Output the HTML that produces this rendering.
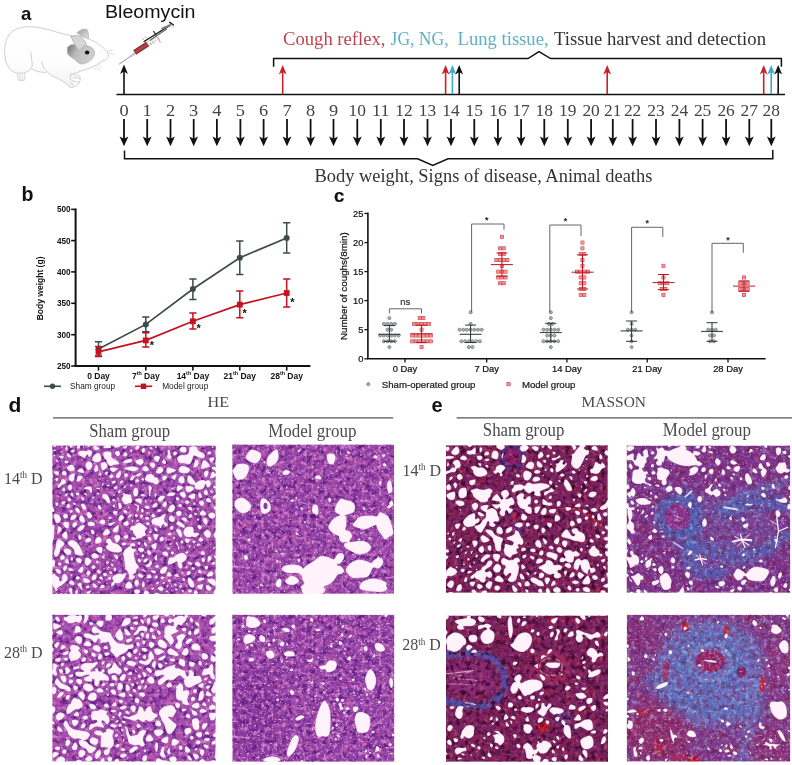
<!DOCTYPE html>
<html lang="en">
<head>
<meta charset="utf-8">
<title>Figure: Bleomycin guinea pig model</title>
<style>
html,body{margin:0;padding:0;background:#fff;}
body{width:792px;height:765px;overflow:hidden;font-family:"Liberation Sans",sans-serif;}
svg{display:block;}
.lab{font-family:"Liberation Sans",sans-serif;font-weight:700;font-size:20.5px;fill:#111;}
</style>
</head>
<body>
<svg width="792" height="765" viewBox="0 0 792 765">
<rect width="792" height="765" fill="#fff"/>
<g id="panel-a">
<text x="21" y="20.1" class="lab" style="font-size:18.6px">a</text>
<text x="105" y="17.7" font-family="'Liberation Sans',sans-serif" font-size="18.8" fill="#111" textLength="90.5" lengthAdjust="spacingAndGlyphs">Bleomycin</text>
<text x="283" y="45.3" font-family="'Liberation Serif',serif" font-size="19.6" lengthAdjust="spacingAndGlyphs" fill="#c0444e" textLength="102.5">Cough reflex,</text>
<text x="390.6" y="45.3" font-family="'Liberation Serif',serif" font-size="19.6" lengthAdjust="spacingAndGlyphs" fill="#5eb0c6" textLength="58">JG, NG,</text>
<text x="457.6" y="45.3" font-family="'Liberation Serif',serif" font-size="19.6" lengthAdjust="spacingAndGlyphs" fill="#5eb0c6" textLength="91">Lung tissue,</text>
<text x="554" y="45.3" font-family="'Liberation Serif',serif" font-size="19.6" lengthAdjust="spacingAndGlyphs" fill="#333" textLength="212">Tissue harvest and detection</text>
<path d="M273.6 66.8V58.6H528L539 51.6L550.6 58.6H781.4V66.8" fill="none" stroke="#111" stroke-width="1.5" stroke-linejoin="miter"/>
<path d="M116.4 94.5H785" stroke="#111" stroke-width="1.6" fill="none"/>
<path d="M124 94V69.5" stroke="#111" stroke-width="1.6" fill="none"/><path d="M124 64.5L127.9 74L124 71.4L120.1 74Z" fill="#111"/>
<path d="M282.7 94V70" stroke="#cc1f2a" stroke-width="1.6" fill="none"/><path d="M282.7 65L286.6 74.5L282.7 71.9L278.8 74.5Z" fill="#cc1f2a"/>
<path d="M445.6 94V70" stroke="#cc1f2a" stroke-width="1.6" fill="none"/><path d="M445.6 65L449.5 74.5L445.6 71.9L441.7 74.5Z" fill="#cc1f2a"/>
<path d="M452.4 94V70" stroke="#3fa9c9" stroke-width="1.6" fill="none"/><path d="M452.4 65L456.3 74.5L452.4 71.9L448.5 74.5Z" fill="#3fa9c9"/>
<path d="M459.2 94V70" stroke="#111" stroke-width="1.6" fill="none"/><path d="M459.2 65L463.1 74.5L459.2 71.9L455.3 74.5Z" fill="#111"/>
<path d="M607.2 94V70" stroke="#cc1f2a" stroke-width="1.6" fill="none"/><path d="M607.2 65L611.1 74.5L607.2 71.9L603.3 74.5Z" fill="#cc1f2a"/>
<path d="M763.7 94V70" stroke="#cc1f2a" stroke-width="1.6" fill="none"/><path d="M763.7 65L767.6 74.5L763.7 71.9L759.8 74.5Z" fill="#cc1f2a"/>
<path d="M771.2 94V70" stroke="#3fa9c9" stroke-width="1.6" fill="none"/><path d="M771.2 65L775.1 74.5L771.2 71.9L767.3 74.5Z" fill="#3fa9c9"/>
<path d="M778.2 94V70" stroke="#111" stroke-width="1.6" fill="none"/><path d="M778.2 65L782.1 74.5L778.2 71.9L774.3 74.5Z" fill="#111"/>
<text x="119.4" y="115.6" font-family="'Liberation Serif',serif" font-size="17" fill="#444" textLength="9.2" lengthAdjust="spacingAndGlyphs">0</text>
<path d="M124 119V141.2" stroke="#111" stroke-width="1.8" fill="none"/><path d="M124 146.2L119.6 136.6L124 138.8L128.4 136.6Z" fill="#111"/>
<text x="142.6" y="115.6" font-family="'Liberation Serif',serif" font-size="17" fill="#444" textLength="9.2" lengthAdjust="spacingAndGlyphs">1</text>
<path d="M147.2 119V141.2" stroke="#111" stroke-width="1.8" fill="none"/><path d="M147.2 146.2L142.8 136.6L147.2 138.8L151.6 136.6Z" fill="#111"/>
<text x="165.9" y="115.6" font-family="'Liberation Serif',serif" font-size="17" fill="#444" textLength="9.2" lengthAdjust="spacingAndGlyphs">2</text>
<path d="M170.5 119V141.2" stroke="#111" stroke-width="1.8" fill="none"/><path d="M170.5 146.2L166.1 136.6L170.5 138.8L174.9 136.6Z" fill="#111"/>
<text x="189.1" y="115.6" font-family="'Liberation Serif',serif" font-size="17" fill="#444" textLength="9.2" lengthAdjust="spacingAndGlyphs">3</text>
<path d="M193.7 119V141.2" stroke="#111" stroke-width="1.8" fill="none"/><path d="M193.7 146.2L189.3 136.6L193.7 138.8L198.1 136.6Z" fill="#111"/>
<text x="212.3" y="115.6" font-family="'Liberation Serif',serif" font-size="17" fill="#444" textLength="9.2" lengthAdjust="spacingAndGlyphs">4</text>
<path d="M216.9 119V141.2" stroke="#111" stroke-width="1.8" fill="none"/><path d="M216.9 146.2L212.5 136.6L216.9 138.8L221.3 136.6Z" fill="#111"/>
<text x="235.8" y="115.6" font-family="'Liberation Serif',serif" font-size="17" fill="#444" textLength="9.2" lengthAdjust="spacingAndGlyphs">5</text>
<path d="M240.4 119V141.2" stroke="#111" stroke-width="1.8" fill="none"/><path d="M240.4 146.2L236 136.6L240.4 138.8L244.8 136.6Z" fill="#111"/>
<text x="259" y="115.6" font-family="'Liberation Serif',serif" font-size="17" fill="#444" textLength="9.2" lengthAdjust="spacingAndGlyphs">6</text>
<path d="M263.6 119V141.2" stroke="#111" stroke-width="1.8" fill="none"/><path d="M263.6 146.2L259.2 136.6L263.6 138.8L268 136.6Z" fill="#111"/>
<text x="282.4" y="115.6" font-family="'Liberation Serif',serif" font-size="17" fill="#444" textLength="9.2" lengthAdjust="spacingAndGlyphs">7</text>
<path d="M287 119V141.2" stroke="#111" stroke-width="1.8" fill="none"/><path d="M287 146.2L282.6 136.6L287 138.8L291.4 136.6Z" fill="#111"/>
<text x="306" y="115.6" font-family="'Liberation Serif',serif" font-size="17" fill="#444" textLength="9.2" lengthAdjust="spacingAndGlyphs">8</text>
<path d="M310.6 119V141.2" stroke="#111" stroke-width="1.8" fill="none"/><path d="M310.6 146.2L306.2 136.6L310.6 138.8L315 136.6Z" fill="#111"/>
<text x="328.9" y="115.6" font-family="'Liberation Serif',serif" font-size="17" fill="#444" textLength="9.2" lengthAdjust="spacingAndGlyphs">9</text>
<path d="M333.5 119V141.2" stroke="#111" stroke-width="1.8" fill="none"/><path d="M333.5 146.2L329.1 136.6L333.5 138.8L337.9 136.6Z" fill="#111"/>
<text x="348.6" y="115.6" font-family="'Liberation Serif',serif" font-size="17" fill="#444" textLength="17.4" lengthAdjust="spacingAndGlyphs">10</text>
<path d="M357.3 119V141.2" stroke="#111" stroke-width="1.8" fill="none"/><path d="M357.3 146.2L352.9 136.6L357.3 138.8L361.7 136.6Z" fill="#111"/>
<text x="372.1" y="115.6" font-family="'Liberation Serif',serif" font-size="17" fill="#444" textLength="17.4" lengthAdjust="spacingAndGlyphs">11</text>
<path d="M380.8 119V141.2" stroke="#111" stroke-width="1.8" fill="none"/><path d="M380.8 146.2L376.4 136.6L380.8 138.8L385.2 136.6Z" fill="#111"/>
<text x="395.3" y="115.6" font-family="'Liberation Serif',serif" font-size="17" fill="#444" textLength="17.4" lengthAdjust="spacingAndGlyphs">12</text>
<path d="M404 119V141.2" stroke="#111" stroke-width="1.8" fill="none"/><path d="M404 146.2L399.6 136.6L404 138.8L408.4 136.6Z" fill="#111"/>
<text x="418.8" y="115.6" font-family="'Liberation Serif',serif" font-size="17" fill="#444" textLength="17.4" lengthAdjust="spacingAndGlyphs">13</text>
<path d="M427.5 119V141.2" stroke="#111" stroke-width="1.8" fill="none"/><path d="M427.5 146.2L423.1 136.6L427.5 138.8L431.9 136.6Z" fill="#111"/>
<text x="442.3" y="115.6" font-family="'Liberation Serif',serif" font-size="17" fill="#444" textLength="17.4" lengthAdjust="spacingAndGlyphs">14</text>
<path d="M451 119V141.2" stroke="#111" stroke-width="1.8" fill="none"/><path d="M451 146.2L446.6 136.6L451 138.8L455.4 136.6Z" fill="#111"/>
<text x="465.6" y="115.6" font-family="'Liberation Serif',serif" font-size="17" fill="#444" textLength="17.4" lengthAdjust="spacingAndGlyphs">15</text>
<path d="M474.3 119V141.2" stroke="#111" stroke-width="1.8" fill="none"/><path d="M474.3 146.2L469.9 136.6L474.3 138.8L478.7 136.6Z" fill="#111"/>
<text x="489.2" y="115.6" font-family="'Liberation Serif',serif" font-size="17" fill="#444" textLength="17.4" lengthAdjust="spacingAndGlyphs">16</text>
<path d="M497.9 119V141.2" stroke="#111" stroke-width="1.8" fill="none"/><path d="M497.9 146.2L493.5 136.6L497.9 138.8L502.3 136.6Z" fill="#111"/>
<text x="512.4" y="115.6" font-family="'Liberation Serif',serif" font-size="17" fill="#444" textLength="17.4" lengthAdjust="spacingAndGlyphs">17</text>
<path d="M521.1 119V141.2" stroke="#111" stroke-width="1.8" fill="none"/><path d="M521.1 146.2L516.7 136.6L521.1 138.8L525.5 136.6Z" fill="#111"/>
<text x="535.6" y="115.6" font-family="'Liberation Serif',serif" font-size="17" fill="#444" textLength="17.4" lengthAdjust="spacingAndGlyphs">18</text>
<path d="M544.3 119V141.2" stroke="#111" stroke-width="1.8" fill="none"/><path d="M544.3 146.2L539.9 136.6L544.3 138.8L548.7 136.6Z" fill="#111"/>
<text x="559.1" y="115.6" font-family="'Liberation Serif',serif" font-size="17" fill="#444" textLength="17.4" lengthAdjust="spacingAndGlyphs">19</text>
<path d="M567.8 119V141.2" stroke="#111" stroke-width="1.8" fill="none"/><path d="M567.8 146.2L563.4 136.6L567.8 138.8L572.2 136.6Z" fill="#111"/>
<text x="582.4" y="115.6" font-family="'Liberation Serif',serif" font-size="17" fill="#444" textLength="17.4" lengthAdjust="spacingAndGlyphs">20</text>
<path d="M591.1 119V141.2" stroke="#111" stroke-width="1.8" fill="none"/><path d="M591.1 146.2L586.7 136.6L591.1 138.8L595.5 136.6Z" fill="#111"/>
<text x="604.1" y="115.6" font-family="'Liberation Serif',serif" font-size="17" fill="#444" textLength="17.4" lengthAdjust="spacingAndGlyphs">21</text>
<path d="M612.8 119V141.2" stroke="#111" stroke-width="1.8" fill="none"/><path d="M612.8 146.2L608.4 136.6L612.8 138.8L617.2 136.6Z" fill="#111"/>
<text x="623.9" y="115.6" font-family="'Liberation Serif',serif" font-size="17" fill="#444" textLength="17.4" lengthAdjust="spacingAndGlyphs">22</text>
<path d="M632.6 119V141.2" stroke="#111" stroke-width="1.8" fill="none"/><path d="M632.6 146.2L628.2 136.6L632.6 138.8L637 136.6Z" fill="#111"/>
<text x="647.3" y="115.6" font-family="'Liberation Serif',serif" font-size="17" fill="#444" textLength="17.4" lengthAdjust="spacingAndGlyphs">23</text>
<path d="M656 119V141.2" stroke="#111" stroke-width="1.8" fill="none"/><path d="M656 146.2L651.6 136.6L656 138.8L660.4 136.6Z" fill="#111"/>
<text x="670.7" y="115.6" font-family="'Liberation Serif',serif" font-size="17" fill="#444" textLength="17.4" lengthAdjust="spacingAndGlyphs">24</text>
<path d="M679.4 119V141.2" stroke="#111" stroke-width="1.8" fill="none"/><path d="M679.4 146.2L675 136.6L679.4 138.8L683.8 136.6Z" fill="#111"/>
<text x="693.9" y="115.6" font-family="'Liberation Serif',serif" font-size="17" fill="#444" textLength="17.4" lengthAdjust="spacingAndGlyphs">25</text>
<path d="M702.6 119V141.2" stroke="#111" stroke-width="1.8" fill="none"/><path d="M702.6 146.2L698.2 136.6L702.6 138.8L707 136.6Z" fill="#111"/>
<text x="717.4" y="115.6" font-family="'Liberation Serif',serif" font-size="17" fill="#444" textLength="17.4" lengthAdjust="spacingAndGlyphs">26</text>
<path d="M726.1 119V141.2" stroke="#111" stroke-width="1.8" fill="none"/><path d="M726.1 146.2L721.7 136.6L726.1 138.8L730.5 136.6Z" fill="#111"/>
<text x="740.6" y="115.6" font-family="'Liberation Serif',serif" font-size="17" fill="#444" textLength="17.4" lengthAdjust="spacingAndGlyphs">27</text>
<path d="M749.3 119V141.2" stroke="#111" stroke-width="1.8" fill="none"/><path d="M749.3 146.2L744.9 136.6L749.3 138.8L753.7 136.6Z" fill="#111"/>
<text x="762.6" y="115.6" font-family="'Liberation Serif',serif" font-size="17" fill="#444" textLength="17.4" lengthAdjust="spacingAndGlyphs">28</text>
<path d="M771.3 119V141.2" stroke="#111" stroke-width="1.8" fill="none"/><path d="M771.3 146.2L766.9 136.6L771.3 138.8L775.7 136.6Z" fill="#111"/>
<path d="M124.5 150.5V158.7H417.6L432.8 165.4L448 158.7H772.8V150" fill="none" stroke="#111" stroke-width="1.5"/>
<text x="314.4" y="182.2" font-family="'Liberation Serif',serif" font-size="18.6" fill="#333" textLength="338" lengthAdjust="spacingAndGlyphs">Body weight, Signs of disease, Animal deaths</text>
</g>
<g id="guinea-pig" fill="none" stroke="#c9c9c9" stroke-width="0.9" stroke-linecap="round" stroke-linejoin="round">
<defs><linearGradient id="pgEar" x1="0" y1="0" x2="1" y2="1"><stop offset="0" stop-color="#9a9a9a"/><stop offset="1" stop-color="#e4e4e4"/></linearGradient><linearGradient id="pgPatch" x1="0" y1="0" x2="1" y2="0.4"><stop offset="0" stop-color="#6f6f6f"/><stop offset="0.45" stop-color="#bdbdbd"/><stop offset="1" stop-color="#cfcfcf"/></linearGradient><linearGradient id="pgBody" x1="0" y1="0" x2="0" y2="1"><stop offset="0" stop-color="#ffffff"/><stop offset="0.6" stop-color="#fdfdfd"/><stop offset="1" stop-color="#f1f1f1"/></linearGradient></defs>
<path d="M5.6 60.6Q5.6 60.6 5.0 56.8Q4.5 53.0 4.6 50.2Q4.7 47.4 5.5 43.0Q6.3 38.7 9.1 34.8Q11.8 30.8 16.6 28.9Q21.3 27.0 27.2 26.7Q33.1 26.4 40.2 27.8Q47.3 29.2 54.5 31.4Q61.6 33.6 66.3 34.7Q71.0 35.8 76.5 36.0Q82.0 36.2 87.2 38.2Q92.3 40.3 96.7 43.0Q101.0 45.8 104.3 48.7Q107.6 51.6 108.3 54.0Q109.0 56.4 107.2 58.6Q105.5 60.8 104.2 60.7Q102.8 60.6 102.8 60.6Q102.8 60.6 100.9 62.1Q99.0 63.6 96.7 64.8Q94.4 66.1 91.7 67.2Q89.0 68.4 86.2 69.3Q83.3 70.3 80.2 71.4Q77.0 72.6 73.9 73.5Q70.8 74.4 72.9 77.2Q75.0 80.0 73.6 83.8Q72.2 87.6 70.8 87.2Q69.4 86.9 68.1 85.6Q66.7 84.2 64.7 82.7Q62.6 81.2 60.5 79.9Q58.3 78.6 56.1 77.7Q54.0 76.8 52.0 75.6Q50.0 74.4 48.5 73.1Q47.0 71.8 45.7 70.3Q44.4 68.9 43.5 67.3Q42.6 65.8 42.2 63.8Q41.7 61.9 43.8 67.2Q45.8 72.4 43.9 72.3Q42.0 72.3 40.5 72.0Q38.9 71.7 37.0 71.2Q35.0 70.8 33.5 69.8Q31.9 68.9 31.8 64.8Q31.7 60.6 32.1 62.3Q32.6 64.0 32.0 66.1Q31.3 68.2 30.4 69.4Q29.4 70.6 27.5 71.5Q25.7 72.4 23.4 72.9Q21.0 73.4 18.9 73.2Q16.7 73.1 14.8 72.4Q13.0 71.8 11.3 70.3Q9.7 68.9 8.6 67.2Q7.4 65.5 6.5 63.0Q5.6 60.6 5.6 60.6Z" fill="url(#pgBody)" stroke="none"/>
<path d="M5.6 60.6Q4.5 53.0 4.6 50.2Q4.7 47.4 5.5 43.0Q6.3 38.7 9.1 34.8Q11.8 30.8 16.6 28.9Q21.3 27.0 27.2 26.7Q33.1 26.4 40.2 27.8Q47.3 29.2 54.5 31.4Q61.6 33.6 66.3 34.7Q71.0 35.8 76.5 36.0Q82.0 36.2 87.2 38.2Q92.3 40.3 96.7 43.0Q101.0 45.8 104.3 48.7Q107.6 51.6 108.3 54.0Q109.0 56.4 107.2 58.6Q105.5 60.8 104.2 60.7L102.8 60.6"/>
<path d="M5.6 60.6Q7.4 65.5 8.6 67.2Q9.7 68.9 11.3 70.3Q13.0 71.8 14.8 72.4Q16.7 73.1 18.9 73.2Q21.0 73.4 23.4 72.9Q25.7 72.4 27.5 71.5Q29.4 70.6 30.4 69.4Q31.3 68.2 32.0 66.1Q32.6 64.0 32.1 62.3Q31.7 60.6 31.5 58.3Q31.4 56.0 31.0 54.0L30.6 52.1"/>
<path d="M31.9 68.9Q35.0 70.8 37.0 71.2Q38.9 71.7 40.5 72.0Q42.0 72.3 43.9 72.3L45.8 72.4"/>
<path d="M41.7 61.9Q42.6 65.8 43.5 67.3Q44.4 68.9 45.7 70.3Q47.0 71.8 48.5 73.1Q50.0 74.4 52.0 75.6Q54.0 76.8 56.1 77.7Q58.3 78.6 60.5 79.9Q62.6 81.2 64.7 82.7Q66.7 84.2 68.1 85.6L69.4 86.9"/>
<path d="M70.8 74.4Q77.0 72.6 80.2 71.4Q83.3 70.3 86.2 69.3Q89.0 68.4 91.7 67.2Q94.4 66.1 96.7 64.8Q99.0 63.6 100.9 62.1L102.8 60.6"/>
<path d="M17.6 73.6Q17 77.5 18.4 80M19.8 74.4L20.2 80.6M22.2 74.4L22.4 80.6M24.8 73.4Q25.4 77.4 24 80.2M18.4 80Q21 81.6 24 80.2" stroke="#cdcdcd" stroke-width="0.8"/>
<path d="M70.8 74.4Q69.4 77 70.6 79.6M70.8 74.6L77.6 75.2M73.4 77.6L80.2 78.2M72 80.8L79 82.4M70.4 83.2L75.4 86.6M69.4 86.9Q71.6 88.4 74 87.2M77.6 75.2Q80.8 76.2 80.2 78.2Q80.6 80.6 79 82.4Q77.8 85.4 75.4 86.6" stroke="#c6c6c6" stroke-width="0.8"/>
<path d="M96.4 66.6L99.4 71M93.6 67.6L95.4 70.2M98.4 65L101 67.4M108.6 52.8L113.4 54.6M108.2 50.8L112.4 50.2" stroke="#d0d0d0" stroke-width="0.7"/>
<path d="M77.0 32.7Q82.1 27.6 87.1 29.5Q89.2 33.2 88.4 38.7L82.1 36.3Z" fill="url(#pgEar)" stroke="#bdbdbd"/>
<path d="M67.6 47.4Q70.2 43.7 75.8 44.4L86.0 45.3Q94.4 47.4 94.7 52.9Q93.9 60.0 84.4 63.6Q79.7 65.2 75.4 60.0L70.2 56.4Q66.0 53.7 67.6 47.4Z" fill="url(#pgPatch)" stroke="#b5b5b5"/>
<path d="M71.0 36.5Q75.8 34.7 79.7 36.3Q86.0 41.0 86.5 44.2L78.9 50.5Q74.2 45.0 71.0 36.5Z" fill="#d6d6d6" stroke="#b8b8b8"/>
<ellipse cx="87.1" cy="52.4" rx="2.2" ry="2" fill="#0c0c0c" stroke="none"/>
</g>
<g id="syringe" stroke-linecap="round" fill="none">
<path d="M119.3 64.1L134.0 54.0" stroke="#8a8a8a" stroke-width="0.9"/>
<path d="M129.7 56.9L134.2 53.7" stroke="#b9c0c8" stroke-width="1.8"/>
<path d="M146.4 44.8L158.3 36.7" stroke="#d9d9d9" stroke-width="5.2" stroke-linecap="butt"/>
<path d="M146.4 44.8L158.3 36.7" stroke="#f4f4f4" stroke-width="3" stroke-linecap="butt"/>
<path d="M134.6 52.6L147.6 43.9" stroke="#8a2a31" stroke-width="5.4" stroke-linecap="butt"/>
<path d="M135.1 52.3L147.2 44.2" stroke="#b24148" stroke-width="3" stroke-linecap="butt"/>
<path d="M142.3 38.4L145.6 41.3M144.8 36.7L147.6 39.2M150.2 43.3L151.6 44.9M152.4 41.5L154.0 43.3" stroke="#9a9a9a" stroke-width="0.7"/>
<path d="M153.6 31.4L156.3 35.2" stroke="#222" stroke-width="1.1"/>
<path d="M157.7 37.4Q159.7 39.2 160.2 42.1" stroke="#b98a90" stroke-width="1"/>
<path d="M144.1 41.5L169.1 25.9" stroke="#1d1d1d" stroke-width="1.4"/>
<path d="M150.4 40.3L166.6 29.1" stroke="#6b6b6b" stroke-width="1.2"/>
<path d="M162.5 28.6L170.6 25.1" stroke="#7a7a7a" stroke-width="2.2"/>
<path d="M169.6 22.3L173.4 24.9" stroke="#2a2a2a" stroke-width="1.5"/>
<path d="M171.1 25.1L173.6 27.6" stroke="#e7c9cc" stroke-width="1.2"/>
</g>
<g id="panel-b" font-family="'Liberation Sans',sans-serif">
<text x="21.6" y="200.5" class="lab" style="font-size:19.6px">b</text>
<path d="M75.6 208.4V367M74.6 366H310.4" stroke="#111" stroke-width="2" fill="none"/>
<path d="M71.2 209.4H75.6" stroke="#111" stroke-width="1.6"/>
<text x="70.6" y="212.3" font-size="8.2" font-weight="700" fill="#111" text-anchor="end">500</text>
<path d="M71.2 240.6H75.6" stroke="#111" stroke-width="1.6"/>
<text x="70.6" y="243.5" font-size="8.2" font-weight="700" fill="#111" text-anchor="end">450</text>
<path d="M71.2 271.9H75.6" stroke="#111" stroke-width="1.6"/>
<text x="70.6" y="274.8" font-size="8.2" font-weight="700" fill="#111" text-anchor="end">400</text>
<path d="M71.2 303.3H75.6" stroke="#111" stroke-width="1.6"/>
<text x="70.6" y="306.2" font-size="8.2" font-weight="700" fill="#111" text-anchor="end">350</text>
<path d="M71.2 334.7H75.6" stroke="#111" stroke-width="1.6"/>
<text x="70.6" y="337.6" font-size="8.2" font-weight="700" fill="#111" text-anchor="end">300</text>
<path d="M71.2 366H75.6" stroke="#111" stroke-width="1.6"/>
<text x="70.6" y="368.9" font-size="8.2" font-weight="700" fill="#111" text-anchor="end">250</text>
<path d="M98.5 366V370.6" stroke="#111" stroke-width="1.6"/>
<text x="98.5" y="378.6" font-size="8.5" font-weight="700" fill="#111" text-anchor="middle">0 Day</text>
<path d="M145.8 366V370.6" stroke="#111" stroke-width="1.6"/>
<text x="145.8" y="378.6" font-size="8.5" font-weight="700" fill="#111" text-anchor="middle">7<tspan font-size="5.4" dy="-3.2">th</tspan><tspan dy="3.2"> Day</tspan></text>
<path d="M192.9 366V370.6" stroke="#111" stroke-width="1.6"/>
<text x="192.9" y="378.6" font-size="8.5" font-weight="700" fill="#111" text-anchor="middle">14<tspan font-size="5.4" dy="-3.2">th</tspan><tspan dy="3.2"> Day</tspan></text>
<path d="M239.8 366V370.6" stroke="#111" stroke-width="1.6"/>
<text x="239.8" y="378.6" font-size="8.5" font-weight="700" fill="#111" text-anchor="middle">21<tspan font-size="5.4" dy="-3.2">th</tspan><tspan dy="3.2"> Day</tspan></text>
<path d="M286.7 366V370.6" stroke="#111" stroke-width="1.6"/>
<text x="286.7" y="378.6" font-size="8.5" font-weight="700" fill="#111" text-anchor="middle">28<tspan font-size="5.4" dy="-3.2">th</tspan><tspan dy="3.2"> Day</tspan></text>
<text transform="translate(43.4 288.4) rotate(-90)" font-size="8.5" font-weight="700" fill="#111" text-anchor="middle">Body weight (g)</text>
<path d="M98.5 349L145.8 324.4L192.9 289L239.8 257.7L286.7 238" stroke="#3c4b4b" stroke-width="1.7" fill="none"/>
<path d="M98.5 341.7V356M94.9 341.7H102.1M94.9 356H102.1" stroke="#3c4b4b" stroke-width="1.5" fill="none"/>
<circle cx="98.5" cy="349" r="3" fill="#3c4b4b"/>
<path d="M145.8 317V331.7M142.2 317H149.4M142.2 331.7H149.4" stroke="#3c4b4b" stroke-width="1.5" fill="none"/>
<circle cx="145.8" cy="324.4" r="3" fill="#3c4b4b"/>
<path d="M192.9 279V299.4M189.3 279H196.5M189.3 299.4H196.5" stroke="#3c4b4b" stroke-width="1.5" fill="none"/>
<circle cx="192.9" cy="289" r="3" fill="#3c4b4b"/>
<path d="M239.8 241V274.4M236.2 241H243.4M236.2 274.4H243.4" stroke="#3c4b4b" stroke-width="1.5" fill="none"/>
<circle cx="239.8" cy="257.7" r="3" fill="#3c4b4b"/>
<path d="M286.7 222.7V253M283.1 222.7H290.3M283.1 253H290.3" stroke="#3c4b4b" stroke-width="1.5" fill="none"/>
<circle cx="286.7" cy="238" r="3" fill="#3c4b4b"/>
<path d="M98.5 351.9L145.8 340.4L192.9 321.3L239.8 304.6L286.7 293" stroke="#c4121f" stroke-width="1.7" fill="none"/>
<path d="M98.5 346.4V356.6M94.9 346.4H102.1M94.9 356.6H102.1" stroke="#c4121f" stroke-width="1.5" fill="none"/>
<rect x="95.6" y="349" width="5.8" height="5.8" fill="#c4121f"/>
<path d="M145.8 332.7V347M142.2 332.7H149.4M142.2 347H149.4" stroke="#c4121f" stroke-width="1.5" fill="none"/>
<rect x="142.9" y="337.5" width="5.8" height="5.8" fill="#c4121f"/>
<path d="M192.9 313V329M189.3 313H196.5M189.3 329H196.5" stroke="#c4121f" stroke-width="1.5" fill="none"/>
<rect x="190" y="318.4" width="5.8" height="5.8" fill="#c4121f"/>
<path d="M239.8 291V317.7M236.2 291H243.4M236.2 317.7H243.4" stroke="#c4121f" stroke-width="1.5" fill="none"/>
<rect x="236.9" y="301.7" width="5.8" height="5.8" fill="#c4121f"/>
<path d="M286.7 279V307M283.1 279H290.3M283.1 307H290.3" stroke="#c4121f" stroke-width="1.5" fill="none"/>
<rect x="283.8" y="290.1" width="5.8" height="5.8" fill="#c4121f"/>
<text x="152" y="348.6" font-size="11" font-weight="700" fill="#111" text-anchor="middle">*</text>
<text x="198.6" y="332.4" font-size="11" font-weight="700" fill="#111" text-anchor="middle">*</text>
<text x="244.6" y="316.6" font-size="11" font-weight="700" fill="#111" text-anchor="middle">*</text>
<text x="292.4" y="306.4" font-size="11" font-weight="700" fill="#111" text-anchor="middle">*</text>
<path d="M44 386.3H61" stroke="#3c4b4b" stroke-width="1.6"/><circle cx="52.5" cy="386.3" r="2.7" fill="#3c4b4b"/>
<text x="70" y="389.2" font-size="8.3" fill="#222">Sham group</text>
<path d="M135 386.3H152.2" stroke="#c4121f" stroke-width="1.6"/><rect x="140.8" y="383.6" width="5.4" height="5.4" fill="#c4121f"/>
<text x="162.2" y="389.2" font-size="8.3" fill="#222">Model group</text>
</g>
<g id="panel-c" font-family="'Liberation Sans',sans-serif" stroke="#111" stroke-width="0.22" paint-order="stroke">
<text x="334" y="201.7" class="lab" style="font-size:18.6px">c</text>
<path d="M367.9 212.6V359.6M367.2 358.8H765.6" stroke="#111" stroke-width="1.6" fill="none"/>
<path d="M364.4 358.8H367.9" stroke="#111" stroke-width="1.3"/>
<text x="363.4" y="362.1" font-size="9.3" fill="#111" text-anchor="end">0</text>
<path d="M364.4 329.7H367.9" stroke="#111" stroke-width="1.3"/>
<text x="363.4" y="333" font-size="9.3" fill="#111" text-anchor="end">5</text>
<path d="M364.4 300.6H367.9" stroke="#111" stroke-width="1.3"/>
<text x="363.4" y="303.9" font-size="9.3" fill="#111" text-anchor="end">10</text>
<path d="M364.4 271.6H367.9" stroke="#111" stroke-width="1.3"/>
<text x="363.4" y="274.9" font-size="9.3" fill="#111" text-anchor="end">15</text>
<path d="M364.4 242.6H367.9" stroke="#111" stroke-width="1.3"/>
<text x="363.4" y="245.9" font-size="9.3" fill="#111" text-anchor="end">20</text>
<path d="M364.4 213.5H367.9" stroke="#111" stroke-width="1.3"/>
<text x="363.4" y="216.8" font-size="9.3" fill="#111" text-anchor="end">25</text>
<text transform="translate(347.2 286.2) rotate(-90)" font-size="9.8" fill="#111" text-anchor="middle">Number of coughs(8min)</text>
<path d="M405 358.8V362.4" stroke="#111" stroke-width="1.3"/>
<text x="405" y="372.4" font-size="9.4" fill="#111" text-anchor="middle">0 Day</text>
<path d="M486.7 358.8V362.4" stroke="#111" stroke-width="1.3"/>
<text x="486.7" y="372.4" font-size="9.4" fill="#111" text-anchor="middle">7 Day</text>
<path d="M566.9 358.8V362.4" stroke="#111" stroke-width="1.3"/>
<text x="566.9" y="372.4" font-size="9.4" fill="#111" text-anchor="middle">14 Day</text>
<path d="M647.2 358.8V362.4" stroke="#111" stroke-width="1.3"/>
<text x="647.2" y="372.4" font-size="9.4" fill="#111" text-anchor="middle">21 Day</text>
<path d="M728 358.8V362.4" stroke="#111" stroke-width="1.3"/>
<text x="728" y="372.4" font-size="9.4" fill="#111" text-anchor="middle">28 Day</text>
<g fill="#a2aaaa" stroke="#3c4747" stroke-width="0.8">
<circle cx="389.4" cy="318.1" r="1.45"/><circle cx="383.8" cy="323.9" r="1.45"/><circle cx="387.5" cy="323.9" r="1.45"/><circle cx="391.2" cy="323.9" r="1.45"/><circle cx="394.9" cy="323.9" r="1.45"/><circle cx="387.5" cy="329.7" r="1.45"/><circle cx="391.2" cy="329.7" r="1.45"/><circle cx="380.1" cy="335.5" r="1.45"/><circle cx="383.8" cy="335.5" r="1.45"/><circle cx="387.5" cy="335.5" r="1.45"/><circle cx="391.2" cy="335.5" r="1.45"/><circle cx="394.9" cy="335.5" r="1.45"/><circle cx="398.6" cy="335.5" r="1.45"/><circle cx="383.8" cy="341.3" r="1.45"/><circle cx="387.5" cy="341.3" r="1.45"/><circle cx="391.2" cy="341.3" r="1.45"/><circle cx="394.9" cy="341.3" r="1.45"/><circle cx="389.4" cy="347.1" r="1.45"/>
<circle cx="470.6" cy="312.3" r="1.45"/><circle cx="470.6" cy="323.9" r="1.45"/><circle cx="459.5" cy="329.7" r="1.45"/><circle cx="463.2" cy="329.7" r="1.45"/><circle cx="466.9" cy="329.7" r="1.45"/><circle cx="470.6" cy="329.7" r="1.45"/><circle cx="474.3" cy="329.7" r="1.45"/><circle cx="478" cy="329.7" r="1.45"/><circle cx="481.7" cy="329.7" r="1.45"/><circle cx="461.4" cy="341.3" r="1.45"/><circle cx="465.1" cy="341.3" r="1.45"/><circle cx="468.8" cy="341.3" r="1.45"/><circle cx="472.5" cy="341.3" r="1.45"/><circle cx="476.2" cy="341.3" r="1.45"/><circle cx="479.9" cy="341.3" r="1.45"/><circle cx="468.8" cy="347.1" r="1.45"/><circle cx="472.5" cy="347.1" r="1.45"/>
<circle cx="550.8" cy="312.3" r="1.45"/><circle cx="550.8" cy="318.1" r="1.45"/><circle cx="548.9" cy="323.9" r="1.45"/><circle cx="552.6" cy="323.9" r="1.45"/><circle cx="543.4" cy="329.7" r="1.45"/><circle cx="547.1" cy="329.7" r="1.45"/><circle cx="550.8" cy="329.7" r="1.45"/><circle cx="554.5" cy="329.7" r="1.45"/><circle cx="558.2" cy="329.7" r="1.45"/><circle cx="547.1" cy="335.5" r="1.45"/><circle cx="550.8" cy="335.5" r="1.45"/><circle cx="554.5" cy="335.5" r="1.45"/><circle cx="543.4" cy="341.3" r="1.45"/><circle cx="547.1" cy="341.3" r="1.45"/><circle cx="550.8" cy="341.3" r="1.45"/><circle cx="554.5" cy="341.3" r="1.45"/><circle cx="558.2" cy="341.3" r="1.45"/><circle cx="550.8" cy="347.1" r="1.45"/>
<circle cx="631.6" cy="312.3" r="1.45"/><circle cx="631.6" cy="323.9" r="1.45"/><circle cx="627.9" cy="329.7" r="1.45"/><circle cx="631.6" cy="329.7" r="1.45"/><circle cx="635.3" cy="329.7" r="1.45"/><circle cx="631.6" cy="335.5" r="1.45"/><circle cx="631.6" cy="341.3" r="1.45"/><circle cx="631.6" cy="347.1" r="1.45"/>
<circle cx="712" cy="312.3" r="1.45"/><circle cx="708.3" cy="329.7" r="1.45"/><circle cx="712" cy="329.7" r="1.45"/><circle cx="715.7" cy="329.7" r="1.45"/><circle cx="710.1" cy="335.5" r="1.45"/><circle cx="713.9" cy="335.5" r="1.45"/><circle cx="710.1" cy="341.3" r="1.45"/><circle cx="713.9" cy="341.3" r="1.45"/>
</g>
<path d="M378.4 334.3H400.4M389.4 325.6V341.3M383.9 325.6H394.9M383.9 341.3H394.9" stroke="#2c3434" stroke-width="1" fill="none"/>
<path d="M459.6 334.3H481.6M470.6 325.1V342.5M465.1 325.1H476.1M465.1 342.5H476.1" stroke="#2c3434" stroke-width="1" fill="none"/>
<path d="M539.8 332.6H561.8M550.8 323.3V341.3M545.3 323.3H556.3M545.3 341.3H556.3" stroke="#2c3434" stroke-width="1" fill="none"/>
<path d="M620.6 330.9H642.6M631.6 321V341.3M626.1 321H637.1M626.1 341.3H637.1" stroke="#2c3434" stroke-width="1" fill="none"/>
<path d="M701 331.4H723M712 322.7V341.3M706.5 322.7H717.5M706.5 341.3H717.5" stroke="#2c3434" stroke-width="1" fill="none"/>
<g fill="#ec9093" stroke="#c2141f" stroke-width="0.8">
<rect x="418.2" y="316.6" width="2.9" height="2.9"/><rect x="421.9" y="316.6" width="2.9" height="2.9"/><rect x="412.7" y="322.4" width="2.9" height="2.9"/><rect x="416.4" y="322.4" width="2.9" height="2.9"/><rect x="420.1" y="322.4" width="2.9" height="2.9"/><rect x="423.8" y="322.4" width="2.9" height="2.9"/><rect x="427.4" y="322.4" width="2.9" height="2.9"/><rect x="420.1" y="328.2" width="2.9" height="2.9"/><rect x="410.8" y="334.1" width="2.9" height="2.9"/><rect x="414.5" y="334.1" width="2.9" height="2.9"/><rect x="418.2" y="334.1" width="2.9" height="2.9"/><rect x="421.9" y="334.1" width="2.9" height="2.9"/><rect x="425.6" y="334.1" width="2.9" height="2.9"/><rect x="429.3" y="334.1" width="2.9" height="2.9"/><rect x="410.8" y="339.9" width="2.9" height="2.9"/><rect x="414.5" y="339.9" width="2.9" height="2.9"/><rect x="418.2" y="339.9" width="2.9" height="2.9"/><rect x="421.9" y="339.9" width="2.9" height="2.9"/><rect x="425.6" y="339.9" width="2.9" height="2.9"/><rect x="429.3" y="339.9" width="2.9" height="2.9"/><rect x="420.1" y="345.7" width="2.9" height="2.9"/>
<rect x="500.4" y="235.3" width="2.9" height="2.9"/><rect x="498.6" y="246.9" width="2.9" height="2.9"/><rect x="502.3" y="246.9" width="2.9" height="2.9"/><rect x="498.6" y="252.7" width="2.9" height="2.9"/><rect x="502.3" y="252.7" width="2.9" height="2.9"/><rect x="494.9" y="258.5" width="2.9" height="2.9"/><rect x="498.6" y="258.5" width="2.9" height="2.9"/><rect x="502.3" y="258.5" width="2.9" height="2.9"/><rect x="506" y="258.5" width="2.9" height="2.9"/><rect x="500.4" y="264.3" width="2.9" height="2.9"/><rect x="496.8" y="270.2" width="2.9" height="2.9"/><rect x="500.4" y="270.2" width="2.9" height="2.9"/><rect x="504.1" y="270.2" width="2.9" height="2.9"/><rect x="496.8" y="276" width="2.9" height="2.9"/><rect x="500.4" y="276" width="2.9" height="2.9"/><rect x="504.1" y="276" width="2.9" height="2.9"/><rect x="498.6" y="281.8" width="2.9" height="2.9"/><rect x="502.3" y="281.8" width="2.9" height="2.9"/>
<rect x="581" y="241.1" width="2.9" height="2.9"/><rect x="581" y="246.9" width="2.9" height="2.9"/><rect x="579.2" y="252.7" width="2.9" height="2.9"/><rect x="582.9" y="252.7" width="2.9" height="2.9"/><rect x="581" y="258.5" width="2.9" height="2.9"/><rect x="581" y="264.3" width="2.9" height="2.9"/><rect x="575.5" y="270.2" width="2.9" height="2.9"/><rect x="579.2" y="270.2" width="2.9" height="2.9"/><rect x="582.9" y="270.2" width="2.9" height="2.9"/><rect x="586.6" y="270.2" width="2.9" height="2.9"/><rect x="579.2" y="276" width="2.9" height="2.9"/><rect x="582.9" y="276" width="2.9" height="2.9"/><rect x="579.2" y="281.8" width="2.9" height="2.9"/><rect x="582.9" y="281.8" width="2.9" height="2.9"/><rect x="579.2" y="287.6" width="2.9" height="2.9"/><rect x="582.9" y="287.6" width="2.9" height="2.9"/><rect x="579.2" y="293.4" width="2.9" height="2.9"/><rect x="582.9" y="293.4" width="2.9" height="2.9"/>
<rect x="662" y="264.3" width="2.9" height="2.9"/><rect x="662" y="276" width="2.9" height="2.9"/><rect x="658.3" y="281.8" width="2.9" height="2.9"/><rect x="662" y="281.8" width="2.9" height="2.9"/><rect x="665.8" y="281.8" width="2.9" height="2.9"/><rect x="660.2" y="287.6" width="2.9" height="2.9"/><rect x="663.9" y="287.6" width="2.9" height="2.9"/><rect x="662" y="293.4" width="2.9" height="2.9"/>
<rect x="742.5" y="276" width="2.9" height="2.9"/><rect x="738.8" y="281.8" width="2.9" height="2.9"/><rect x="742.5" y="281.8" width="2.9" height="2.9"/><rect x="746.2" y="281.8" width="2.9" height="2.9"/><rect x="738.8" y="287.6" width="2.9" height="2.9"/><rect x="742.5" y="287.6" width="2.9" height="2.9"/><rect x="746.2" y="287.6" width="2.9" height="2.9"/><rect x="742.5" y="293.4" width="2.9" height="2.9"/>
</g>
<path d="M410.5 333.8H432.5M421.5 325.1V342.5M416 325.1H427M416 342.5H427" stroke="#c2141f" stroke-width="1" fill="none"/>
<path d="M490.9 264.6H512.9M501.9 253V276.2M496.4 253H507.4M496.4 276.2H507.4" stroke="#c2141f" stroke-width="1" fill="none"/>
<path d="M571.5 272.2H593.5M582.5 254.8V289M577 254.8H588M577 289H588" stroke="#c2141f" stroke-width="1" fill="none"/>
<path d="M652.5 282.6H674.5M663.5 274.5V289.6M658 274.5H669M658 289.6H669" stroke="#c2141f" stroke-width="1" fill="none"/>
<path d="M733 286.1H755M744 280.9V291.4M738.5 280.9H749.5M738.5 291.4H749.5" stroke="#c2141f" stroke-width="1" fill="none"/>
<path d="M389.4 313.4V308.8H421.5V313.4" stroke="#555" stroke-width="0.9" fill="none"/>
<text x="405.2" y="305.2" font-size="9.4" fill="#333" text-anchor="middle">ns</text>
<path d="M471.6 312.3V224H504V229.8" stroke="#555" stroke-width="0.9" fill="none"/>
<path d="M549.8 312.3V225H581V236" stroke="#555" stroke-width="0.9" fill="none"/>
<path d="M631.6 312.3V227.3H662.8V237" stroke="#555" stroke-width="0.9" fill="none"/>
<path d="M712 312.3V243.3H743.3V252.7" stroke="#555" stroke-width="0.9" fill="none"/>
<text x="486.7" y="223.4" font-size="9" fill="#222" text-anchor="middle">*</text>
<text x="565.4" y="224.4" font-size="9" fill="#222" text-anchor="middle">*</text>
<text x="647.2" y="226.3" font-size="9" fill="#222" text-anchor="middle">*</text>
<text x="728" y="242.9" font-size="9" fill="#222" text-anchor="middle">*</text>
<circle cx="368.3" cy="384.2" r="1.5" fill="#a2aaaa" stroke="#3c4747" stroke-width="0.8"/>
<text x="381.8" y="387.5" font-size="9.65" fill="#222">Sham-operated group</text>
<rect x="507" y="382.7" width="3" height="3" fill="#ec9093" stroke="#c2141f" stroke-width="0.9"/>
<text x="521.9" y="387.5" font-size="9.65" fill="#222">Model group</text>
</g>
<g id="hist-labels" fill="#4a4a4a">
<text x="8.6" y="412" class="lab" style="font-size:21px">d</text>
<text x="431.4" y="412" class="lab" style="font-size:20px">e</text>
<text x="207.6" y="407.3" font-family="'Liberation Serif',serif" lengthAdjust="spacingAndGlyphs" font-size="14.6" textLength="21.6">HE</text>
<text x="581.6" y="407.3" font-family="'Liberation Serif',serif" lengthAdjust="spacingAndGlyphs" font-size="14.6" textLength="64.4">MASSON</text>
<path d="M53 417.8H393.2M456.6 417.8H792" stroke="#555" stroke-width="1.3" fill="none"/>
<text x="89.2" y="436.8" font-family="'Liberation Serif',serif" lengthAdjust="spacingAndGlyphs" font-size="19" textLength="81">Sham group</text>
<text x="268.2" y="436.8" font-family="'Liberation Serif',serif" lengthAdjust="spacingAndGlyphs" font-size="19" textLength="88.2">Model group</text>
<text x="482.8" y="435.6" font-family="'Liberation Serif',serif" lengthAdjust="spacingAndGlyphs" font-size="19" textLength="81.6">Sham group</text>
<text x="662.8" y="435.6" font-family="'Liberation Serif',serif" lengthAdjust="spacingAndGlyphs" font-size="19" textLength="88.2">Model group</text>
<text x="4" y="483.6" font-family="'Liberation Serif',serif" font-size="17" textLength="38.6" lengthAdjust="spacingAndGlyphs">14<tspan font-size="9.6" dy="-5.4">th</tspan><tspan dy="5.4"> D</tspan></text>
<text x="4" y="657.8" font-family="'Liberation Serif',serif" font-size="17" textLength="38.6" lengthAdjust="spacingAndGlyphs">28<tspan font-size="9.6" dy="-5.4">th</tspan><tspan dy="5.4"> D</tspan></text>
<text x="402.4" y="475.6" font-family="'Liberation Serif',serif" font-size="17" textLength="38.6" lengthAdjust="spacingAndGlyphs">14<tspan font-size="9.6" dy="-5.4">th</tspan><tspan dy="5.4"> D</tspan></text>
<text x="402.2" y="650.2" font-family="'Liberation Serif',serif" font-size="17" textLength="38.6" lengthAdjust="spacingAndGlyphs">28<tspan font-size="9.6" dy="-5.4">th</tspan><tspan dy="5.4"> D</tspan></text>
</g>
<defs><filter id="soft" filterUnits="userSpaceOnUse" x="-3" y="-3" width="170" height="155" color-interpolation-filters="sRGB"><feGaussianBlur stdDeviation="0.5"/></filter><filter id="heD" x="0" y="0" width="100%" height="100%" color-interpolation-filters="sRGB"><feTurbulence type="fractalNoise" baseFrequency="0.2" numOctaves="4" seed="11"/><feColorMatrix type="matrix" values="0 0 0 0 0.384 0 0 0 0 0.118 0 0 0 0 0.518 3.4 0 0 0 -1.55"/></filter><filter id="heL" x="0" y="0" width="100%" height="100%" color-interpolation-filters="sRGB"><feTurbulence type="fractalNoise" baseFrequency="0.24" numOctaves="4" seed="23"/><feColorMatrix type="matrix" values="0 0 0 0 0.886 0 0 0 0 0.573 0 0 0 0 0.831 3.4 0 0 0 -1.75"/></filter><filter id="heB" x="0" y="0" width="100%" height="100%" color-interpolation-filters="sRGB"><feTurbulence type="fractalNoise" baseFrequency="0.1" numOctaves="2" seed="5"/><feColorMatrix type="matrix" values="0 0 0 0 0.494 0 0 0 0 0.173 0 0 0 0 0.596 3.4 0 0 0 -1.7"/></filter><filter id="heP" x="0" y="0" width="100%" height="100%" color-interpolation-filters="sRGB"><feTurbulence type="fractalNoise" baseFrequency="0.08" numOctaves="2" seed="15"/><feColorMatrix type="matrix" values="0 0 0 0 0.847 0 0 0 0 0.384 0 0 0 0 0.675 3.4 0 0 0 -1.75"/></filter><filter id="heW" x="0" y="0" width="100%" height="100%" color-interpolation-filters="sRGB"><feTurbulence type="fractalNoise" baseFrequency="0.5" numOctaves="1" seed="77"/><feColorMatrix type="matrix" values="0 0 0 0 0.988 0 0 0 0 0.878 0 0 0 0 0.965 7.0 0 0 0 -4.3"/></filter><filter id="maD" x="0" y="0" width="100%" height="100%" color-interpolation-filters="sRGB"><feTurbulence type="fractalNoise" baseFrequency="0.2" numOctaves="4" seed="31"/><feColorMatrix type="matrix" values="0 0 0 0 0.251 0 0 0 0 0.039 0 0 0 0 0.196 3.4 0 0 0 -1.55"/></filter><filter id="maL" x="0" y="0" width="100%" height="100%" color-interpolation-filters="sRGB"><feTurbulence type="fractalNoise" baseFrequency="0.24" numOctaves="4" seed="41"/><feColorMatrix type="matrix" values="0 0 0 0 0.722 0 0 0 0 0.329 0 0 0 0 0.502 3.4 0 0 0 -1.85"/></filter><filter id="maR" x="0" y="0" width="100%" height="100%" color-interpolation-filters="sRGB"><feTurbulence type="fractalNoise" baseFrequency="0.1" numOctaves="2" seed="9"/><feColorMatrix type="matrix" values="0 0 0 0 0.627 0 0 0 0 0.102 0 0 0 0 0.220 3.6 0 0 0 -1.9"/></filter><filter id="maW" x="0" y="0" width="100%" height="100%" color-interpolation-filters="sRGB"><feTurbulence type="fractalNoise" baseFrequency="0.5" numOctaves="1" seed="87"/><feColorMatrix type="matrix" values="0 0 0 0 0.965 0 0 0 0 0.839 0 0 0 0 0.910 7.0 0 0 0 -4.4"/></filter><filter id="maS" x="0" y="0" width="100%" height="100%" color-interpolation-filters="sRGB"><feTurbulence type="fractalNoise" baseFrequency="0.22" numOctaves="4" seed="97"/><feColorMatrix type="matrix" values="0 0 0 0 0.675 0 0 0 0 0.133 0 0 0 0 0.376 3.6 0 0 0 -1.75"/></filter><filter id="mbL" x="0" y="0" width="100%" height="100%" color-interpolation-filters="sRGB"><feTurbulence type="fractalNoise" baseFrequency="0.22" numOctaves="4" seed="67"/><feColorMatrix type="matrix" values="0 0 0 0 0.690 0 0 0 0 0.769 0 0 0 0 0.925 3.6 0 0 0 -1.9"/></filter><filter id="bl5" filterUnits="userSpaceOnUse" x="-20" y="-20" width="204" height="190"><feGaussianBlur stdDeviation="5"/></filter><filter id="bl3" filterUnits="userSpaceOnUse" x="-20" y="-20" width="204" height="190"><feGaussianBlur stdDeviation="3"/></filter><filter id="bl2" filterUnits="userSpaceOnUse" x="-20" y="-20" width="204" height="190"><feGaussianBlur stdDeviation="1.6"/></filter><filter id="bl1" filterUnits="userSpaceOnUse" x="-20" y="-20" width="204" height="190"><feGaussianBlur stdDeviation="0.7"/></filter></defs>
<svg id="he_s14" x="52.3" y="445.5" width="163.4" height="148.6" viewBox="0 0 163.4 148.6" overflow="hidden"><g filter="url(#soft)"><rect width="163.4" height="148.6" fill="#a44eae"/><rect width="163.4" height="148.6" filter="url(#heB)" opacity="0.55"/><rect width="163.4" height="148.6" filter="url(#heP)" opacity="0.55"/><rect width="163.4" height="148.6" filter="url(#heD)"/><rect width="163.4" height="148.6" filter="url(#heL)" opacity="0.8"/><path d="M3.9 .6q-.3-.9-.8-1-.5-.1-1.6 .4-1.1 .6-1.1 1-.1 .5 1.8 .6 2 0 1.7-1zM10.4 1.7q.2-.7-.1-.9-.3-.3-1.3 .5-.9 .8 .1 1 1 .1 1.3-.6zM14.5 4.9q.5-.1 .8-.7 .3-.5 0-2.2-.4-1.6-.9-1.8-.6-.3-1.1 1.6-.6 1.9 .1 2.6 .6 .6 1.1 .5zM2.5 5.4q1.7 .1 1.7-.7-.1-.7-2-.5-1.9 .2-1.7 .7 .2 .5 2 .5zM11 6.5q-.3-.6-1.9-.8-1.6-.2-1.8 .5-.2 .8 1.9 .9 2 .1 1.8-.6zM2.4 10.3q.9-.5 .8-.9-.1-.5-1.5-.5-1.4 .1-.8 1 .6 1 1.5 .4zM15.4 7.6q-.4 .1-.8 .9-.3 .8-.1 1.7 .2 .9 2.4 1.8 2.2 .9 2.1-.4-.1-1.3-1.7-2.7-1.6-1.3-1.9-1.3zM11.6 11q-.3-.7-2.6-.8-2.2 0-2.4 .4-.3 .4 1.2 1.8 1.6 1.4 2.8 .4 1.3-1.1 1-1.8zM5.5 16.4q.8-.6-.1-1.7-.9-1-1.7-.6-.7 .4 .1 1.6 .9 1.3 1.7 .7zM15.5 17.5q1.8-1.2 0-2.2-1.9-1.1-2.9-.1-1.1 .9 0 2.2 1 1.3 2.9 .1zM.6 18.2q-.4-.5-.7-.1-.3 .3-.1 .9 .2 .5 .7 .1 .4-.5 .1-.9zM3.7 22.6q.6 0 .4-.6-.3-.6-.6-.1-.3 .6 .2 .7zM14 22q-.2 .5 1.7 2.4 1.8 1.9 4.2 1.4 2.4-.6 2.7-2 .4-1.4-1.3-3.6-1.6-2.1-4.4-.4-2.8 1.8-2.9 2.2zM6.8 27.7q.3-2-2.4-2.1-2.7-.1-2.9 .5-.2 .6 .9 2.1 1.2 1.5 2.7 1.5 1.5 0 1.7-2zM13.8 26.2q-1.3-1.5-2.8-.9-1.5 .7-1.6 2.4-.1 1.8 2 2.4 2.1 .5 2.9-1 .8-1.5-.5-2.9zM-.6 32.6q.4 0 1.3-.9 .8-.9 .1-1.8-.8-1-1.3-.6-.5 .3-.5 1.8 0 1.5 .4 1.5zM6.1 32.4q-.2-.3-1.2-.2-1 0-1.7 .7-.6 .7 .1 2 .8 1.3 1.5 1 .7-.3 1.1-1.8 .4-1.5 .2-1.7zM-1 36.4q0 1 .9 .8 .9-.2 .4-.9-.5-.8-.9-.9-.4-.1-.4 1zM8.3 41q1.1-1.4 2.6-1.9 1.5-.5 2.5-1.4 1-.9 .4-2.4-.6-1.5-2.5-1.9-1.9-.3-2.7 2.2-.7 2.4-2.2 3.1-1.5 .7-1.3 2.3 .2 1.7 1.2 1.6 .9-.2 2-1.6zM16.8 44.9q.4 .2 1.8-.5 1.5-.7 1.4-2.9-.1-2.2-1.5-2.4-1.4-.3-2.4 .7-1.1 .9-.4 2.9 .7 2 1.1 2.2zM12.7 43.4q-.7-1.8-1.1-1.7-.4 .1-1.2 1.2-.8 1.2 0 2.3 .7 1.2 1.9 .6 1.1-.6 .4-2.4zM7.2 48.6q.3 .1 .8-.2 .6-.4-.1-1.4-.7-1.1-.9 .2-.1 1.2 .2 1.4zM14.6 50.3q1-.9 1-1.8 0-.8-.3-1-.3-.2-2 .7-1.7 .9-.7 2 1 1.1 2 .1zM9.5 52.5q.4-.3 .1-.5-.3-.2-.6 .2-.4 .4-.2 .5 .3 .1 .7-.2zM18.8 55.1q1-1-.5-2.2-1.4-1.2-2.5-.3-1.1 1-.6 2.1 .6 1.1 1.6 1.3 .9 .1 2-.9zM10.5 55.8q-2.1 .9-1.7 1.8 .3 1 1.6 1.2 1.3 .2 2.2-.9 1-1.1 .5-2-.5-.9-2.6-.1zM5.1 60.3q1.2-1.1 .7-2.5-.5-1.4-2-1-1.4 .4-.6 2.5 .8 2.1 1.9 1zM14.7 59.2q-.9 1.1-.3 2.7 .6 1.6 2.5 .5 1.9-1.1 1.2-2.6-.7-1.5-1.7-1.5-.9-.1-1.7 .9zM-.9 62.7q-.1 4.9 1.5 4 1.7-.9 1.8-1.2 .2-.4-1.5-4-1.7-3.6-1.8 1.2zM20.7 66.6q.1-.3-.5-1.4-.7-1.1-2.2-.2-1.5 1-.8 1.8 .7 .8 2 .5 1.4-.4 1.5-.7zM14.8 68.6q-1.2-1.3-2.9-.2-1.7 1.1-1 3 .7 1.9 2.6 1.9 1.9 0 2.2-1.7 .3-1.8-.9-3zM2.2 68.6q-1.3 .8-.3 4.5 1 3.7 1.7 4.1 .8 .4 2.2 .2 1.5-.3 2.4-1.6 1-1.3 .1-3.8-.8-2.5-2.8-3.3-2-.8-3.3-.1zM-1 75.5q0 1.5 .3 1.1 .3-.3 0-1.4-.3-1.2-.3 .3zM13.8 76.2q-2.2-.1-3 1-.9 1.1 .8 3.3 1.7 2.3 2.8 2.4 1.2 .2 1.8-.2 .6-.3 .5-3.1 0-2.9-.4-3.1-.4-.3-2.5-.3zM8.9 82.2q-1.5-2-2.5-1.8-1 .2-1.3 4.3-.3 4.1 .1 4 .5 0 2.8-2.2 2.3-2.3 .9-4.3zM-.5 98.4q.4 .1 1.5-3.6 1.2-3.7 .9-4.5-.3-.8 .2-5.6 .6-4.9 0-5.3-.5-.4-1.8 .2-1.3 .6-1.3 9.7 0 9 .5 9.1zM14.8 93.4q.9-.9 .4-4.3-.4-3.4-1.4-3.5-.9 0-3.2 2.3-2.3 2.2 .5 4.4 2.8 2.1 3.7 1.1zM8.3 103q.3-.7 2.2-2.1 1.8-1.3 1.8-2.6 .1-1.3-3.5-3.7-3.5-2.5-4.6 1.3-1.1 3.8-.9 5.1 .2 1.2-1 3.7-1.3 2.4-.5 4.6 .8 2.2 1.7 2.5 1 .3 2.8-2.6 1.7-2.8 1.7-4.1-.1-1.3 .3-2.1zM-.6 102.8q.5-.9 0-1.2-.4-.4-.4 .8 0 1.3 .4 .4zM16.7 103.4q-2.7-1.2-4.2-.2-1.4 1.1-1.4 2 0 .8 2.3 3 2.2 2.2 4.1 1 1.8-1.1 1.8-2.9 0-1.7-2.6-2.9zM-1 111.4q0 1.3 .3 .9 .3-.4 0-1.3-.3-.9-.3 .4zM8.8 114.3q2.1 .8 3.4-1 1.2-1.7-.5-3.4-1.8-1.7-3.4 .9-1.7 2.6 .5 3.5zM16.3 115.1q-.8-2.2-1.2-2.3-.3 0-1.7 1.8-1.3 1.8-1 2.4 .4 .5 2.2 1 1.9 .5 2.2 0 .3-.6-.5-2.9zM2.2 114.6q-1.1-.6-2.1 0-1.1 .6-1.1 3.6 0 3.1 1 3.4 1 .3 1.8-.4 .8-.6 1.1-3.3 .3-2.7-.7-3.3zM6.9 120.3q1.3 .4 2.1-1 .9-1.4-1-2.2-2-.9-2.2 .9-.3 1.8 1.1 2.3zM14.4 123.1q1.1-2.6-.6-3.1-1.6-.4-2.6 1.2-1.1 1.6-.3 3.2 .9 1.5 1.7 1.4 .7-.1 1.8-2.7zM18.5 125.6q3.2-.3 3.3-.7 .1-.3-2.1-2-2.3-1.7-3.3 .7-1.1 2.4 2.1 2zM-.5 126.1q.4-.5 .4-1.2 0-.7-.5-.9-.4-.1-.4 1.2 0 1.4 .5 .9zM6.6 128.5q.9 .2 1.8-.8 .9-.9 .3-2.3-.7-1.3-2.8-1.9-2.1-.6-2.6-.2-.5 .5-.4 1.3 .1 .9 1.5 2.3 1.3 1.4 2.2 1.6zM3.5 129.9q.1-.4-1-1.4-1.1-1-2.3 .2-1.2 1.2-1.2 5.7 0 4.5 1.8 6.5 1.8 1.9 1.8 3 0 1.1 .7 1.6 .6 .4 1.6-.4 1-.7 .2-1.5-.7-.8-.1-1 .6-.2 1.3-.9 .7-.8 1.1-.6 .5 .1 3.4-2.3 2.9-2.4 4.1-3.9 1.1-1.6 .1-4.1-1.1-2.5-2.2-2.6-1.1-.1-2.2 1.1-1.1 1.2-.8 3 .4 1.8-.7 2.9-1 1.1-1.7-.1-.7-1.1-.4-1.5 .4-.3 .2-1.1-.2-.8-.9-.9-.6-.1-.9-.6-.2-.6-1.1-.7-.8-.1-.8-.4zM20 148.8q.2-.9 0-1.8-.2-.8 .1-2.4 .4-1.6-1.3-2.1-1.6-.5-2.2 .9-.6 1.5 .4 2.5 .9 1.1 .8 2.4-.2 1.3 .9 1.3 1.1 0 1.3-.8zM13.5 149.2q.7 0 .9-.6 .3-.5-.1-.9-.4-.4-1.6 0-1.1 .4-.5 .9 .7 .5 1.3 .6zM10.4 148.4q-.1-.3-1-.7-.9-.4-1.4 .1-.5 .6-.4 1.2 .1 .6 1.5 .2 1.3-.4 1.3-.8zM37.6 .3q.3-1.3-1.1-1.2-1.5 .1-1.3 1.5 .2 1.3 1.2 1.2 .9-.2 1.2-1.5zM17.5 1.4q.5 1.3 2.1 .8 1.7-.5 .7-1.8-1.1-1.4-2.2-.8-1 .5-.6 1.8zM27.9 1.4q.3-2.4-.8-2.4-1.1 0-2.1 1.4-1 1.4-.6 2.1 .3 .6 1.8 .9 1.5 .4 1.7-2zM30.9 1.4q0 1.7 .7 1.6 .6-.1 .2-1.9-.4-1.8-.7-1.6-.3 .2-.2 1.9zM40.9 1.5q-.4 1.2 .8 2.4 1.2 1.3 3.5 .7 2.3-.5 2.2-1.1-.1-.7-2.2-2.3-2.1-1.5-3-1.2-1 .2-1.3 1.5zM18.7 6.6q1.5 1.5 2.9-.4 1.4-1.9 1.2-2.3-.2-.4-2.9 .4-2.7 .9-1.2 2.3zM25.8 7q-.4 1 .2 2 .7 1 3.9 2.5 3.2 1.5 3.4 1.2 .1-.3-.1-1.1-.3-.9 .6-1.3 .8-.4 1.2-1.1 .3-.6 1.1 1.5 .8 2.1 2.8-.7 2-2.8 .5-4.4-1.5-1.5-3-1.2-1.5 .4-1.8 .9-.3 .5-.9 .1-.6-.3-3-.3-2.5 0-3.4 .5-1 .5-1.5 1.4zM48.8 10.7q-1.1-4-3.6-3.4-2.4 .5-4.4 3.8-2 3.3 0 4.6 1.9 1.3 3.7 1.3 1.8 0 3.6-1.2 1.7-1.1 .7-5.1zM35.7 15.8q-1.2 .4-2.2 2.4-1.1 1.9 .3 4.4 1.4 2.4 3.2 2.2 1.9-.3 2.9-3.4 1.1-3.2-.9-4.6-2-1.5-3.3-1zM45.9 22q-.8-2.9-1.8-2.7-.9 .1-1.9 2.9-.9 2.8-.1 3.8 .8 1 2.7-.1 2-1.1 1.1-3.9zM31.1 24.2q-1.2-1.9-3.3-1.2-2.1 .7-2.4 1.7-.3 1-.1 1.4 .2 .4 3.2 1.1 3.1 .7 3.5-.2 .4-.9-.9-2.8zM20 28q-2.2 .5-3.2 2.5-1 2-.2 3.7 .8 1.6 2.8 2 2.1 .4 2.8-3.8 .7-4.2 .3-4.5-.3-.4-2.5 .1zM28 30.1q-2.8-.8-3.4 2.7-.7 3.4 .6 3.7 1.3 .2 3.4-2 2.1-2.2 2.2-2.9 .1-.7-2.8-1.5zM40.2 37.3q.2-.4-.7-1-.9-.6-1.5 0-.6 .6 .7 1 1.4 .3 1.5 0zM45.5 37.9q.9-.1 .8-.6 0-.5-1.1-.2-1 .4-.8 .6 .1 .3 1.1 .2zM48 43.8q.2-.3-.5-1.1-.6-.9-2.2-.8-1.6 .1-1.6 .9 .1 .8 2.1 1 1.9 .3 2.2 0zM31.7 42.8q-.1 1.1 2.2 1 2.2 0 2.8 .7 .6 .6 .9 2.1 .3 1.4 1.4 1 1-.5 .9-3.5-.2-3.1-1.9-3.3-1.8-.2-4 .4-2.2 .5-2.3 1.6zM25 50.1q1.3 0 1.9-1.2 .6-1.3-1.5-1.8-2.1-.6-1.9 1.2 .2 1.8 1.5 1.8zM47.3 48.6q.2-.8-1.5-1.1-1.7-.3-1.9-.1-.3 .3 .7 1.2 .9 .9 1.7 .8 .8 0 1-.8zM34.6 50.5q.3-.1-.1-1.7-.4-1.6-2.2-1.4-1.7 .2 .1 1.7 1.9 1.5 2.2 1.4zM17.9 48.6q-.1 .7 1.3 1.9 1.5 1.1 1.9 .9 .4-.3 0-2.5-.5-2.2-1.8-1.7-1.3 .6-1.4 1.4zM41.7 52.6q.8-.9 .3-1.5-.6-.6-1.7 .1-1.2 .6-.3 1.5 .9 .8 1.7-.1zM32.2 54.1q.4-.7-1.1-2-1.6-1.3-2.1-1-.4 .3 .1 2.1 .5 1.8 1.6 1.7 1.1-.2 1.5-.8zM25.4 54.6q.3-.1 .1-.7-.2-.5-.9-.4-.7 .1-.1 .6 .6 .6 .9 .5zM20.8 57.1q-.6 .5-.1 1.7 .6 1.1 2.2 .5 1.6-.7 .1-1.7-1.6-1.1-2.2-.5zM33.1 60q-1.2-2.1-2.6-2-1.3 .1-1.8 .8-.5 .6 1.1 3.7 1.5 3.1 3 1.9 1.5-1.2 1.5-1.7 0-.6-1.2-2.7zM27.3 67.2q1-.5-.2-3.2-1.2-2.6-3-2-1.9 .6-1 2.7 1 2.1 2.1 2.5 1 .5 2.1 0zM34.7 70.7q1.2 2.6 2.8 2.3 1.5-.3 2.1-1.5 .6-1.2-.8-3.1-1.3-1.9-2-2.2-.7-.2-2 .8-1.3 1-.1 3.7zM18.1 72.3q-.3 2 .2 2.3 .5 .4 2.9-.4 2.4-.8 3-2.7 .6-1.9-.4-2.3-1-.5-3.2 .3-2.2 .7-2.5 2.8zM27.3 75.2q1.1 1.5 3.2 1.7 2.1 .2 2.4-.6 .4-.8-1.1-4.1-1.5-3.2-2.9-2.6-1.3 .6-1.9 2.4-.7 1.7 .3 3.2zM41.6 77q-1.7-1.4-3.6-1-1.9 .4-2.4 1.6-.5 1.2-.3 1.7 .2 .6 .7 1 .5 .3 3.3 .4 2.9 .1 3.5-1.1 .6-1.1-1.2-2.6zM21.3 82.2q1.2 .3 2.8-1.7 1.5-2.1 .7-3.3-.9-1.1-3-.4-2 .8-1.9 2.9 .1 2.1 1.4 2.5zM30.9 83.2q2.3-2.8 2.1-3.1-.2-.3-2.6-.5-2.3-.1-4.1 2.3-1.8 2.4-1.3 3.1 .6 .6 2.1 .8 1.5 .2 3.8-2.6zM42.2 86.2q-.7-1.8-2.1-1.9-1.4-.2-1.6 0-.2 .2 .1 2.1 .2 1.9 1.3 2.4 1.1 .5 2.1-.2 .9-.7 .2-2.4zM28.7 90.2q-1-1.3-1.7-1.3-.7-.1-1.2 1.8-.5 1.8 .9 3.3 1.4 1.5 2.2-.5 .8-2-.2-3.3zM38.7 94.7q.3-1.8-.9-2.3-1.1-.6-2.7 0-1.6 .5-2.3 2.7-.7 2.1 2.5 1.8 3.2-.3 3.4-2.2zM43.1 98q.5 .4 3.4-.1 3-.6 3-2.6 0-2-1.1-3.1-1.2-1.2-1.9-1.2-.6-.1-2 .9-1.4 1-1.6 3.3-.3 2.3 .2 2.8zM21.9 105.6q.2 2.7 .8 3.2 .5 .5 4.2 1.1 3.7 .5 4.1 .2 .3-.2-1.3-4.9-1.7-4.7-4.5-7.8-2.8-3-5.2-3-2.5 0-3.5 1.2-1 1.2-1 2.6 0 1.4 3.1 3 3.1 1.6 3.3 4.4zM44.6 108.4q-2.3-1.9-4.4-.1-2.2 1.8-.4 3.7 1.7 1.9 4.1 1 2.4-.9 2.7-1.8 .3-.8-2-2.8zM20.7 112.9q0-2.2-1.5-1.3-1.5 .8-.8 2.5 .7 1.7 1.5 1.3 .8-.4 .8-2.5zM26.9 112.4q-3-.5-3.4 1.3-.4 1.8 1.8 3.2 2.3 1.3 3.1 1 .8-.2 1.1-2.6 .4-2.5-2.6-2.9zM37.5 118.4q2-2.2 2-2.5 0-.4-1.8-2.2-1.7-1.8-2.9-1.9-1.2 0-1.5 .4-.4 .5-.8 3.1-.5 2.7 .9 4 1.3 1.2 1.7 1.3 .4 0 2.4-2.2zM46.1 117q.4-2 .1-2.2-.2-.2-1.9 .5-1.7 .8-.1 2.3 1.5 1.5 1.9-.6zM42.7 120.2q-1.6-1.3-2.9 .2-1.4 1.6 0 2.7 1.3 1.1 2.9-.2 1.5-1.4 0-2.7zM30.9 125.5q.9-2.9 0-3.8-.9-.8-1.5-.7-.6 .1-2.3 2.2-1.8 2.1-1.8 2.5 .1 .4 2.4 1.6 2.3 1.1 3.2-1.8zM44.9 127.3q1.3 1.3 2.3 1 1.1-.3 1.3-.9 .3-.6-.8-2.3-1-1.8-2.6-.4-1.6 1.3-.2 2.6zM34.3 126.6q-1 2.8 .8 3.5 1.8 .6 2.9-1.5 1.2-2.1-.8-3.4-1.9-1.3-2.9 1.4zM20 130.1q.6-.9 .4-1.2-.2-.3-1.4-.1-1.1 .2-.7 1.3 .3 1.1 .7 1 .5 0 1-1zM41 134.9q1-.1 2-.9 1.1-.9 1.4-2.2 .4-1.3-1.2-2.7-1.5-1.3-3 1.2-1.5 2.4-.8 3.6 .6 1.1 1.6 1zM23.8 131.5q-.9 1.6 0 2.4 .9 .8 2.4 0 1.6-.8 1.8-1.4 .2-.6-1.6-1.6-1.7-1-2.6 .6zM34.9 137.6q2.6-.2 3-.8 .3-.6-.3-1.9-.7-1.2-3.5-2.1-2.9-1-3.3 .2-.4 1.3 .5 3.1 1 1.8 3.6 1.5zM16.8 138.2q.6 .8 2.7 1.4 2.1 .6 2.5-.9 .4-1.4-.8-2.7-1.2-1.3-2.2-1.2-1 .1-1.9 1.3-.9 1.3-.3 2.1zM43.2 142.4q1.8-.5 1.8-1.2 0-.6-1.5-2.1-1.5-1.5-2.2-1.5-.7 .1-.9 .6-.2 .4 .4 2.5 .5 2.1 2.4 1.7zM28.1 143q.7 1.6 1.8 1.6 1-.1 .2-1.9-.8-1.8-.6-2.7 .2-1-.5-2.2-.7-1.1-2.1-.5-1.4 .7-1.7 1.8-.2 1.1 1 1.7 1.2 .6 1.9 2.2zM35.9 142.9q1.7-.5 1.5-1.7-.3-1.2-2.5-.9-2.2 .4-1.5 1.8 .7 1.4 2.5 .8zM35.4 148.8q1.3 .7 2.5-1.5 1.3-2.1 1.2-2.4 0-.2-2.6 .6-2.6 .8-2.5 1.7 .2 .8 1.4 1.6zM23.9 149.6q.9 0 1.5-1.7 .5-1.6 0-2.8-.5-1.1-1.1-1.3-.6-.2-1 1-.4 1.3-.4 3.1 0 1.7 1 1.7zM30.4 149.1q.6-.5 .5-.8 0-.4-1.1-.3-1.1 0-1.4 .8-.4 .8 .6 .8 .9 0 1.4-.5zM41.4 148.7q-.4-.9-.7-1-.4 0-.9 1-.6 .9 .7 .9 1.2 0 .9-.9zM47.4 -.4q.8 .7 1.5 0 .6-.6-.9-.6-1.4 0-.6 .6zM61.2 .7q.3 1.7 3.2 1.5 3-.2 3.6-1.7 .6-1.5-3.3-1.5-3.9 0-3.5 1.7zM51.6 .6q-.9 1.6-.8 2 .2 .3 4 .2 3.7 0 3.9-.3 .2-.2-.1-1.9-.4-1.6-3.2-1.6-2.8 0-3.8 1.6zM65 10.7q2.4 1 2.7-2.4 .2-3.3-2.5-3.1-2.7 .3-2.6 2.4 0 2.1 2.4 3.1zM53.3 14q1.3 .4 .9 1.2-.4 .8 .8 2.8 1.3 2 2.4 2.4 1.1 .4 2.2 .2 1.2-.3 1.5-1 .3-.7 3.2-.3 2.9 .3 2.7-1.5-.2-1.9-3.2-3.2-3-1.4-4-2.5-1.1-1.1-.7-1.5 .4-.5 .2-2.7-.2-2.2-4.7-2.1-4.5 .2-3.6 4 .9 3.9 2.3 4.2zM52.5 16.5q-1.5-.3-3.1 .8-1.6 1-.8 4.2 .7 3.1 1.2 3.4 .5 .3 2.8-1 2.3-1.2 2.7-2.5 .3-1.2-.6-2.9-.8-1.6-2.2-2zM65.6 23.1q-.1-.4-3.8-1.1-3.8-.7-4.2 .2-.4 .9 .3 2.4 .8 1.5 2.3 2 1.6 .4 3.5-1.4 2-1.8 1.9-2.1zM55.8 26.3q-.4-.8-2.1 .1-1.7 .9-1.5 1.6 .2 .7 1.1 1.3 .8 .5 1.8-.9 1.1-1.4 .7-2.1zM48.6 29.8q.9-.8 .7-1.6-.2-.8-.5-1-.4-.1-1.8 .8-1.4 .9-.4 1.7 1.1 .9 2 .1zM67.1 32.2q1.8-1 1.7-4-.1-3-.4-3.3-.3-.3-2.6 1.9-2.3 2.2-2.3 3.6 .1 1.5 .9 2.2 .9 .6 2.7-.4zM59.8 32.6q1.4-.7 1.3-2-.1-1.4-1.3-1.8-1.2-.4-2.4 1.1-1.1 1.5-.1 2.4 1.1 1 2.5 .3zM51.1 32.9q.5-1-.5-.4-1 .6-.9 1.1 0 .5 .5 .4 .5-.1 .9-1.1zM55.6 35q-.5-.7-1-.2-.6 .5-.6 .8 .1 .2 1 .1 1-.1 .6-.7zM71 35.2q-.9-.8-2.3 0-1.4 .8-1.1 2.2 .2 1.5 2.3 .1 2-1.4 1.1-2.3zM61 35.2q-1.2 .5-1.4 1.2-.2 .8 .1 1.5 .4 .7 2.2 .2 1.8-.4 1.7-1.4 0-.9-.7-1.4-.6-.5-1.9-.1zM51.2 37.6q-.5-.5-.9-.3-.3 .2-.7 1.3-.3 1.2 .4 1.8 .6 .7 1.1-.8 .6-1.5 .1-2zM57.2 39.7q-.3-.7-1.6-.7-1.3 .1-1.5 .8-.2 .8 1.4 1 1.6 .3 1.8-.1 .2-.3-.1-1zM73.9 40.5q-.2-.8-1.7 .1-1.5 1-1 1.8 .5 .7 1.7-.2 1.2-.9 1-1.7zM64.5 43.1q1.3-1.7 .8-2.2-.5-.5-2.8 .2-2.4 .7-.9 2.2 1.5 1.6 2.9-.2zM68.4 44.4q-.7-.9-1.9 .6-1.3 1.5-.6 2.6 .7 1.1 2-.6 1.2-1.7 .5-2.6zM72.6 47.9q-.9-1-1.8 .1-1 1.1-.2 1.6 .9 .4-.2 1.5-1.2 1.1-1.1 2.6 .1 1.5 .7 2 .7 .5 1.5 2.2 .8 1.7 3.2 .8 2.4-1 3.2-.8 .8 .1 1.5-1.1 .7-1.1 .5-1.8-.3-.7-.1-1.1 .2-.4-.5-1.2-.6-.8-.3-1 .3-.3 0-1.5-.4-1.1-1-1.1-.7 .1-1.7-.4-1.1-.5-2-.1-.9 .4-1.7-.7zM62.7 49.9q.4-.6 .1-1.1-.4-.5-1.8 .4-1.4 1-.1 1.1 1.3 .2 1.8-.4zM56.4 57.9q1.3 .2 1.6-.4 .3-.5-.9-4.6-1.3-4.1-4.1-4.6-2.7-.6-3.1 1-.3 1.5 .2 2.6 .6 1 1.5 1.3 .9 .3 2.2 2.4 1.3 2.2 2.6 2.3zM65.4 54.1q.6 1.8 1 1.6 .3-.1 0-2.6-.3-2.4-1-1.6-.7 .8 0 2.6zM61 53.2q-1.3 .1-1.1 1.5 .3 1.4 1.8 1.4 1.5-.1 1-1.5-.5-1.4-1.7-1.4zM69 62.7q1.1-1.2 .4-3-.8-1.8-2-2.5-1.1-.6-1.4 0-.2 .7-.1 3.1 .2 2.5 1.1 3.1 .9 .5 2-.7zM62.8 60.4q-.2-1.5-1.5-1.4-1.4 .2-1 1.7 .4 1.4 1.5 1.3 1.1-.1 1-1.6zM46.5 59.2q-.8 .1-1 1.8-.2 1.7 1.1 2.7 1.3 1 2.2 .4 1-.6-.2-2.8-1.2-2.2-2.1-2.1zM62.5 65.2q-1.5 0-1.9 1.4-.4 1.3 1.3 2.4 1.7 1.1 2.8-.8 1.1-1.9 .2-2.4-.9-.6-2.4-.6zM60.2 72.6q.1-.3-1.1-1-1.2-.8-1.9-.4-.6 .3-1.1 1.2-.4 .8-.2 1 .2 .2 2.2-.1 2-.3 2.1-.7zM69.8 74.6q2.5-1.9 2.3-2.7-.1-.8-1.9-2.2-1.8-1.3-3.3 1.4-1.4 2.7-.5 4.1 .9 1.4 3.4-.6zM52.8 77.7q.3-1.9 0-2.6-.4-.7-2-1.3-1.7-.5-3.3 1.8-1.7 2.3 1.6 3.1 3.4 .9 3.7-1zM59.5 76.9q-3.3 .5-3.6 1.6-.2 1.1 1 1.8 1.1 .7 3.7-1.3 2.7-2.1 2.4-2.3-.3-.3-3.5 .2zM66.4 83.4q.6-3.2 0-3.7-.7-.6-3.6 1.7-2.9 2.2-2.5 4 .5 1.7 3 1.5 2.5-.3 3.1-3.5zM55.2 89.5q3.2-1.3 2.6-3.2-.6-2-2.2-2.9-1.6-1-3.8 2.1-2.1 3.2-1 4.3 1.1 1.1 4.4-.3zM66.6 95.5q1.5-1.9 1.4-3.5-.1-1.7-.8-2.3-.7-.6-3.5-.2-2.8 .5-1.5 4.3 1.4 3.9 2.1 3.7 .7-.1 2.3-2zM55 99.5q-2 1-1.6 2.3 .4 1.2 1.5 2.3 1.1 1 3.5 1.8 2.3 .8 5.5 1.1 3.1 .4 4.3-.4 1.2-.8 1.7-1.8 .4-.9-1.4-3.3-1.7-2.5-3.8-3.3-2.1-.8-3.4-.7-1.2 0-2.2-2.7-1-2.6-3.3-1.8-2.2 .8-2.2 2.8-.1 2 1.6 2.3 1.7 .3-.2 1.4zM72.5 96.9q-2.1-.6-3 .5-1 1.1 .3 2.2 1.2 1.1 3 .2 1.8-.8 1.8-1.5 0-.7-2.1-1.4zM50.4 104q.4-3.2-3.1-2.8-3.5 .5-3.6 2-.2 1.5 2.1 3.3 2.3 1.8 3.3 1.3 1-.5 1.3-3.8zM71.6 105.6q-.3 1.3-.9 2.1-.6 .8 .1 1.8 .8 1 .9 4 .2 2.9 .8 5.4 .6 2.5 .2 3.7-.4 1.2 .6 1.6 .9 .3 2.3 2.7 1.4 2.4 .8 4.7-.6 2.2 1.3 2.6 2 .5 3.6-1 1.6-1.4 1.4-2.2-.2-.8-1.7-1.3-1.5-.5 .3-1 1.8-.6 2.3-1.6 .5-1 .6-2.5 .2-1.6 .7-1.3 .6 .3 1.4-1.4 .9-1.7-.7-2.5-1.5-.8-3.1-6.4-1.6-5.7-.1-6.8 1.4-1.2 1.4-2.1 0-.9-2.2-.9-2.1 0-2.6-1.3-.4-1.2 2.1-1.2 2.5 0 2-1.7-.4-1.7-2.7-1.6-2.3 .1-2.5 1.2-.2 1 0 1.4 .2 .3-2.9 2.2-3.1 2-3.4 3.4zM65.9 111.8q.2-1.8-1.9-2.4-2-.6-2.2-.4-.3 .2-.2 .7 0 .6 1 2.2 1 1.7 1.8 1.9 .8 .2 1 .1 .3-.2 .5-2.1zM52.5 112.2q-.1-1.7-.6-2-.4-.3-1.4 .2-.9 .4-1.1 1.2-.2 .8 1.4 1.5 1.7 .7 1.7-.9zM68.8 113.1q.3 .2 .6 0 .2-.3-.3-.7-.5-.4-.6 .1-.1 .4 .3 .6zM61 115q.4-.8-.1-1.2-.4-.4-1 .6-.5 .9 .1 1.1 .5 .2 1-.5zM56.6 117.3q.5-1.2-.8-1.5-1.2-.3-1.6 .2-.5 .4-.4 1.6 .1 1.3 1.2 1 1.2-.2 1.6-1.3zM60.7 120.4q.7-.6 .3-1.4-.4-.9-1.2-1.1-.7-.2-1.2 .5-.6 .8 .4 1.7 .9 .9 1.7 .3zM57.3 121.8q-.9-1-1.4-.8-.4 .2-.2 1.2 .2 1 1.3 .8 1.2-.2 .3-1.2zM52.1 124.1q.6-.3 .4-1.1-.2-.8-1-.6-.8 .3-.5 1.1 .4 .9 1.1 .6zM61.7 124.9q1 1.4 1.3 1.3 .4-.2 .8-1.6 .5-1.4-.3-2.3-.8-1-1.8 0-1 1.1 0 2.6zM67.1 126.4q.6 .1 1-.5 .5-.6 .4-.9 0-.3-.9-.1-.9 .2-1 .7-.1 .6 .5 .8zM59.6 128.1q.5-.6 0-1.7-.6-1.1-1.9-.7-1.4 .4-.7 1.6 .7 1.1 1.4 1.3 .6 .1 1.2-.5zM73.4 127.5q-.8-.4-1.8 .6-.9 1.1-2.5 .1-1.6-.9-5.3 .5-3.7 1.5-3.9 3.2-.3 1.6 .8 3.1 1 1.5 .5 1.3-.4-.2-1.2 .2-.7 .4-1.2 2.6-.4 2.1 .1 2.2 .5 .2 2.2-1.2 1.6-1.5 1.5-2.2 0-.7 1.1-.2 1.1 .4 2.7 .1 1.5-.3 2.9-1.5 1.4-1.1 2.6-3 1.3-1.9 1.8-3.7 .6-1.7-.3-2.1zM50.7 128.1q-.3 .6 .8 2.1 1 1.4 2.4 .3 1.5-1.2 .6-2.3-.8-1.1-2.1-.9-1.4 .3-1.7 .8zM48.4 133.8q1.9 .9 2.4 .4 .5-.5-.6-2.1-1.2-1.5-2.2-1.2-1.1 .2-1.3 1.1-.2 .9 1.7 1.8zM58.4 134q.8-.6 .4-1.6-.3-1-.9-1.2-.7-.2-2 1-1.4 1.2 .2 1.8 1.6 .7 2.3 0zM45.9 137.2q1.4 1.1 2.1 .3 .8-.9-1.1-1.6-1.9-.8-2.1-.3-.3 .5 1.1 1.6zM54.9 138.7q.4-.1 .4-.8 .1-.6-.8-.9-1-.3-.5 .8 .6 1 .9 .9zM52.3 140.5q-1.3-2-3-1-1.6 1-1.7 2.2 0 1.1 3 .9 3-.2 1.7-2.1zM80.3 -1q-1.7 0-.7 .4 .9 .4 1.6 0 .8-.4-.9-.4zM74.6 1.9q.9-1.4 .7-1.6-.2-.2-2.3 .1-2 .2-2.4 1.4-.4 1.1 1.4 1.3 1.8 .1 2.6-1.2zM86.9 0q-.9-.6-2.8 .4-1.8 1-1.2 2.5 .6 1.6 1.9 1.5 1.3-.1 2.2-1.9 .9-1.8-.1-2.5zM78.2 6.4q.9 1.2 1.5 .2 .7-1 0-2.4-.7-1.4-1.6-.2-.8 1.2 .1 2.4zM89.5 3.5q-.9 1.6 .5 3.4 1.4 1.8 2.4-.9 1-2.6-.5-3.4-1.5-.7-2.4 .9zM73.5 10.8q2.5-.8 1.5-2.5-1-1.7-2.4-1.7-1.5 0-1.6 2.5-.1 2.6 2.5 1.7zM75.4 17.7q4.6-.9 4.6-2.1 0-1.3-.8-2.3-.7-.9-4.8 .7-4.1 1.6-3.9 3.1 .3 1.5 4.9 .6zM91.2 14.9q-.9-2.3-4.6-1.2-3.7 1-3.8 2.3-.2 1.4 2.8 2.9 2.9 1.5 4.7-.1 1.8-1.6 .9-3.9zM70.9 22.7q.3 .5 5.6 2.2 5.3 1.8 7.7 .3 2.4-1.5 2.4-1.9 .1-.4-2.4-1.7-2.5-1.4-8-.4-5.5 1-5.3 1.5zM75.5 30.6q1.2-2.2-1.2-2.9-2.5-.7-2.5 1.4 .1 2.1 1.2 2.8 1.2 .8 2.5-1.3zM81.3 33.2q1-2.1 1.7-2.3 .6-.2 2.1 0 1.6 .3 3.1-1.2 1.5-1.4 .8-2.3-.8-.8-3.6 1-2.8 1.8-4.2 1.7-1.3-.2-2.9 2.3-1.5 2.5 .2 2.7 1.8 .2 2.8-1.9zM89.3 34.3q.5 1.1 1.9 .9 1.4-.3 .5-2-.9-1.6-1.9-.8-1.1 .8-.5 1.9zM82.5 36.9q.1 .4 2.5-.1 2.4-.4 1.9-1.8-.4-1.4-1.7-1.6-1.4-.1-2.1 1.5-.8 1.7-.6 2zM91.6 39.7q.8-.1 .9-.7 0-.7-1-.5-.9 .2-.8 .7 .1 .6 .9 .5zM86.8 40q.2-.4-.1-.6-.2-.2-.6 .2-.3 .3 .1 .6 .4 .2 .6-.2zM78.3 41.3q.6 .4 1.5-.9 .9-1.3-.7-1.6-1.5-.2-1.4 .9 0 1.2 .6 1.6zM92.1 44.5q.1-.5-1.1-.7-1.2-.1-1.5 .2-.3 .4 1.1 .7 1.3 .3 1.5-.2zM83.5 51.1q2-.2 2.4-3.9 .5-3.6-1.3-4.7-1.8-1.2-2.7 .4-1 1.6-.9 2.2 .1 .6-.2 1.5-.3 .9 .3 2.9 .5 1.9 2.4 1.6zM92.1 51.2q.5-.3 .6-1.5 .1-1.2-2.2-1.3-2.2-.1-2.2 .9 0 1 1.6 1.5 1.6 .6 2.2 .4zM82.6 54.6q.1 .7 3 2.4 3 1.6 3.3 1.5 .3-.2 .7-2.5 .4-2.3-1.1-2.9-1.6-.6-3.8 0-2.3 .7-2.1 1.5zM77.4 62.1q.2-.9-.3-1.2-.6-.3-1.3 .3-.7 .5 .3 1.1 1 .6 1.3-.2zM85.1 61.2q.3 .8-.6 2.9-.9 2.2 .5 2.1 1.4 0 1.7-2.8 .3-2.7-.1-3.2-.3-.6-2.6-1.5-2.2-1-2.5-.3-.2 .7 1.5 1.3 1.8 .7 2.1 1.5zM89.6 66.9q1 .5 1.8-.6 .7-1.1-.7-2.9-1.4-1.8-1.8 .6-.4 2.5 .7 2.9zM74.2 65q-2.1-1.2-3-.1-.9 1 .7 2.3 1.6 1.3 3 .2 1.4-1.2-.7-2.4zM85.6 70.3q.1-1.5-1.5-1.7-1.5-.1-1.7 1-.1 1.2 .5 1.7 .7 .6 1.6 .6 1 0 1.1-1.6zM79.6 69.4q.1-1-.3-1.2-.4-.1-2.2 1.3-1.8 1.4-1.7 2 0 .7 .6 .9 .6 .2 2.1-.9 1.4-1.1 1.5-2.1zM90.8 70.7q.3-.8 0-1.1-.2-.3-1.6-.7-1.3-.4-1.4 1.5-.1 1.9 1.3 1.6 1.5-.4 1.7-1.3zM80.3 76.8q.8-.2 .9-1.5 0-1.3-.2-1.5-.2-.2-1.2 .6-1 .8-.6 1.6 .4 .9 1.1 .8zM86.5 75q.1-.8-1.2-.9-1.4 0-1.4 1.6 0 1.6 1.3 .9 1.2-.8 1.3-1.6zM76 79.7q.9-1.3 .3-2.7-.6-1.4-1.3-1.8-.8-.4-3.2 1.6-2.4 1.9 .4 3.1 2.8 1.1 3.8-.2zM80.2 85.6q-.2 1.4 2 3.9 2.3 2.5 1.5 2.7-.7 .1-2.4-.6-1.8-.7-2.3 1.1-.4 1.8 1.5 1.8 2 0 2.9-.6 1-.6 3.4-.8 2.5-.1 2.3-.6-.2-.6 .8-.8 1-.3 1.2-.9 .2-.6 .7-.3 .5 .4 1.3-.5 .8-.9 .6-1.8-.1-.8-.7-1.2-.6-.4 0-1.8 .5-1.5 1-1.3 .5 .1 1-.6 .6-.6-1.5-2.1-2.1-1.4-3-2.4-.9-1-2.3-1.5-1.4-.6-3 .4-1.6 1-2.3 1.8-.7 .9-2.2 .8-1.5-.1-2.5 1.2-.9 1.4-.4 2.6 .4 1.2 1.5 .6 1.2-.5 .9 .9zM70.9 91.6q0 1.1 2.3 1.7 2.3 .6 2.8-2.1 .5-2.6-2.4-1.6-2.8 1-2.7 2zM87 99.5q.7-.1 1-1.6 .2-1.6-1.2-1.6-1.4-.1-1 1.6 .4 1.7 1.2 1.6zM90 106.5q1.4-.4 1.8-1.5 .5-1.2-1.1-2.3-1.6-1.1-3.3-.7-1.7 .3-1.6 1.8 .1 1.4 1.5 2.3 1.4 .9 2.7 .4zM85.9 109.4q.5-.6-.2-1.1-.6-.6-1.1-.2-.6 .4 .1 1.2 .7 .7 1.2 .1zM91.4 111.5q1.1-.6 .5-1.9-.5-1.2-1.4-.9-.8 .3-1.2 1.2-.3 1 .4 1.6 .7 .6 1.7 0zM92.8 113.3q-1.8 1-1.9 2.5-.2 1.5 1.7 1.2 1.9-.4 2.6-2.3 .6-1.9 0-2.2-.7-.3-2.4 .8zM87.9 113.5q-1.1-.9-1.6-.7-.5 .3-1 1.7-.4 1.5 1.3 2.3 1.8 .8 2-.8 .3-1.6-.7-2.5zM89.3 123.5q-.5 .9 1.6 2 2 1.2 2.6 .8 .6-.4-1.5-2.1-2.2-1.7-2.7-.7zM87.1 131.8q1.7 .8 2.7 .5 1.1-.4 1.4-1.4 .2-1.1-2.3-2.4-2.4-1.3-3-.1-.6 1.1-.5 1.9 .1 .7 1.7 1.5zM82.1 138.4q.6 2.4 2.4 2.3 1.8 0 2.1-2.9 .4-2.8-1-3.4-1.4-.6-2.8 .6-1.4 1.1-.7 3.4zM89.9 141.6q.5 .6 1.8 0 1.3-.6 .7-3.4-.5-2.8-1.4-2.4-.9 .3-1.3 2.8-.3 2.5 .2 3zM79.7 142.6q.8-1 .2-3.5-.7-2.5-2.9-3.1-2.2-.5-3.7 3.1-1.5 3.7 2 4.1 3.5 .4 4.4-.6zM85.3 148.5q2.4-.7 2.6-2 .3-1.3-.4-2-.8-.6-2.9-.7-2.1-.1-2.6 .5-.6 .6 .2 2.8 .8 2.2 3.1 1.4zM93.1 -.4q1.2 .6 1.6 0 .4-.6-1.2-.6-1.6 0-.4 .6zM104.5 2.2q.5-.4-.3-1.5-.8-1.1-1.3-.8-.4 .3 0 1.5 .5 1.2 .8 1.2 .3 .1 .8-.4zM100.1 4q.6-.4 0-1.6-.5-1.1-1.5-1-.9 .1-1.4 .5-.5 .5 .8 1.5 1.4 1 2.1 .6zM103.1 6.7q-.2-.8-.9-.4-.6 .4-.4 1 .1 .6 .8 .3 .7-.2 .5-.9zM97.1 6.3q-1.2-.6-1.5 .5-.3 1.1 1.2 1.3 1.5 .2 1.5-.5 0-.7-1.2-1.3zM112.3 7.5q-.2-.9-.6-1-.4 0-.6 1.6-.2 1.6 .5 1 .8-.6 .7-1.6zM105.5 16.7q.3 0 1.4-2.4 1.1-2.3 1-2.6-.1-.3-1.4-1.1-1.4-.8-3.3-.2-1.9 .6-1.9 2.2 0 1.6 2 2.9 1.9 1.3 2.2 1.2zM113.7 17.8q.5-1.5-.8-2.8-1.3-1.3-1.7-1.3-.4-.1-1.3 1.7-1 1.8 1.2 2.9 2.2 1.1 2.6-.5zM102.1 17.6q-1.9-1.3-4-.3-2 1 .4 3.9 2.4 2.8 3.9 .3 1.6-2.6-.3-3.9zM90.9 25.3q1 1.1 4.1 .5 3.1-.6 .8-3.6-2.3-2.9-4.2-1.4-1.8 1.6-1.7 2.4 0 .9 1 2.1zM111.2 24.6q.2-2-2.2-3-2.4-1-4.1 1.8-1.6 2.8-1.4 3.5 .2 .6 1.7 1.2 1.5 .7 3.7-.4 2.1-1.1 2.3-3.1zM98.8 28.2q-1.2-.1-3.2 .6-2.1 .7-1.8 1.3 .2 .6-.8 1.7-.9 1.2-.3 2.4 .7 1.3 3 2.1 2.2 .8 3.8 .9 1.5 0 2.6 1.3 1 1.2 3.2 .3 2.2-.9 1.2-3.8-1.1-3-2.1-3.4-1-.4-1.5 .2-.4 .6-.6-.4-.1-1-1.1-1.6-1-.6-1.1-1.1-.1-.4-1.3-.5zM111 30.4q-1.8 .9-.9 3.5 .9 2.6 3.4 .2 2.5-2.3 .9-3.4-1.7-1.1-3.4-.3zM96.4 44.4q.6 2.4 .3 3-.3 .7-.2 2.2 .1 1.4 1 1.2 .9-.2 .8-3-.1-2.8 .9-4 1.1-1.2-.4-3.1-1.6-1.9-2.4-.3-.7 1.6 0 4zM102.5 51.8q.4 .3 1.4-1 1-1.3-.4-2.6-1.4-1.3-1.4 1 .1 2.3 .4 2.6zM106.2 55.7q1.6 1.5 4.2-1 2.5-2.6 2.3-3.6-.3-1.1-2.7-1-2.3 0-3.9 2-1.5 2 .1 3.6zM92.6 55.7q-.4 1.6 .8 1.6 1.1 0 .9-1.8-.2-1.8-.7-1.7-.6 .2-1 1.9zM99.8 55q-.1-.3-.9-.1-.9 .2-.8 1 .1 .8 .9 .1 .9-.6 .8-1zM114.2 60.6q1.1-2.2 .1-4-1.1-1.8-3.2 .6-2.1 2.3-.1 4 2 1.7 3.2-.6zM105 58q-1.5-1.6-3.5 .5-2 2.1-1.5 3.3 .4 1.3 3.4-.4 3-1.7 1.6-3.4zM95.7 63.4q2-.4 1.7-1.4-.2-.9-.8-1.4-.6-.5-2.9-.3-2.4 .2-1.2 1.9 1.1 1.7 3.2 1.2zM105.1 66.1q.9 1.1 2.8 .1 1.9-1.1 .8-2.2-1.1-1-2.8 0-1.8 1-.8 2.1zM96.3 67.4q.4-1.1-.8-.9-1.1 .2-1.4 .9-.4 .8 .7 .9 1 .1 1.5-.9zM99.2 71.2q.6 1 1.8 .9 1.2-.1 1.9-.7 .7-.7-.7-2.5-1.5-1.9-2.5-.3-1.1 1.7-.5 2.6zM101.4 72.7q-1.4 .5-2.1 1.8-.7 1.3 .1 3.2 .8 1.9 1.9 1.6 1.1-.3 2.6 .5 1.5 .8 2.3 .7 .8 0 .7 .3-.1 .3 .5 1.3 .7 1 1.4 .4 .7-.6 .4-1.4-.2-.8 1.1-1.9 1.2-1 1.8 .5 .6 1.5 1.5 1.6 1 .1 1.7-1 .7-1.2-.4-2.6-1.2-1.4-1.9-1.2-.7 .2-.5-.3 .2-.4-.4-1.6-.5-1.2-.2-1.5 .3-.2 1.1-2.5 .7-2.2 .5-2.5-.2-.3-2.9 1.2-2.7 1.4-2.6 1.8 .1 .4-2.6 .7-2.6 .3-4 .9zM95.7 74.3q1.7-.6 1.1-1.8-.6-1.3-2.3-1.2-1.7 0-1.9 .6-.1 .5 .6 1.7 .7 1.2 2.5 .7zM97.5 78.2q-.4-1.9-2-1.7-1.6 .3-2.1 1.4-.5 1.2 2 1.7 2.4 .6 2.1-1.4zM102.1 84.3q.7 1.9 2.5 1.8 1.9-.1 .4-2.4-1.5-2.2-2.6-1.8-1 .5-.3 2.4zM99.2 85.4q-.6-1.3-1.6-.1-1 1.1-.8 1.8 .1 .6 1 .7 1 0 1.5-.5 .5-.5-.1-1.9zM106.4 88.8q-.1-.3-2.3-.4-2.1-.2-2.8 .5-.7 .8 .4 3.4 1.2 2.6 1.8 2.5 .6 0 1.8-2.9 1.3-2.8 1.1-3.1zM110.1 91q-1.6-.5-2.7 2.2-1 2.7 1.5 2.7 2.5 .1 2.7-2.1 .2-2.2-1.5-2.8zM98.9 95.4q1.1-.7 .2-2.5-.8-1.8-1.8-1.9-.9 0-1.7 .9-.8 1 .8 2.6 1.5 1.7 2.5 .9zM115.2 93.8q-.1 .5 .1 .7 .3 .2 1.5-.3 1.3-.5-.1-.7-1.4-.3-1.5 .3zM94.9 100.3q.4-1.4-1-2.8-1.3-1.4-1.6-1.4-.3 0-.6 1.9-.2 1.9 1.3 2.8 1.5 .9 1.9-.5zM101.1 103.4q2.6 2.2 3.1-1.4 .4-3.5 0-4-.3-.4-.9-.5-.6-.1-2.5 .9-1.9 1-2.1 1.9-.2 .9 2.4 3.1zM116.3 101.9q-1.4-.3-1.7 .7-.3 1 .5 1.5 .8 .6 1.9-.2 1.1-.9 .9-1.2-.1-.4-1.6-.8zM95.2 108q.9 1.5 1.7 1.7 .8 .2 1.9-1.1 1.1-1.3-1-3.1-2.2-1.8-2.8-.4-.6 1.4 .2 2.9zM115.4 110.8q1-.9 .6-2.4-.5-1.5-1.9-2.4-1.3-.8-3.5 .4-2.1 1.3 .8 3.3 3 2 4 1.1zM102.3 113.7q1.2 1.9 1.9 1.8 .7-.1 .7-3.2 0-3-.3-3.2-.2-.2-1.8 1.3-1.6 1.5-.5 3.3zM94 121.4q2.1 1.7 4.4-1.1 2.3-2.8 1-4.6-1.2-1.9-2.1 .3-.8 2.3-3.1 3-2.3 .8-.2 2.4zM106.5 121.8q.9-1.1 .1-1.7-.7-.7-1.9-.6-1.1 0-2 .9-.8 1 1.1 1.8 1.9 .8 2.7-.4zM114.4 121.1q-.7-.4-2.3-.2-1.7 .2-3.2 2.4-1.6 2.2-1.5 3.4 .1 1.1 2.6 1.7 2.4 .5 3.9-2.3 1.4-2.8 1.3-3.7-.2-1-.8-1.3zM103.2 127.5q2.1-1.1-.9-2.3-2.9-1.3-3.7-.5-.9 .9 .9 2.3 1.7 1.5 3.7 .5zM118 127.1q-1.5-1.7-2.8 .5-1.3 2.3-1 3 .2 .7 2.6 .7 2.5-.1 2.6-1.3 .2-1.2-1.4-2.9zM96.9 133q2.6-.2 2.6-1.3 0-1.1-1.4-2.2-1.4-1.2-2.4-.5-.9 .6-1.3 2.1-.4 1.5-.2 1.8 .2 .3 2.7 .1zM105.6 131.2q0-1.6-1.6-1-1.7 .6-1.7 2 0 1.4 1.6 1 1.6-.4 1.7-2zM112 132.1q-.2-1-1.8-1.3-1.6-.4-1.8 1.1-.1 1.4 .3 1.8 .5 .3 2-.2 1.5-.5 1.3-1.4zM105.5 138.4q1.3-.6 1.4-1.3 0-.7-.2-1-.3-.2-1.7 .3-1.5 .4-1.5 1.2 .1 .7 .4 1.1 .4 .3 1.6-.3zM112.7 136.7q-.2-.4-1.3-.2-1.1 .2-1.1 1.1 0 .8 .6 1.2 .7 .3 1.3-.6 .6-1 .5-1.5zM116 140.4q.2-1.4-.4-1.5-.6 0-1.3 1.5-.7 1.6 .4 1.5 1-.1 1.3-1.5zM101 144.1q.9-.6 .6-1.6-.3-.9-1.9-.3-1.5 .6-.6 1.6 .9 1 1.9 .3zM110.5 144.9q.9-1.5 .7-2.1-.2-.7-1.5-1.6-1.3-.9-3 .1-1.7 1-1.5 1.8 .1 .8 2.3 2 2.2 1.3 3-.2zM115.9 145.8q-.1-.9-1.2-.9-1-.1-1.3 .6-.3 .6 1.2 .9 1.4 .3 1.3-.6zM96.3 148.7q1.4-.9-.3-2.6-1.7-1.7-3.1-1-1.3 .7-1.4 2-.1 1.4 .3 1.9 .5 .6 1.9 .6 1.3 0 2.6-.9zM105.2 149.5q3-.1 2.9-.5 0-.3-2-1.4-1.9-1.1-3.2 0-1.4 1.1-1 1.5 .3 .5 3.3 .4zM124.2 .1q.8 1.1 1.9 .2 1.1-.9 1.1-1.1 .1-.2-1.9-.2-2 0-1.1 1.1zM133.8 6.8q.7-.5 .5-3.1-.2-2.6-2.5-2.7-2.4-.2-3.8 1.2-1.5 1.4-.6 3 .9 1.6 3.3 1.9 2.4 .2 3.1-.3zM124.7 6.7q-.8-1.2-2.4-.6-1.6 .6-1.7 1.4-.1 .8 .9 1.9 1 1.2 2.4-.2 1.5-1.4 .8-2.5zM115.3 7q.2 2.5-.5 3.5-.7 1 .4 2.3 1.2 1.2 3.1 .4 1.9-.8 .7-2.5-1.2-1.6-1-3.3 .2-1.7-.7-2.7-.9-1.1-1.6-.6-.7 .5-.4 2.9zM136.7 4.2q0 3.5-1.6 4.5-1.6 .9-4.6 .7-3-.3-4.8 1.5-1.7 1.8-.3 4.7 1.5 2.9 3.9 2.3 2.3-.5 5.5 .9 3.2 1.4 4.8-3.5 1.6-4.9 2-5.2 .3-.3 4 1.5 3.7 1.8 5.6 1.1 1.8-.7 1.4-2.9-.4-2.1-3.7-3.2-3.4-1.1-3.6-3.6-.2-2.4-4.3-2.4-4.2 .1-4.3 3.6zM134.1 21.3q-3.1-1.5-4.9-.9-1.8 .6-2.4 1.8-.7 1.2-.6 2.1 0 .9 .8 1.9 .7 1 3.6 1.6 2.9 .7 4.7-.4 1.8-1.1 2.3-2.2 .5-1.1 .1-1.8-.4-.7-3.6-2.1zM115 21.9q-.7 .4-1 2.8-.2 2.4 1.2 3.3 1.4 .9 5-.9 3.6-1.8 3.5-2.5-.2-.7-4.1-1.9-4-1.1-4.6-.8zM122.5 34.6q.3-.1 1.3-2.9 1-2.8 .7-3.2-.3-.4-3.6 1.3-3.2 1.8-1 3.3 2.3 1.6 2.6 1.5zM132.4 35.1q.1-3.9-2.4-4.6-2.6-.7-3.8 2.8-1.1 3.5 2.5 4.6 3.6 1 3.7-2.8zM124.7 46q.3 .2 3.2-1.3 2.9-1.4 3-2.6 .2-1.2-3.2-2.2-3.3-1-3.4 2.4 0 3.4 .4 3.7zM119.9 42q-1.1 .5-1 1.2 0 .6 1.2 .6 1.1 0 1-1.1-.1-1.1-1.2-.7zM133.6 40.5q-.4 .4-.6 1.9-.2 1.5 1.1 3.6 1.2 2.2 4.8 0 3.6-2.1 2.9-3.6-.7-1.5-4.2-1.8-3.6-.4-4-.1zM115.7 48.1q-1.4 1.4-1.2 1.9 .2 .5 3.4 .7 3.2 .2 4.4-1.3 1.2-1.6 .8-2-.4-.4-3.2-.6-2.8-.2-4.2 1.3zM132.4 52.2q1.4-.9 1.5-1.7 .1-.7-1.2-2.9-1.2-2.3-4-1-2.7 1.3-.2 3.8 2.5 2.6 3.9 1.8zM139.6 48.4q-3.7 1.9-3.7 2.6 0 .6 1.8 1.8 1.7 1.2 3.5 .8 1.8-.4 1.9-3.8 .1-3.4-3.5-1.4zM126.5 52.5q-1.7-1.8-2.4-1.1-.7 .8-.3 2.5 .4 1.7 2.4 1.1 2.1-.6 .3-2.5zM135.2 58.4q1.8-.7 1.9-1.5 0-.9-1.1-1.7-1.2-.9-2.4-.3-1.1 .6-.6 2.4 .5 1.9 2.2 1.1zM127.3 58.4q-1.8 .5-1.6 2 .2 1.4 2.4 1.4 2.2 0 1.6-2-.5-2-2.4-1.4zM121.8 65q1.3-1.8 .9-4-.5-2.2-2.7-2-2.3 .3-3.6 3.1-1.4 2.9-.6 3.7 .8 .8 2.7 1 2 .1 3.3-1.8zM139.4 64.8q.9-.6 .9-1.1 0-.5-.9-1.8-1-1.3-3.1-.3-2.2 .9 .1 2.3 2.2 1.5 3 .9zM129.5 67.3q-.1-2.1-2.3-2.1-2.2-.1-3.2 1.2-1 1.4 .4 3.3 1.5 1.9 3.3 .8 1.8-1.2 1.8-3.2zM139.7 69.9q-.6-2-.9-2-.3-.1-1.7 1.5-1.3 1.5-.9 2.5 .5 .9 2.3 .4 1.8-.5 1.2-2.4zM116.7 71.7q-.8 2.1 .6 3.6 1.4 1.5 2.9 1.4 1.4-.1 2.1-1.6 .8-1.6-.7-3.4-1.5-1.9-2.8-2-1.2-.2-2.1 2zM131.5 75.6q2.6 2 3 .2 .4-1.7-.1-2.6-.6-.9-1.9-1.3-1.3-.4-2.4 .4-1.2 .7-1.2 1 0 .4 2.6 2.3zM127.5 81.1q3.4 1.7 4.3 1.3 .8-.5 1-1.3 .3-.9-3.3-3.9-3.7-3-4.7-1-1.1 2.1-.9 2.6 .1 .5 3.6 2.3zM118 81.7q-.8 1.5-.6 1.8 .2 .3 1.6 .7 1.5 .4 2-1.8 .6-2.2-.8-2.2-1.4 .1-2.2 1.5zM138.7 81q-2.1-.2-3.7 .2-1.6 .4-2.6 1.7-.9 1.4-1.3 2.8-.3 1.3 .7 3.7 1.1 2.4 4.3 2.4 3.1-.1 3.5-.5 .4-.4 .6-.1 .1 .3 1.9 .6 1.7 .2 3.3-1.5 1.6-1.7 1.6-2.1 0-.3-1.6-.9-1.7-.7-3-.1-1.3 .7-1-1.3 .3-2-.2-3.4-.4-1.3-2.5-1.5zM126.1 89.8q.7 2.3 2.5 2 1.8-.4 1.1-3-.7-2.5-.6-3.3 .1-.7-2.2-1.9-2.3-1.2-2.9 .6-.6 1.9 .4 2.6 1.1 .7 1.7 3zM119.1 88.9q.8-1.4-.8-1.9-1.6-.5-2.6 1.2-.9 1.7 .8 1.9 1.7 .2 2.6-1.2zM122.5 93.3q.8-.6 .2-1.9-.5-1.3-1.7 .3-1.2 1.7-.3 1.9 .9 .3 1.8-.3zM137.7 94.7q.3-1.8-2.5-1.8-2.8-.1-2.9 .2-.2 .4 .5 2.3 .7 1.9 1.3 2.2 .6 .3 1.9-.4 1.4-.7 1.7-2.5zM130.8 95.9q-.6-1.5-1.9-1.1-1.4 .4-.6 2.2 .8 1.9 1.9 1.1 1.2-.7 .6-2.2zM119.3 98.8q.7-.8 .4-1.1-.2-.3-2.1 .4-2 .6-.5 1.1 1.5 .4 2.2-.4zM124.1 98.9q1.1 1.1 1.4 1.7 .2 .7 .1 2.3-.2 1.6 1 1.5 1.3-.2-.2-4.2-1.5-3.9-2.3-3.6-.9 .4-1 .8-.1 .4 1 1.5zM138.4 99.7q-.3-.5-1.2-.1-.9 .5-.8 1.6 .1 1.1 .6 1.3 .5 .3 1.1-1.1 .6-1.3 .3-1.7zM132.7 107.1q0 .5 1.2 1.1 1.2 .6 2-.9 .7-1.5-.1-1.8-.8-.2-2 .4-1.1 .6-1.1 1.2zM121.6 108q.6-1.2-.7-2-1.2-.7-2.1 .2-.9 .9-.6 1.8 .3 .8 1.6 1 1.3 .1 1.8-1zM122.6 110.6q-.7 1.4-2.7 1.2-2-.3-3 .6-1 .9-1.2 3.8-.3 3 .1 3.2 .3 .1 3.4-.8 3.2-1 3.9-2 .8-1 1.7-.1 .9 .8 .5 1.7-.5 .8 .6 3 1.2 2.3 2.6 2.1 1.5-.2 1.7-2.4 .2-2.2-.7-2.7-.9-.4 1-1.4 1.8-1 2.8-2.1 1-1.1 1.2-2 .3-.9-.3-2.2-.6-1.3-1.5-2.1-.9-.9-2.4-1.1-1.4-.2-4.2 .9-2.8 1-3.5 2.4zM136.3 118.7q1.7 1.2 2.7 .5 1.1-.6 1.2-1 .1-.5-2-1.5-2-1.1-2.7-.2-.8 1 .8 2.2zM135.5 122.2q.1-.5-.9-1.2-1.1-.7-1.2 .8-.2 1.5 .9 1.2 1.1-.2 1.2-.8zM141.7 122.1q-.9-.9-1.7-.4-.8 .5-.8 1-.1 .6 .6 1.2 .8 .6 1.4 .6 .6 0 1-.7 .5-.8-.5-1.7zM138.2 128.3q.9-1.5-.1-2.4-1-1-2.5-.5-1.4 .5-1.4 2.5 0 1.9 1.6 1.9 1.6-.1 2.4-1.5zM130.4 128.8q.9-.3 .8-1.3-.2-1.1-1.4-.9-1.1 .2-.8 1.3 .4 1.1 1.4 .9zM126.1 129.5q-1-1.7-2.6-1-1.6 .6-1.7 1.3-.2 .7 2.3 1.5 2.5 .7 2.7 .3 .2-.4-.7-2.1zM132.1 136.1q.7-.2 .6-2.1-.1-1.8-1.7-1.5-1.6 .3-.6 2 1 1.8 1.7 1.6zM118.2 136.6q.5-.2 .4-1.6-.1-1.4-2-1.2-1.9 .2-1.5 1.2 .4 1.1 1.4 1.5 1.1 .3 1.7 .1zM139.1 142q1.9 .4 2.3 .1 .4-.3 .6-2 .1-1.6-.6-3.3-.6-1.7-2.3-3.4-1.7-1.7-2.6-1.6-1 0-1.1 2.3 0 2.3 .9 4.9 .9 2.6 2.8 3zM121.8 138.2q-.1 .2 .3 1.4 .4 1.2 1.7 1 1.3-.2 .6-1.5-.6-1.2-1.5-1.2-.9 0-1.1 .3zM119.2 141.5q.7 .1 .9-.1 .2-.3-.4-1.3-.5-1.1-.8 .1-.3 1.2 .3 1.3zM130 140.3q0-1.3-1.5-.6-1.5 .7-1.6 1.2-.2 .5 .2 1.2 .4 .7 1.7 .1 1.2-.6 1.2-1.9zM124.4 145q1.1-.5 .8-1.5-.3-.9-1.6-.8-1.3 .2-.8 1.5 .4 1.2 1.6 .8zM119.7 145.8q.6 0 .5-.8-.1-.8-.8-.7-.8 .1-.6 .8 .2 .8 .9 .7zM131.3 146.2q.8-.7 .2-1.4-.7-.7-1.6-.2-.9 .6-.2 1.4 .7 .9 1.6 .2zM139.5 145.9q.7-1.5-1-1.8-1.8-.4-2.6 .6-.9 .9 .1 1.8 1 .8 1.9 .8 1 0 1.6-1.4zM126.4 148.3q.5-.7-.3-.6-.8 .2-.9 .7-.1 .6 .3 .6 .4 .1 .9-.7zM134.4 149.3q.2-.3-.1-.7-.4-.3-.8 .2-.4 .5 .1 .6 .6 .2 .8-.1zM120.3 149.4q.4-.3 .1-.5-.2-.3-.6 .1-.4 .3-.2 .4 .3 .2 .7 0zM160 2.6q.5 .1 1.1-.6 .6-.7-.5-1-1.1-.3-1.1 .6 0 .9 .5 1zM164.3 5.8q-.1-1-.9-.3-.7 .7-.6 1.8 0 1.1 .4 1.3 .3 .2 .8-.8 .4-1 .3-2zM159 7.3q-.1-1.1-.8-1.4-.8-.3-1.8 .2-1.1 .4-1.3 .8-.3 .4 0 1.5 .2 1 2.1 .5 1.8-.6 1.8-1.6zM159.1 17.3q.3 0 1.8-2 1.5-2 1.4-2.5-.1-.6-.9-1-.8-.5-3.2 .4-2.4 .9-.9 3 1.5 2.1 1.8 2.1zM164.3 17.4q0-1.8-1.1-.4-1 1.4-1 1.6 0 .3 1.1 .4 1.1 .2 1-1.6zM145.3 14.6q-1.7-.9-2-.8-.2 .2-1.4 3.9-1.2 3.7-1.1 4 .2 .4 2.6 .1 2.4-.2 3-3.3 .5-3-1.1-3.9zM149.2 19.2q-.8 4.1-.4 4.3 .4 .3 4.7-.9 4.3-1.1 4.4-1.8 .1-.6-2.3-3.7-2.4-3.1-4-2.5-1.6 .5-2.4 4.6zM161.8 24.8q2.1 1.2 2.4 .9 .2-.2 .2-2.3 0-2.2-2.4-2.3-2.4-.1-2.6 .5-.2 .6 .1 1.3 .3 .8 2.3 1.9zM156.2 28q1-3.7-2.2-2.9-3.2 .9-2.3 4.1 .8 3.2 2.2 2.8 1.3-.3 2.3-4zM159.8 25.9q-.3 .1-1.4 3.3-1 3.3-.4 3.7 .6 .5 3-.6 2.4-1 2.9-2 .5-.9 0-1.7-.5-.9-2.2-1.9-1.6-.9-1.9-.8zM162.4 34.8q-.8 .2-.7 .8 .1 .7 1.3 .7 1.1 .1 .7-.8-.4-1-1.3-.7zM134.8 34.5q.2 3.8 4 4.2 3.9 .5 3.5 1.7-.3 1.2 .2 2 .6 .7 1.6 1.4 1 .7 3.1 .5 2.1-.1 3.4-1 1.3-.9 1.6-2.3 .2-1.4 .9-2.3 .6-.9 .9 1.1 .3 2 1 2.2 .8 .2 1.6 0 .8-.3 1.7-2.2 .9-1.8 .2-3.2-.6-1.3-1.6-1.8-.9-.4-2.1-.1-1.3 .3-1.3 .7-.1 .4-.5 0-.3-.5-1.9-.8-1.6-.3-3.4 .2-1.8 .5-2.7 1.5-1 1-1.3 .9-.3 0-3.1-4.2-2.7-4.1-4.3-3.2-1.6 .9-1.5 4.7zM162.6 39.9q-1.1-.4-1.7 .9-.7 1.2 .8 2 1.5 .8 2-.2 .5-1 .3-1.7-.3-.7-1.4-1zM160.1 45.4q-1.8-1.3-2.2-1-.4 .3 .2 1.9 .5 1.7 2.1 1 1.7-.7-.1-1.9zM151.7 48.1q.9 2.2 2.7 1.6 1.9-.6 1.2-2.9-.7-2.3-1.3-2.6-.7-.3-2.1 .7-1.3 1-.5 3.2zM162.2 49.4q-2.3 1.1-1.5 3.1 .9 2 2.3 .7 1.4-1.2 1.4-3 0-1.8-2.2-.8zM149.4 49.5q-1-2.6-2.3-2.6-1.3-.1-1.2 2.9 0 2.9 2.3 2.6 2.2-.3 1.2-2.9zM153.7 54.9q.6 1.7 2.7 2.1 2.1 .3 2.5 0 .4-.3-.6-2.8-1.1-2.5-3.1-1.8-2.1 .7-1.5 2.5zM146.5 57.1q.1 1.8 1.8 2.8 1.8 .9 2.9-.5 1.2-1.4 .4-3-.8-1.5-3-1.3-2.2 .2-2.1 2zM141.3 59.4q.5 .6 1.3 .1 .9-.6 .6-1.9-.3-1.2-1.3-.9-.9 .3-1 1.2 0 .9 .4 1.5zM162.7 64.4q1.3 .6 1.5-1.3 .2-1.8-1.4-2.5-1.6-.6-1.5 1.3 .1 2 1.4 2.5zM146.6 63.8q.8-.9 0-1.3-.7-.4-1.6 .4-1 .8-.1 1.3 .9 .5 1.7-.4zM151.7 70q2.2-.7 2.3-1.4 .1-.7-1.6-2.7-1.8-2-3.4-.3-1.7 1.7-1.4 2.8 .3 1 1.1 1.6 .9 .6 3 0zM143.8 69.7q1.3-.7 1.1-1.1-.1-.5-1.5-1.1-1.3-.6-1.6-.5-.3 .1 .2 1.7 .5 1.6 1.8 1zM163 70.3q.1-2.1-1.7-3.1-1.7-.9-3.5 .1-1.7 1.1-2 1.9-.2 .9 1.2 2.7 1.4 1.9 3.7 1.3 2.3-.7 2.3-2.9zM144.7 74.6q.4 .8 1.2 .7 .9-.1 1.1-1.6 .1-1.5-1.3-.7-1.4 .7-1 1.6zM155.1 77.7q.9-2.5-.3-4.1-1.2-1.5-2.6-1.1-1.4 .4-1.7 2.1-.3 1.8 1.6 3.7 2 2 3-.6zM149.1 83.3q1.2-1.1-.1-2.7-1.3-1.5-2.9-1.2-1.6 .2-1 2.2 .5 1.9 1.7 2.4 1.2 .4 2.3-.7zM152.2 90q2 2.4 3.1 2.4 1 .1 2-.3 .9-.4 1.4-2.9 .4-2.6-1.7-4.2-2.2-1.6-4.5 .5-2.3 2.1-.3 4.5zM163.2 85.9q-1.2 .4-1.7 3.1-.5 2.8 1.2 3.6 1.7 .7 1.7-3.2 0-3.9-1.2-3.5zM150.1 92.4q-1.5-1.5-2.9 .1-1.4 1.7-1.1 2.3 .2 .6 1.8 1.3 1.5 .6 2.6-.8 1.1-1.3-.4-2.9zM143.3 95.5q-.1-.4-1.5-.6-1.4-.2-1.7 .7-.2 1 .4 1.7 .6 .6 1.2 .6 .5 0 1.2-1 .6-.9 .4-1.4zM147.7 99.4q.3-.8-.9-1.4-1.1-.6-1.9 .4-.7 1-.1 1.7 .5 .6 1.5 .3 1.1-.3 1.4-1zM158.8 98.9q-.1-.5-.5-.4-.3 .1-.2 .9 .2 .7 .5 .4 .4-.4 .2-.9zM142.9 102.4q.1-.3-.6-.8-.6-.5-.9 .6-.2 1.1 .6 .8 .8-.3 .9-.6zM161 102.2q-.7 1-.3 1.5 .5 .5 1.8-.6 1.4-1.1 .2-1.5-1.1-.4-1.7 .6zM152.6 107.4q-.8-2.1-1.7-2.1-.9 0-1.7 .7-.8 .7-.9 1.6-.2 .8 .4 1.5 .6 .6 2.6 .5 2.1-.1 1.3-2.2zM163.2 113.1q1.1 .3 1.1-1.3 .1-1.6-1.5-1.9-1.5-.4-1.1 1.3 .4 1.7 1.5 1.9zM158 115.1q1.8-1.7 1.3-3.4-.6-1.8-2.5-1.4-1.9 .3-1.6 3.4 .3 3 .7 3 .3 .1 2.1-1.6zM152.7 114.2q-.1-2.1-1.6-2-1.4 0-1.9 1.4-.5 1.4 .4 2.5 .9 1.1 2.1 .7 1.2-.5 1-2.6zM160 117q-1.2 1-.7 1.8 .5 .8 1.8 .4 1.2-.5 1.7-1.3 .5-.9-.5-1.4-1-.6-2.3 .5zM148.5 119.8q.3-.7-.9-2.1-1.2-1.5-2.5-1.6-1.2-.1-2 .8-.9 .9-.9 1.4 .1 .4 1.5 1.8 1.4 1.4 3 .9 1.5-.5 1.8-1.2zM155.7 120.8q-.9-1.3-2.6-.5-1.8 .7-.6 2.7 1.1 2.1 2.6 .6 1.4-1.5 .6-2.8zM147.1 124.1q-1 .3-1.4 1.1-.3 .8 .2 1.7 .5 .9 2.4 1 2 .1 .9-2-1.1-2.1-2.1-1.8zM160.9 129.4q.8-1.5-.7-3.1-1.5-1.7-3.6 .6-2.2 2.2-2.2 2.8-.1 .6 .3 1.1 .4 .6 2.9 .3 2.5-.3 3.3-1.7zM164 131.7q.4 .4 .4-.9 0-1.4-.4-.5-.4 .9 0 1.4zM152 132.6q-.2-.5-3-.7-2.8-.3-4 1.8-1.2 2.2 2.7 1.7 3.9-.5 4.2-1.4 .3-1 .1-1.4zM154.9 134.5q-.4 1 3.2 3.7 3.6 2.7 4.8 2.4 1.1-.4 1-2.9-.2-2.5-1.7-3.7-1.4-1.2-4.2-.8-2.8 .3-3.1 1.3zM150.7 138.6q-.2-.2-3 .3-2.9 .4-3.1 1.7-.1 1.2 1.9 2.6 2.1 1.4 2.9 .8 .8-.6 1.2-2.9 .4-2.2 .1-2.5zM155.6 144.9q2.5 1.2 3.5-.7 1-1.8-2.1-4-3-2.1-3.5 .7-.5 2.9 2.1 4zM144.9 145.7q-1.8-1.4-2.1-1.3-.4 .1-1 1.8-.7 1.8-.4 2.3 .4 .5 1 .7 .7 .2 2.5-.9 1.8-1.1 0-2.6zM163.6 142.9q-.7 .3-2 2.7-1.3 2.4-.1 3.2 1.1 .8 2 .8 .9 0 .9-3.5 0-3.5-.8-3.2z" fill="#fff2fb" stroke="#6a2288" stroke-width="0.5" stroke-opacity="0.45"/></g></svg>
<svg id="he_m14" x="232.3" y="444.6" width="161.8" height="149.2" viewBox="0 0 161.8 149.2" overflow="hidden"><g filter="url(#soft)"><rect width="161.8" height="149.2" fill="#9c48aa"/><rect width="161.8" height="149.2" filter="url(#heB)" opacity="0.6"/><rect width="161.8" height="149.2" filter="url(#heP)" opacity="0.45"/><rect width="161.8" height="149.2" filter="url(#heD)"/><rect width="161.8" height="149.2" filter="url(#heL)" opacity="0.85"/><rect width="161.8" height="149.2" filter="url(#heW)" opacity="0.65"/><path d="M29.1 9.8q-.6-2.1-4.4-3.6-3.8-1.4-5.6-1.2-1.7 .3-4 3.6-2.2 3.3-1.5 5 .7 1.8 4 3.5 3.3 1.7 5.5 1.8 2.1 0 4.3-3.5 2.3-3.5 1.7-5.6zM37.8 9.3q-2.8 2.9-3.2 5.1-.4 2.2-.3 4.4 .1 2.3 1.8 3 1.8 .7 3.4-.2 1.7-.9 4.4-3.4 2.7-2.4 2.6-6.2-.2-3.8-1-6-.8-2.2-2.9-.8-2 1.3-4.8 4.1zM32.8 18.3q.9-.6 .3-1.4-.6-.7-1.4 0-.7 .7-.2 1.4 .4 .7 1.3 0zM-.1 26.6q.6 .4 1.4 3 .7 2.7 1.5 3.3 .8 .6 1.6 2.1 .8 1.4 1.7 .7 .8-.6 3.5-.7 2.6-.2 4.9-4.2 2.3-4 2.4-5.8 0-1.9-.5-3.6-.4-1.7-5.3-2.4-4.9-.7-6.8 1.2-1.8 2-2.9 3.9-1.1 1.9-1.5 2-.5 .2 0 .5zM58 27.2q-.1-.7-2-1.6-1.9-.9-3.5 .1-1.5 .9-2 1.5-.5 .6-.5 1.5 0 .8 .9 1.4 1 .5 3.1 .2 2.1-.3 3.1-1.4 .9-1.1 .9-1.7zM35.6 28.9q2.5 .1 2.7-.2 .1-.3-.4-1-.6-.8-2.7 .2-2.1 .9 .4 1zM13.6 54.7q-3.2-2.4-5.3-1.7-2.2 .7-4.1 1.9-2 1.3-2.2 3.7-.2 2.4 1 4.5 1.1 2.2 4.1 4.2 3.1 1.9 4.9 1.4 1.8-.6 3.6-1.5 1.8-1 2.9-3.5 1.1-2.4-.3-4.5-1.4-2-4.6-4.5zM35.3 55.8q-2.1-1.7-3.5-2.2-1.3-.5-2.7 .8-1.5 1.4-1.3 6.7 .2 5.3 1.5 6.8 1.4 1.6 2.8 1.5 1.3-.1 3.9-1.5 2.7-1.3 2.7-3.9 0-2.6-.7-4.6-.7-2-2.7-3.6zM15.5 96.4q1.3 1.1 2 .7 .7-.5 .8-1.8 0-1.4-.3-1.7-.4-.2-2.1 .7-1.7 .9-.4 2.1zM6.4 98.5q.5 .2 1-.3 .5-.5-.2-1.1-.7-.6-1 .3-.3 .8 .2 1.1zM43.2 106.5q.4 1.4 1.1 1.6 .7 .2 1-.3 .3-.4-.2-1.7-.6-1.2-1.2-1.3-.7-.1-.9 .1-.2 .3 .2 1.6zM50.9 109.9q.5-.5 .2-1.2-.2-.7-1.6-.4-1.4 .3-1.6 .7-.2 .3 1.1 .8 1.3 .5 1.9 .1zM11.4 113.5q.3 .7 1.9 1.7 1.6 .9 2.1-.7 .6-1.6-.1-2.9-.8-1.2-1.9-1.4-1.2-.3-1.7 1.2-.6 1.4-.3 2.1zM44.3 115.2q-.6 .3-.5 1.3 0 1 1 1.2 .9 .2 1.4-.4 .6-.6-.4-1.5-.9-.9-1.5-.6zM53.9 128.2q1.8 .5 8.4 .3 6.6-.2 7.1 3.7 .6 3.9 2 5.4 1.5 1.5-1 2.7-2.4 1.1-1.7 2.9 .7 1.7 .9 3.6 .3 1.9 1.8 2.6 1.4 .8 10.2 .8 8.8 0 10.5-2.5 1.7-2.5 0-4.1-1.8-1.6 .9-2.1 2.7-.6 5.7-2.9 3.1-2.3 4.8-5.5 1.7-3.2 2.6-3.2 .9 .1 3.2-.8 2.3-.9 2.5-2.1 .1-1.3-.5-2.4-.7-1.2-2.5-2.6-1.8-1.4-2.7-.9-.8 .5-1.2-1.1-.4-1.5 .8-.9 1.1 .6 2.2-.2 1.1-.8 2.5-2.9 1.3-2.2 1.6-3.6 .2-1.5-.8-2.8-1-1.3-2.7-1.5-1.6-.1-3.5 1.6-1.9 1.8-2.5 3.9-.6 2.1-3.8 0-3.3-2-7.4-2.3-4.2-.4-6.7 2.4-2.6 2.7-6.6 4.7-3.9 2-5.6 4.1-1.7 2.2-2.2 .7-.6-1.5-3-2.4-2.5-1-7.5-.8-5.1 .2-7.2 1-2 .8-2.9 2.3-.9 1.6 .8 2.9 1.7 1.4 3.5 2zM56.6 140.1q3 1.1 6-.3 2.9-1.3 3.9-2.5 1.1-1.3-1.4-3.6-2.5-2.2-3.9-2.4-1.4-.2-2.9 .2-1.5 .4-2.4 1.6-.9 1.2-2.4 2.1-1.5 .8-.7 2.3 .9 1.5 3.8 2.6zM44.7 135.7q-1.7 2.5-1.5 3.8 .2 1.4 .9 2.3 .7 .9 1.5 1.1 .9 .3 1.7-.2 .9-.5 1.4-1.2 .5-.8 .4-2.1-.1-1.4 .3-2.7 .4-1.3-1.3-2.4-1.7-1.1-3.4 1.4zM30 141.8q1.3-.3 1.4-.6 0-.3-1.4-1.2-1.5-1-2.2-.5-.7 .5 0 1.5 .8 1 2.2 .8zM67.6 5.2q-1-.5-1.9 .4-.8 .9-.1 1.8 .8 .8 1.9-.4 1-1.2 .1-1.8zM116.7 9.3q1.5-.4 1.5-.8 .1-.3-1.4-1.5-1.6-1.3-1.9-.3-.3 1 0 2 .2 1 1.8 .6zM100.2 8.8q-1.4-.2-2.9 0-1.5 .3-2.5 1.3-1.1 1 0 5 1.1 4 2.6 4.5 1.5 .4 2.8 .2 1.4-.2 2.3-3 1-2.9 .8-4.3-.2-1.4-1-2.5-.7-1-2.1-1.2zM82.6 33.5q.6 .7 3 1.2 2.3 .6 3 .1 .7-.5 .3-1.9-.4-1.4-1.7-2-1.4-.7-2.1-.5-.7 .2-1.9 1.3-1.1 1.1-.6 1.8zM65 53.3q.2-.9-.8-1.2-1.1-.2-1.2 .4-.2 .7 .4 1.3 .6 .7 1 .6 .4-.1 .6-1.1zM97.9 53.4q-1.4-.3-1.7 0-.4 .4-.2 2.2 .2 1.8 1.1 2.3 1 .5 1.5-1.9 .6-2.4-.7-2.6zM58.7 57.1q.4 .4 1.6 .1 1.3-.2 1.6-.7 .3-.6-.3-1.2-.5-.6-1.9-.4-1.4 .2-1.4 1 .1 .8 .4 1.2zM112.6 70.8q-1-.1 4-1.1 5-1.1 5.7-3.7 .7-2.5 .4-4.9-.3-2.4-2.1-3.5-1.9-1.1-4.3-1.6-2.5-.4-4.9-1.7-2.5-1.3-4.5 1-2 2.3-3.8 6.7-1.8 4.4 .2 5.8 2 1.4 3.6 2.2 1.7 .7-.4 1.1-2.1 .4-3.9 1.8-1.8 1.4-3.4 3.2-1.6 1.9-3 4.8-1.4 3 2.5 6.3 3.9 3.3 6.2 3.8 2.3 .6 1.9 1-.3 .3 0 1.9 .3 1.6 1.5 3 1.2 1.5 3 1.1 1.7-.5 3.3-.3 1.5 .1-.8 .3-2.2 .2-2.2 2.7 0 2.5 4.7 4.7 4.6 2.2 6.8 3.6 2.1 1.3 5.5 1 3.5-.3 5.9-1.8 2.4-1.4 3.7-3.4 1.3-2 0-4-1.3-2-3.8-3.3-2.6-1.4-5.7-1.3-3.1 .1-7.4 .8-4.4 .8-3.9-.6 .6-1.4 1.7-2.9 1.2-1.4 .6-3-.5-1.6-1.6-3.1-1.1-1.5-3.2-1.5-2.1 0-1.5-1.9 .6-2 .8-4.6 .3-2.7-.1-5.6-.4-3-1.5-3zM70.2 65q1-.7-.3-1.9-1.2-1.1-1.6-1-.3 .1-.1 1.7 .3 1.6 .7 1.7 .4 .2 1.3-.5zM85.5 61.5q-.6-1.3-1.6-1.6-1-.4-2.2 .1-1.2 .4-1.6 1.8-.3 1.4-.4 2.5-.1 1.1 .4 3.1 .5 1.9 1.6 3 1 1 2.2 .6 1.3-.4 1.9-1.7 .6-1.2 .4-3.9-.2-2.7-.7-3.9zM71.9 77.8q.9 1.4 1.6 .5 .6-.8 .2-1.4-.4-.5-1.5-.5-1.1 0-.3 1.4zM63.2 88.5q-.2 1.3 1.3 1.8 1.4 .5 1.9-.4 .5-.9-1.3-1.8-1.8-.9-1.9 .4zM66 111.6q1.1 0 1.3-.8 .2-.8-.7-.7-.9 .1-1.3 .8-.4 .7 .7 .7zM66 113.8q-1.2 0-.9 1.7 .3 1.6 .9 1.9 .6 .2 1.6-.6 1.1-.8 .4-1.9-.7-1.2-2-1.1zM152.8 11.4q1-2-.8-1.9-1.8 .1-2.2 1.2-.3 1.1 .8 1.9 1.1 .8 2.2-1.2zM144.7 11.2q-1.3-1-2.2-.8-.8 .3-1.2 1.3-.3 1-.1 1.4 .2 .4 1.5 .7 1.2 .3 2.3-.7 1-.9-.3-1.9zM152.7 22q1.4-.3 1.6-1 .3-.6-1.2-2.1-1.5-1.5-2.3-.1-.9 1.4-.2 2.4 .8 1.1 2.1 .8zM148.5 40.1q.9-.3 .8-2.2 0-1.8-.2-2-.1-.1-1.1 .4-1.1 .6-1.3 2-.1 1.5 .4 1.8 .5 .3 1.4 0zM154.5 40.8q-.1 1.9 .6 4.9 .8 2.9 1.5 3.2 .8 .3 2.5-.9 1.7-1.1 .8-6.3-.8-5.2-1.7-5.9-.8-.6-1.7 .1-.8 .8-1.4 1.9-.6 1.2-.6 3zM160.7 60.4q.6-1.4 0-2.8-.5-1.3-1.2-1.6-.7-.2-1.6 .7-.9 1-1.1 1.6-.1 .7 .2 1.4 .3 .6-.5 .7-.7 .2-1.4 1.7-.7 1.5 .2 1.8 1 .3 2.3-.5 1.4-.8 1.9-1.2 .5-.5 1.2-1.8zM136.6 60.3q.6 .1 .7-.7 .2-.8-.7-.3-.9 .4-.8 .6 .1 .3 .8 .4zM130.5 64.1q.3 1.2 1.5 1.2 1.1 0 1-1.4-.2-1.4-1.5-1.2-1.2 .2-1 1.4zM130.7 84.9q.4 .5 1.1 0 .7-.5 2.1-.6 1.5 0 5.7-2.3 4.2-2.3 4.2-1.5 0 .9 1.1 3.5 1.1 2.7 2.8 4.5 1.8 1.7 3.2 4.6 1.4 2.9 3.6 1 2.2-1.8 4.7-3 2.5-1.1 1.7-5.6-.9-4.5-2.9-9.5-1.9-5-3.9-5.8-2-.8-4.5-2.3-2.5-1.5-3.4 1.3-1 2.8-2.5 2.4-1.5-.3-6.7-.6-5.3-.3-8.3 .7-3.1 1-4.5 3.1-1.4 2-3.5 4.1-2.1 2.1 2.9 3.8 4.9 1.7 5.8 1.7 .8 .1 1.3 .5zM136.2 94.3q.3 1.4 1.4 .6 1.2-.7 .4-1.8-.8-1-1.4-.6-.6 .4-.4 1.8zM126.2 94q-.9 .4-.8 1.2 .1 .7 1.6 .7 1.5-.1 1.4-.6-.1-.6-.7-1.1-.6-.6-1.5-.2zM146.5 112.1q-.9-1.4-1.4 .2-.4 1.7-1.6 2-1.2 .3-2 1.1-.8 .7-1.3 2.1-.5 1.4-3.1 .1-2.6-1.4-6.2-2.2-3.6-.9-6.9 .1-3.4 .9-5.8 2.8-2.4 1.9-4 4.5-1.6 2.6 .1 5 1.6 2.4 3.9 4.4 2.3 2 5.7 1.4 3.4-.6 6.9-.4 3.5 .2 5.6-1.9 2.1-2.1 3-5.8 1-3.7 3.5-2.3 2.6 1.4 4.1 .5 1.6-1 2.9-3 1.3-2 1.2-3.6-.1-1.5-1-2.8-1-1.2-1.9-1-.8 .1-1.7-1.2zM142.3 147.1q9.1 .8 11.1-1 2.1-1.7 1.2-3.5-.9-1.8-.1-3.5 .8-1.7-6.2-4-7.1-2.3-11-1-3.9 1.3-6.3 2.5-2.4 1.1-3.7 4.4-1.3 3.2 2.3 4.3 3.7 1.1 12.7 1.8z" fill="#fff2fb" stroke="#6a2288" stroke-width="0.5" stroke-opacity="0.4"/><ellipse cx="33.2" cy="61.3" rx="2" ry="3.1" fill="#8a3a9a" filter="url(#bl1)"/><ellipse cx="80.5" cy="71.2" rx="3.1" ry="2" fill="#5a1a70" filter="url(#bl1)" transform="rotate(-20 80.5 71.2)"/></g></svg>
<svg id="he_s28" x="52.3" y="614.8" width="163.3" height="146.8" viewBox="0 0 163.3 146.8" overflow="hidden"><g filter="url(#soft)"><rect width="163.3" height="146.8" fill="#a44eae"/><rect width="163.3" height="146.8" filter="url(#heB)" opacity="0.5"/><rect width="163.3" height="146.8" filter="url(#heP)" opacity="0.55"/><rect width="163.3" height="146.8" filter="url(#heD)"/><rect width="163.3" height="146.8" filter="url(#heL)" opacity="0.8"/><path d="M7.1 -.4q1.5 .6 2.8 0 1.4-.6-1.4-.6-2.8 0-1.4 .6zM-1 3.7q0 3.4 .6 3 .6-.4 .6-3.2 0-2.8-.6-3-.6-.2-.6 3.2zM11.5 4.5q.5 2 1.3 1.6 .8-.4 1.9 1 1.1 1.3 3.1 1.6 1.9 .2 4.3-.9 2.5-1.1 2.7-.5 .2 .6 1.7 .9 1.5 .3 2.7-2.4 1.2-2.7 .4-4.5-.9-1.8-2.5-.8-1.7 1-2.6 .4-.9-.6-2.8-.9-2-.2-3.7 .3-1.7 .4-3.1 1.4-1.4 1-1.9 .6-.6-.5-1.3-.1-.7 .3-.2 2.3zM5.5 6.8q2.7 1.1 2.2-1.5-.4-2.6-2.6-3.5-2.2-.8-2.3 1.5 0 2.4 2.7 3.5zM.8 11.2q0 3 .8 3.5 .9 .5 4-1 3.2-1.5 3.3-2.2 0-.6-3.8-2.2-3.8-1.5-4-1.3-.3 .3-.3 3.2zM10.2 16.1q-1.3-1.8-4-.3-2.7 1.4-2.5 2 .1 .6 2.6 2 2.5 1.4 3.8-.3 1.3-1.6 .1-3.4zM.9 17.7q-.1-.7-1-1.1-.9-.4-.7 1.6 .2 1.9 1 1.1 .8-.9 .7-1.6zM.8 27.6q.8-.9-.1-1.7-.8-.9-1.3-.4-.4 .6-.4 1.3 0 .8 .5 1.3 .6 .4 1.3-.5zM6.5 30.2q1.7-3.2-.5-3.1-2.1 .1-3.5 2.1-1.4 2-.1 3 1.4 1.1 1.9 1.2 .5 0 2.2-3.2zM8.8 31.4q-1.4 2.4-.5 3.3 .9 .8 3.7-.9 2.9-1.7 .5-3.2-2.3-1.5-3.7 .8zM24.3 30.8q-3.5-1.8-5.1-.5-1.7 1.3-1.8 2.1-.1 .8 .7 2.1 .8 1.3-.2 2.3-1.1 .9-1.4 2.2-.4 1.3-.1 2.5 .2 1.3 1 2.1 .7 .7 .5 1.6-.1 1 .9 1.4 1 .4 1.3-.3 .4-.7 1.3-.4 .9 .2 2.4-.4 1.5-.6 2.5-1.5 1.1-.9 2.1-2.3 1-1.5 .3-2.9-.7-1.5-1.9-2.4-1.1-.8-.2-1.5 .9-.7 1.1-1.5 .1-.9-3.4-2.6zM-.9 36q.1 3.2 1.7 .9 1.6-2.3 .3-3.4-1.3-1.1-1.7-.9-.4 .2-.3 3.4zM16.4 35.9q-.3-.8-3.4 .7-3.1 1.5-3.1 2.7-.1 1.3 2.9 1.1 2.9-.2 3.5-2 .5-1.7 .1-2.5zM11 43.8q0 .9 1.6 1.9 1.7 1 2.1 .6 .5-.3 .9-2 .5-1.7-2.1-1.6-2.5 .2-2.5 1.1zM2.6 44.9q-.1 1.2 1.8 1.9 2 .8 3.2-.4 1.3-1.2 1.1-2.7-.2-1.4-3.1-.7-2.9 .8-3 1.9zM9 48.5q-1.1 1-.9 1.8 .1 .7 1.2 1 1.2 .4 2.2-.9 1-1.4-.2-2.1-1.2-.8-2.3 .2zM18 50.8q.3 0 .5-.6 .1-.5-.9-.8-1.1-.4-.5 .5 .5 .9 .9 .9zM.9 59.8q1.9 1.6 3.3 1.1 1.5-.4 .2-3.4-1.2-2.9-.1-4.4 1.1-1.6 1-2.4-.2-.8-2.1-1.7-2-.9-2.3-.6-.3 .2-.3 3.3-.1 3.1-.8 4.1-.8 .9-.8 1.6 0 .7 1.9 2.4zM12.8 55q.5 1.4 .3 2.7-.2 1.2 .5 1.7 .7 .5 2.9-1.2 2.2-1.7 1.5-2.9-.8-1.2-2.3-2.6-1.5-1.5-2.5-.3-1 1.2-.4 2.6zM7 57.1q1 2 2.3 1.7 1.3-.4 1.5-1.4 .2-1.1-.2-2-.5-.9-1.9-1.3-1.4-.5-2 .2-.6 .7 .3 2.8zM16 62q.1 .6 2.8 .4 2.6-.2 2.2-2.2-.4-1.9-2.7-.4-2.4 1.6-2.3 2.2zM12.5 61q-1-.7-2.8-.1-1.7 .6-1.9 .9-.1 .3 1 2.9 1.1 2.6 2.8 3.1 1.7 .5 2.4-1.7 .7-2.2 .1-3.3-.5-1.1-1.6-1.8zM16.2 66.6q-.3 1.6 1 2.1 1.3 .4 2.6-.2 1.2-.6 1.3-2.2 0-1.6-2.3-1.5-2.3 .2-2.6 1.8zM6.1 72.5q1 1.9 3.7 1.8 2.8 0 3.7 1.2 .9 1.1 3.3 1.3 2.5 .2 1.7-2.7-.9-2.8-5.4-4.1-4.6-1.2-6-4-1.4-2.8-2.5-2.4-1.1 .3-2 2.8-1 2.5 .8 3.3 1.7 .9 2.7 2.8zM3.7 77.9q1.3-2.5 .5-4.1-.8-1.6-2-1.9-1.1-.4-2.2 1.1-1 1.6-1 3.5 0 1.8 1.8 2.9 1.7 1 2.9-1.5zM7.1 82.9q2.1-.2 3.4-2.6 1.4-2.3 1.1-2.9-.3-.6-2.3-.5-2 .1-3.4 2.9-1.4 2.7-1.1 3 .3 .3 2.3 .1zM17.3 83q1.4-2.8-.6-3.1-2.1-.4-3.1 1.7-1.1 2 .6 3.1 1.7 1.1 3.1-1.7zM17.4 89.3q-1-.2-2.6 3.7-1.7 4-.5 5.6 1.3 1.6 5.1-1.4 3.8-3 4.4-2.7 .7 .3 2.3-.1 1.6-.3 3.1-1.5 1.5-1.2 1.4-2.8 0-1.5-1.5-3.7-1.4-2.3-3.3-2.4-1.9-.1-2.8-1-1-1-2.6 1.2-1.6 2.2-1.9 3.7-.2 1.5-1.1 1.4zM-.3 99.3q.6 .3 2.6-1.8 1.9-2.1 .6-4.3-1.3-2.3-2.6-2-1.3 .2-1.3 4 0 3.7 .7 4.1zM4.2 104.7q1.9 2.8 5.5-.5 3.6-3.4 2.6-4.7-1-1.3-3.3-1.9-2.4-.5-4.5 1.8-2.2 2.4-.3 5.3zM.6 109.6q1.6-.2 1.9-.7 .4-.5-.9-1.9-1.3-1.4-1.9-.8-.7 .6-.7 2 0 1.5 1.6 1.4zM5.6 116.1q.7 .7 2.9 .9 2.2 .1 2.4-.1 .2-.2-2.3-3.2-2.5-3-3.1-2.3-.5 .6-.5 2.3 0 1.6 .6 2.4zM12.5 112.6q2.9 3.6 3 5.6 .1 1.9 3.1 3.9 2.9 2 4.2 2.1 1.3 0 1.9-.6 .6-.6 3 .6 2.3 1.3 1 1.1-1.3-.2-2 .4-.7 .6 .2 3.6 .9 2.9 4.2 3.7 3.3 .8 4 3.1 .8 2.2 2.8 2.6 2 .5 4.2-2.4 2.2-2.9 2.1-3.2-.1-.3-3.8-1.5-3.8-1.1-4.7-3.2-.8-2.1-3.3-2.5-2.4-.4-1-.4 1.5 0 2.7-.6 1.2-.7 2.5-2.6 1.4-1.9 1.2-2.7-.2-.8-2.1-2.1-1.9-1.3-9.9-2.2-8-1-9.6-6.1-1.7-5.2-4.1-2.6-2.4 2.5 .4 6zM-.9 114.5q.1 1.1 1.2 .7 1.2-.4 1.1-1.2-.1-.9-1.2-.8-1.1 .1-1.1 1.3zM-1 122.8q0 1 .4 .6 .4-.4 0-1-.4-.5-.4 .4zM17.7 129.3q1.5-2.9-.9-4.5-2.5-1.6-3.5 2.2-1 3.9 1 4.6 2 .7 3.4-2.3zM24.7 134.5q1-1.7 .2-4.3-.8-2.6-1.8-2.8-1-.1-2.9 3.3-1.9 3.5 .8 4.5 2.7 .9 3.7-.7zM7.7 134.4q.7-1.5-1-2.6-1.7-1.1-3.7 .7-1.9 1.8 1 2.6 2.9 .8 3.7-.7zM11.4 139.1q1.4 .8 2.6-1.4 1.2-2.1-.8-3-2.1-.9-2.9 .8-.8 1.7-.6 2.2 .2 .5 1.7 1.4zM1.2 143.4q.3 .1 3.1-2.1 2.7-2.1 2.6-2.8-.1-.7-3-1.3-3-.7-3.5 1.4-.6 2.1-.1 3.4 .6 1.4 .9 1.4zM12.1 146.6q1.2-1.1 .9-2.3-.4-1.2-2.5-2.4-2.1-1.2-4.9 1.1-2.8 2.3-1.8 3.6 1 1.2 4.1 1.2 3 0 4.2-1.2zM.4 147.8q1.4 0 .3-1-1.2-1.1-1.4-1.6-.3-.6-.3 1 0 1.6 1.4 1.6zM39.6 -1q-1.5 0-1.1 .3 .5 .4 1.5 0 1.1-.3-.4-.3zM23.4 -1q-1.8 0-1 .6 .7 .6 1.7 0 1-.6-.7-.6zM32.2 8.9q1.8-.5 3.3-4.2 1.5-3.7 .6-4.7-.8-1-2.2-1-1.4 0-1.9 .3-.5 .4 0 2.1 .5 1.7-.6 4.8-1.1 3.1 .8 2.7zM39.6 7.4q-1.9-1.2-2.6 .2-.7 1.4 .6 2.4 1.3 1 2.6 .2 1.2-.8 1.3-1.2 .1-.4-1.9-1.6zM23.9 10.9q-.7 .4-1.5 3.8-.7 3.4-.4 3.6 .3 .2 3.3-.3 3-.5 3.3-1 .3-.5-.1-3-.3-2.4-2.2-2.9-1.8-.6-2.4-.2zM39.3 15q-.3 2.1 .5 2.8 .8 .7 4.3 .5 3.4-.3 2.6 .8-.8 1.1-3.6 1.3-2.8 .2-4.3-.9-1.5-1-4.4-1-2.9 0-3.2 .6-.4 .6 .6 2.5 1 2 4.1 2.1 3 .2 4.5 2.4 1.4 2.2 2.6 1.9 1.2-.2 2.1-2.7 .9-2.5 2.2-1.2 1.2 1.3 .8 2.6-.5 1.4 0 1.8 .5 .4 2-.3 1.4-.6 2.2-.3 .7 .3 2.3-.5 1.7-.7 1.6-.1-.2 .7 1.4 3.2 1.6 2.6 .7 3.6-.9 1.1-.3 2.4 .7 1.3 1.6 1.7 1 .3 2.4 2.7 1.5 2.3 2.5 2 .9-.3 2-1.6 1.2-1.3 2.8-1.7 1.5-.5 2.9-1.3 1.5-.9 2.6-2.1 1.1-1.3 .9-1.6-.2-.4 1.2-.3 1.5 .1 3.4-1.2 1.9-1.2 1.2-2.8-.7-1.6-3.9-.5-3.2 1.1-4.9-.3-1.6-1.4-4.3-.9-2.8 .5-6-3.2-3.3-3.8-3.2-5.6 .2-1.8-3.1-2.4-3.2-.6-4.9-.5-1.7 0-5.2-3-3.5-3.1-5-2.1-1.4 1.1-1.7 3.2zM25.8 21.2q-2.9 .3-3.2 3.1-.3 2.8 2.8 4.3 3.1 1.6 4.1-1 1.1-2.6 .1-4.7-1-2-3.8-1.7zM32.1 28.3q-1 2.2-.9 2.4 .2 .3 3.5 .8 3.3 .5 4.1-.6 .8-1.1-.2-2.8-1-1.8-3.3-1.8-2.2-.1-3.2 2zM43.3 30.3q-1.7 .3-2.6 1.7-.8 1.4-.7 1.8 0 .4 2.8 2.2 2.7 1.8 4.4 1.1 1.7-.8 1.2-3.1-.5-2.4-2-3.2-1.4-.9-3.1-.5zM33.6 39.1q1.3 .4 2.2-1.8 .9-2.2-2.3-2.7-3.1-.4-2.1 1.9 .9 2.3 2.2 2.6zM41.8 37.9q-2.2-1.3-2.9 .7-.8 2 1.7 3.2 2.5 1.2 3-.6 .4-1.9-1.8-3.3zM33.8 44.8q.2-2.3-1.2-2.6-1.4-.2-2.6 1.3-1.3 1.5-1.1 2.6 .3 1 2.5 1 2.2-.1 2.4-2.3zM37.7 46.3q.8 .2 1.4-.5 .6-.8-.6-1.4-1.2-.5-1.4 .6-.2 1 .6 1.3zM36.7 48.1q-5.1-.3-6.9 1.4-1.9 1.7-1.9 3.1 .1 1.3 1.5 2.3 1.5 1 2.2 1.1 .8 .1-.4 .7-1.1 .6-3.9 .1-2.7-.5-3.8 .3-1 .7-.5 2.6 .5 2 3.6 2.2 3.1 .2 3.7-.4 .5-.6 3.6-1.3 3-.7 3.1 0 .1 .8-2.7 1.5-2.9 .8-2.6 2.7 .3 2 3.9 2.4 3.6 .5 4.1-.4 .5-.9 .1-1.7-.4-.8 .9-.6 1.3 .3 1.5 .9 .2 .5-.2 1.8-.5 1.3 .5 3.3 .9 2 2.3 1.3 1.3-.7 2.1-2.7 .9-2 .3-2.6-.7-.5 2.1-.4 2.8 .2 3.4 0 .6-.2 1.6 .3 .9 .6 1.8-.1 .9-.6 .6-2.6-.4-2-3.7-3.8-3.4-1.8-1.9-1.8 1.6-.1 1.5-1.4-.1-1.3-1-2.2-.9-.9-1.9 1.2-1 2-2.6 1.4-1.7-.5-1.2-2.2 .4-1.7-1.6-1-2 .6-2.2 1.3-.2 .6 1 1 1.1 .4-.9 .5-2.1 .2-2.8 .6-.7 .5-.5-.1 .1-.7-.6-1-.6-.3 2.4-2.3 3-2 2.8-2.7-.1-.6 1.1-1.1 1.2-.5 1-1.4-.2-1-.9-1.5-.8-.6-1.9 .5-1.1 1.2-6.1 .8zM23.1 54.5q1.6-.7 3-.7 1.4 0 1.2-1.5-.2-1.5-1.4-1-1.3 .6-2.6 .4-1.4-.1-2.2 1.1-.8 1.1-.2 1.8 .6 .7 2.2-.1zM26 69.1q2.5 1.2 3.3-.3 .8-1.5 .5-3.1-.4-1.6-3.3-1.8-2.8-.1-2.9 1.9 0 2 2.4 3.3zM30.9 70.6q-1 2.4 1.8 4.8 2.7 2.3 5.7 1 2.9-1.3 3.1-1.7 .2-.5-1-3.2-1.3-2.6-4.9-2.9-3.7-.3-4.7 2zM24.8 71.5q-2.3-1.4-3.5-.9-1.1 .6-.1 3.4 1 2.9 3.5 .9 2.4-2.1 .1-3.4zM48.5 77.9q2.8-.4 3-.7 .1-.2-.6-1.8-.7-1.5-2.3-2-1.6-.5-3.5 .5-1.8 1-.6 2.7 1.1 1.7 4 1.3zM27.5 82.6q3 3.2 3.8 2.9 .7-.3 1.3-3.2 .6-2.8-1.6-4.7-2.2-1.8-4.3 0-2.2 1.8 .8 5zM39 86q4.1 .5 5-1.7 .9-2.2 .6-3.5-.2-1.3-1.3-2.6-1.2-1.4-4.2-.2-3.1 1.3-3.7 4.5-.5 3.1 3.6 3.5zM41.2 94.7q2.3-.4 2.7-1.3 .4-.9-.6-2.5-.9-1.6-4.3-2-3.3-.4-1.7 3 1.6 3.3 3.9 2.8zM26.8 100.9q.5-1.3-.6-3.1-1-1.9-3.7 .3-2.6 2.3 .6 3.2 3.2 .8 3.7-.4zM43.5 95.8q-3.2-.3-4.2 2.3-1.1 2.5-.6 4.8 .6 2.3 1.4 2.6 .9 .3 1.6-.2 .8-.5 2.6 .2 1.7 .8-.5 2.3-2.3 1.5-4.1 1.1-1.9-.4-2.7 2.5-.8 2.9 .1 3.7 .9 .8 3.3-1.6 2.5-2.5 6.8-1.4 4.4 1.2 4.7 .5 .3-.7-1.6-3.7-1.8-2.9-.4-3.2 1.4-.3 3.1 2.2 1.6 2.6 3.3 .8 1.7-1.8 .9-4.9-.9-3.2-1.5-3.1-.6 0-1.2-1.3-.5-1.2 .4-1.7 1-.5 .9-.8-.2-.3-4.1-1.7-4-1.4-4.6-.3-.5 1.1-3.6 .9zM30 102.7q-.5 1.8 2.6 2.2 3.1 .4 3.1-2.1-.1-2.5-2.6-2.2-2.6 .3-3.1 2.1zM22.4 111.4q2.1 .1 3.1-2.4 1.1-2.6 1-3-.1-.3-4-1.2-3.8-.8-3 2.8 .8 3.7 2.9 3.8zM33.3 111.1q.6-2.4-1.5-2.6-2.1-.3-3.2 2.6-1.1 2.8 1.5 2.6 2.6-.2 3.2-2.6zM48.3 120.8q.8-.5 .2 5.3-.6 5.8 .2 6.3 .8 .5 2.1 .2 1.3-.4 4 .3 2.7 .6-.6 1.5-3.4 .9-2.9 3.2 .5 2.3 1.3 2.7 .8 .5 2.7-.1 1.9-.6 2.3-3.6 .4-3 .8-3.1 .5 0 2-1.8 1.4-1.8 1.3-4.3-.2-2.5-1.1-4.7-.9-2.2 .2-3.7 1.1-1.5 .8-2.5-.4-1.1-3.4-2.3-3-1.2-3.8 .1-.9 1.2-.9 2.1 0 .9-.9 .9-.9 0-1.5 .7-.7 .7-.8-.4-.2-1-3.4-1.8-3.1-.8-4.7 1.2-1.5 2 1.9 3.1 3.4 1.2 4.2 .7zM45.9 127.5q.7-3.5-2.9-4.6-3.5-1-4.9 .9-1.4 2-.8 3.6 .7 1.6 4.3 2.6 3.6 1 4.3-2.5zM28.3 142.6q1.6 .6 3.5-1.7 1.9-2.3 1.5-3.8-.5-1.5-3-2-2.5-.5-3.6 1.2-1 1.8-.5 3.8 .4 2 2.1 2.5zM46.9 142.4q2.5-2.4 1.9-4.7-.6-2.4-1.4-2.9-.9-.6-3.3 2.5-2.4 3.1-1.5 5 .9 2 1.4 2.2 .5 .2 2.9-2.1zM38.7 146.1q2.2-1.3 1.5-3-.8-1.7-2.6-2.2-1.8-.4-3.8 1.9-2.1 2.2 .3 3.3 2.3 1.2 4.6 0zM23.3 146.1q-2.5 1.7 1.8 1.7 4.3 0 4.5-.7 .1-.7-.1-1.1-.3-.4-2-1-1.7-.6-4.2 1.1zM53.2 5.4q.6 .7 3.7 .5 3-.1 3-3 .1-2.8-1.6-3.4-1.6-.5-3.1-.5-1.6 0-2.1 2.8-.5 2.8 .1 3.6zM43.8 8.7q-.1 .5 2.8 2.8 2.8 2.3 4-.9 1.1-3.2 .6-3.9-.6-.8-2.8-1-2.3-.2-3.4 1.1-1.2 1.3-1.2 1.9zM68.4 26.1q1.9-.4 2.6-1.8 .7-1.5-1-6-1.7-4.5-2.1-4.7-.4-.2-3.4 3.3-3 3.6-.5 6.6 2.6 3 4.4 2.6zM51 33.4q.4 1.3 3 1.1 2.6-.2 1.4-2.3-1.2-2.1-3-1.1-1.9 .9-1.4 2.3zM55.5 40.7q2.3-1.5 2.1-2.5-.1-1-3.3-.7-3.2 .3-2.1 2.4 1 2.2 3.3 .8zM45.9 44.6q.9 .7 3-.5 2.1-1.3 1-3.6-1-2.3-2.4-1.6-1.4 .7-1.9 2.8-.6 2.2 .3 2.9zM52.5 46.2q-.4-.8-2 .2-1.6 1-1.4 2 .2 1.1 .8 1.8 .6 .6 1.8-1.2 1.2-1.9 .8-2.8zM66.9 48.9q1.5 2.3 2.2 1.5 .7-.8-1.4-2.6-2.2-1.8-2.2-1.5-.1 .3 1.4 2.6zM54.3 49.8q-1.1 2-.5 2.7 .6 .7 2.5 .1 2-.6 2.5-2.3 .5-1.8-1.5-2.1-1.9-.3-3 1.6zM60.1 50.7q-.8 2.5-2.9 3.2-2.2 .8-2 2.9 .3 2.2 1.2 2.5 .9 .3 3.5-.7 2.7-1.1 4.4 .6 1.8 1.7 3.8-.2 2.1-2 1.5-3.5-.6-1.5-1.9-1.9-1.3-.4-3.2-3.5-1.9-3.1-2.7-2.5-.9 .6-1.7 3.1zM72.2 59q-1.1-.4-3.2 1.7-2 2-1.8 3.5 .2 1.5 2.3 1.9 2.2 .5 3.3-2.2 1.2-2.7 .8-3.6-.4-.9-1.4-1.3zM65.1 64.2q-.2-1.8-1.5-3.3-1.4-1.5-3.3-.6-1.9 .8-1.2 2.8 .6 2 3 2.7 2.4 .7 2.8 .4 .4-.3 .2-2zM52.4 70.6q1.6-1.2-.1-2.2-1.7-1-2.5 .8-.9 1.7 .1 2.1 1 .4 2.5-.7zM62.3 70.1q.5-1.5-1.3-2-1.8-.5-3 .6-1.3 1.1-.5 2.2 .8 1 2.6 .9 1.7-.2 2.2-1.7zM70.8 71.8q0-3-2-3.4-2.1-.5-2.5-.2-.5 .3-1.1 2.4-.7 2.1 0 3.8 .7 1.8 3.2 1.1 2.4-.8 2.4-3.7zM54 73.1q-.8 .5-.4 1.5 .3 1 .9 .9 .7-.2 1-1 .3-.7-.2-1.3-.5-.6-1.3-.1zM61.8 80.1q1.4 .3 1.8-1 .4-1.3-.3-3-.7-1.7-2.8-1.6-2 .1-2.4 1.1-.3 1 1 2.6 1.3 1.6 2.7 1.9zM56 80.9q1.2-.5 .5-1.5-.7-1-1.6-.7-.8 .3-.5 1.5 .3 1.2 1.6 .7zM73.2 80.1q.1-1.7-.6-2.3-.8-.7-3.5 .2-2.7 .8-3.1 1.9-.4 1.1 2.7 2 3.2 .9 3.9 .3 .6-.5 .6-2.1zM69.3 88.5q1.7-.7 1.7-1.9-.1-1.3-2.7-1.9-2.6-.5-1.7 2 .9 2.6 2.7 1.8zM61.2 88.1q-1.9 1.9-1.6 2.8 .2 .9 3 .7 2.7-.1 1.6-2.8-1-2.6-3-.7zM52 89.7q-1.5 1.8 1.2 2.8 2.8 .9 3.2 .5 .4-.4 .2-1.6-.1-1.3-1.6-2.4-1.5-1.2-3 .7zM63.9 96.6q.8-1.4-2-1.6-2.8-.1-3.6 .9-.7 1.1 2 1.6 2.8 .5 3.6-.9zM68.7 100.5q1-2 .7-2.5-.2-.5-1.2-.9-1.1-.3-1.9 1.3-.9 1.5-.4 2.7 .4 1.2 1.1 1.3 .7 .1 1.7-1.9zM61.7 103.3q1.3-.6 1.1-1.3-.2-.7-1.8-.7-1.6-.1-1 1.3 .5 1.4 1.7 .7zM66.3 106q.1-.7-.5-.9-.5-.3-2.1 .8-1.6 1.2-.3 1.7 1.3 .5 2.1-.2 .7-.8 .8-1.4zM66.9 109.3q-.9 .9-.7 1.8 .2 .8 .7 1 .5 .2 1.5-.2 1.1-.4 1.3-.9 .2-.4-.9-1.5-1-1.1-1.9-.2zM63.3 112.7q1.3-.9 1.1-1.7-.3-.7-2.5-1.6-2.3-1-3.7 .4-1.3 1.3 1.3 2.5 2.6 1.2 3.8 .4zM71.3 116.3q.3-.5-.5-1.6-.9-1.2-1.6-1-.7 .3-.5 1.5 .1 1.2 1.2 1.4 1.1 .1 1.4-.3zM64.2 115.6q.1 .6 1 .7 .9 .1 .8-.9-.2-1.1-1.1-.7-.8 .4-.7 .9zM62.8 120.1q-.9 1.5-.2 1.9 .7 .4 2-.1 1.2-.5 1.3-1.7 0-1.1-1.1-1.3-1.2-.2-2 1.2zM69.6 121.1q.9 .5 .7-.5-.1-.9-.8-1-.6-.1-.7 .5 0 .5 .8 1zM66.2 125.5q.4 0 .6-.7 .3-.6 .1-.9-.2-.2-.9 .1-.6 .4-.5 1 .2 .6 .7 .5zM66.6 131.8q1.1-1.4 .7-2-.4-.6-1.4-.7-.9-.2-2.3 1.3-1.5 1.4 .2 2.1 1.6 .8 2.8-.7zM57.4 147q1.9 .3 2.4-1.8 .5-2-.5-2.8-1-.9-2.9-.3-1.8 .6-1.4 2.6 .4 2 2.4 2.3zM52.4 145q-.5-1.9-1.1-2-.5-.2-2.5 1.8-2 2.1 .6 2.6 2.7 .4 3.1-.1 .3-.5-.1-2.3zM64.2 147.8q2.6 0 2.7-1.3 .1-1.3-.5-2.1-.6-.7-2.1-.4-1.5 .3-2.1 2-.5 1.8 2 1.8zM81.7 -1q-1.9 0-1.6 .5 .2 .5 1.8 0 1.6-.5-.2-.5zM87.7 -1q-.9 0-.4 .5 .5 .6 1 0 .4-.5-.6-.5zM83.3 4q2.5-.2 2.8-.8 .3-.5-.5-1.3-.8-.9-3.1-.1-2.3 .8-2 1.6 .4 .8 2.8 .6zM88.4 7q.5 1.7 1.8 1.9 1.4 .2 1.6 0 .2-.3-.1-2-.4-1.7-1.7-2.2-1.2-.6-1.7 0-.4 .7 .1 2.3zM75.9 9.9q2.2-1.3 2.5-2.7 .4-1.5-.1-2.9-.4-1.4-3.3-1.4-2.9-.1-4.7 4-1.7 4.1-1.2 4.4 .5 .3 2.5 .1 2.1-.2 4.3-1.5zM80.7 7.6q-.2 .8 1.6 2 1.8 1.1 2.8 .4 1-.8 .6-2.3-.5-1.4-2.6-1.2-2.2 .2-2.4 1.1zM78.3 14.3q1.4 1.6 3 .4 1.5-1.3-.4-2.3-1.8-1.1-2.9-.4-1.1 .8 .3 2.3zM86.3 18.3q.3-1.3 2.2-2 2-.8 3.4 .1 1.4 .8 2.2 .6 .7-.2 1-2.9 .2-2.7-3.6-3-3.8-.3-5 .6-1.2 1-1.3 2.1-.1 1.2-2.2 3.1-2.1 2-2.1 3.1 0 1.1 2.5 .3 2.5-.8 2.9-2zM76.3 21q2.3-.4 2.3-1.3 0-.9-2.4-3.5-2.4-2.6-3.7-2.5-1.3 .1 0 3.9 1.4 3.9 3.8 3.4zM89.3 17.6q-.8 .3-1.1 1.3-.2 1.1 .8 2.4 1.1 1.4 1.7 1.4 .6 .1 1-2 .4-2-.5-2.7-1-.6-1.9-.4zM84.5 22.4q-2.1 .8-1.7 1.7 .4 .8 2.5 .7 2.1 0 2.5-.5 .4-.4-.4-1.6-.9-1.2-2.9-.3zM73.9 27.3q.8 .8 3.7-.2 2.9-1 2.6-2.5-.4-1.5-3.3-1-2.8 .6-3.3 1.7-.5 1.2 .3 2zM85.7 31.8q1 .3 1.5-.3 .5-.5 .2-2.4-.3-1.9-2.2-1.9-1.8 0-1.2 2.2 .6 2.2 1.7 2.4zM81.9 34.7q-2 1.2-1 2.9 1 1.6 1.8 1.7 .7 0 2.1-2.3 1.4-2.2 .2-2.9-1.2-.6-3.1 .6zM87.5 37.8q-.3 0-.9 1-.6 .9 .1 1.6 .7 .7 1.4-.4 .8-1.1 .2-1.7-.5-.6-.8-.5zM77.2 37q-.6-.1-1.8 1.1-1.3 1.2-.4 2.8 1 1.6 2.2 1.9 1.3 .4 2-.9 .6-1.4-.4-3-1.1-1.7-1.6-1.9zM82.4 42.9q-.4 1.1 .9 1.6 1.3 .5 1.8-.2 .5-.8-.4-1.6-.9-.9-1.4-1-.5 0-.9 1.2zM69.5 45.3q1.7 1.6 2 1.6 .3-.1 1.2-1.6 1-1.5-.2-3.4-1.2-1.9-2.9-.1-1.7 1.9-.1 3.5zM79.4 51.4q.6 .5 1.8 .2 1.2-.3 2-1.5 .9-1.3 .8-1.8 0-.5-2.1-1.3-2-.9-4.2-1.2-2.1-.4-3.3 1.6-1.2 1.9 1.6 2.7 2.8 .8 3.4 1.3zM86 51.5q-.5 .5 .8 1.8 1.4 1.3 2.4 .3 1.1-.9-.8-1.7-1.9-.8-2.4-.4zM74.6 52.9q-2.5-.8-3 0-.5 .7 0 1.9 .5 1.3 1.3 1.7 .8 .4 2.5-1.2 1.8-1.7-.8-2.4zM82.8 56.6q.7 1.6 1.5 .9 .9-.7-.5-1.8-1.4-1.2-1.6-.9-.1 .3 .6 1.8zM79.9 58q-.7-2.3-2.5-.7-1.8 1.6-1.6 2.3 .2 .7 2.5 .7 2.3-.1 1.6-2.3zM88.1 63.3q1.2-.6 .3-2.5-.9-1.8-2.2-1-1.4 .9-.4 2.4 1 1.6 2.3 1.1zM82.2 64q.3 1.3 1.1 .7 .8-.5 0-1.6-.9-1.1-1.1-.8-.3 .3 0 1.7zM77.4 63.5q-1.1 .1-1.6 1.5-.5 1.4 1.3 .9 1.7-.6 1.6-1.5-.1-.9-1.3-.9zM89.1 68.9q.6 .3 1.9-.7 1.3-1 1-2.2-.4-1.3-.9-1.4-.4 0-1.7 .5-1.2 .6-1.1 2.1 .2 1.5 .8 1.7zM83.9 68.4q.2 .8 1.2 .6 1-.3 .8-1.3-.2-1.1-1.2-.5-1 .5-.8 1.2zM78.7 70.4q1 1.3 2.4 1 1.4-.3 .6-2-.7-1.7-2.3-1-1.7 .6-.7 2zM75.9 76.3q1.1-.4 1.8-1.9 .6-1.5-.8-3.2-1.5-1.8-2.5-2.1-1.1-.2-1.2 3-.2 3.2 .7 3.8 .9 .7 2 .4zM87.8 75q1.4-.4 1.2-2.2-.2-1.8-.9-2.1-.7-.3-2.2 .5-1.5 .7-.5 2.4 .9 1.8 2.4 1.4zM81.6 77.1q1.9 1 2.3 .2 .4-.8-.4-2.1-.7-1.2-1.9-1.1-1.1 .1-1.5 1.1-.4 1 1.5 1.9zM88 81.2q2 1.4 3.6 .7 1.7-.7 1.3-2.2-.4-1.5-1.7-2.1-1.3-.6-2.8-.2-1.5 .4-2 1.4-.4 1 1.6 2.4zM80.2 81.6q.6-.9-.9-1.9-1.6-1-2.3-.9-.6 .2-.6 1.2-.1 1.1 1.5 1.8 1.6 .6 2.3-.2zM83.8 88.2q1.5 .9 2.1 .6 .7-.3 1.3-2 .7-1.8-1.3-3.1-1.9-1.3-2.9 0-.9 1.3-.8 2.5 .1 1.2 1.6 2zM74.7 92.2q0-.4-1.3-1.2-1.3-.8-3.4 .1-2.1 1-2.4 1.5-.2 .5 0 1 .3 .5 1.5 1.1 1.2 .7 3.4-.7 2.2-1.4 2.2-1.8zM78.6 95q1.4 2.6 3 2.5 1.5-.1 2-3 .4-2.8-1.1-3.7-1.5-1-3.4 .3-2 1.2-.5 3.9zM76.9 99.2q.7-.7-.4-2.4-1.1-1.6-2.8-.5-1.7 1.2 .4 2.4 2.1 1.1 2.8 .5zM83.8 105.7q1.4-1 2.2-.9 .7 0 3 1.7 2.2 1.6 3.3 .3 1-1.2 1-1.6 0-.4 1.7 .8 1.8 1.1 3.2 .8 1.5-.4 3-1.9 1.5-1.5 3-2.5 1.5-1 1.2-2.2-.3-1.2-2.2-1.6-1.9-.3-2.8-1.4-1-1-.8-1.3 .2-.4-.5-2.9-.7-2.6-3-1.3-2.2 1.3-2.3 2.3 0 1.1-1.1 2.1-1.1 1-1.3-.9-.1-1.9-1.9-2.9-1.7-1-2.3-.8-.6 .1-1.5 4.2-1 4-3.3 4.2-2.3 .1-3.9 1.5-1.6 1.4-4.2 .2-2.6-1.1-3.3 .1-.6 1.1 2.5 1.9 3.1 .7 6 1.9 2.9 1.1 4.3 .2zM72.3 108.5q1.2-.4 1.4-1.2 .1-.9-2.4-1.4-2.5-.5-2.4 .1 0 .7 1.1 1.8 1.1 1.1 2.3 .7zM84.9 112.6q.9 1 2.9 0 2-1 0-2.7-2-1.7-2.7-1.2-.8 .5-1 1.7-.2 1.3 .8 2.2zM81.1 118.8q1.2 .6 1.5 .4 .2-.1 .5-1.5 .2-1.4-.7-2.2-.9-.8-1.8-.5-.9 .3-.8 1.8 .2 1.4 1.3 2zM72.8 111.4q-.8 .5 .3 2.4 1.2 2 .7 3.2-.5 1.3 .7 4.3 1.2 3 1.3 4.8 0 1.9 1.7 2.9 1.7 1 3.8 1.4 2.1 .5 3.9-.1 1.9-.6 3 .8 1.1 1.3 2.6 .6 1.6-.7 1.8-1.6 .3-.9-.6-2.1-.9-1.2-1.2-3.4-.4-2.3 1.8-5.1 2.1-2.9 .6-4-1.6-1.1-4.2 0-2.6 1.1-3 2.7-.4 1.7-1.5 1.7-1 .1-3.2 .8-2.1 .8-3.1 .2-1-.6-1.6-3.3-.7-2.8-1.8-4.8-1.1-1.9-2-1.4zM70.7 125.2q-.8 2.1-.4 2.2 .4 .2 1.3-.9 1-1 .4-2.2-.5-1.3-1.3 .9zM73.4 135.4q.2-.6-1.4-2-1.5-1.3-2.8 .4-1.2 1.7-1 2 .3 .4 2.7 .3 2.3 0 2.5-.7zM84.5 134.6q2-1 1.1-2.1-.8-1.2-2.6-1-1.8 .2-3.9 1.9-2.1 1.6-2.2 2.8-.2 1.1 .1 1.4 .3 .3 2 .5 1.8 .2 2.6-1.1 .9-1.3 2.9-2.4zM71.3 138.8q-2.9 0-3.4 1.4-.5 1.4 .3 2.3 .7 .9 3 .5 2.3-.4 3-2 .7-1.5 .3-1.9-.3-.4-3.2-.3zM71.6 146.1q-1.4 .4-1.5 1 0 .7 1.9 .6 2-.2 1.6-1.1-.5-.8-2-.5zM100 -1q-1.8 0-1.6 .2 .3 .3 1.9 0 1.6-.2-.3-.2zM111.6 -.4q-.5 .6 1 1.7 1.5 1.2 2.9 .4 1.4-.8 1.4-1.7 .1-.9-2.3-.9-2.5-.1-3 .5zM90.9 .4q-.8 1.5 .3 2.1 1.1 .6 3-1.1 1.9-1.7 1.2-2-.7-.4-2.2-.4-1.5 0-2.3 1.4zM102.9 5.4q2.3 .1 3.4-2.4 1.2-2.5 .6-2.8-.5-.3-3.9 .3-3.5 .5-2.9 2.6 .6 2.2 2.8 2.3zM98 3.9q-.8-2-2.5-.6-1.8 1.5-1.3 3.6 .6 2.2 1.6 2.2 1.1 .1 2.1-1.5 .9-1.7 .1-3.7zM108.1 7.6q.6 1.1 2.8 .7 2.2-.4 2-1.9-.2-1.4-1.8-2.5-1.6-1.2-2.6 .7-1 1.8-.4 3zM121.4 7.6q.7 1.1 0 1.8-.6 .7-.1 1.5 .5 .8-1.5 .1-2-.8-3.4-.6-1.5 .1-2.6 1.1-1.1 .9-1.4 2.3-.4 1.3-.5 2.8-.1 1.4 .3 1.8 .5 .4-.4 2.3-.9 1.9 1.3 3.5 2.3 1.5 3.5 3.9 1.1 2.5 1.7 2.4 .6-.1 2.5-2.1 2-2 .6-4.3-1.4-2.3-2.2-3.1-.9-.9 3.3-2.5 4.1-1.6 3.9-2.5-.1-.9-1.1-.8-1.1 .1-1.4-1.4-.4-1.5 .5-1.7 .9-.2 .6-1-.3-.8 1-1.1 1.4-.4 1.9 .4 .5 .9 1.3 .4 .8-.4 1-1.2 .3-.9 2.2-2.6 2-1.7 1.6-2.5-.4-.7 0-.8 .4-.1 1.4-1.3 .9-1.2-.3-2.3-1.1-1.1-1.5-1.1-.3 0-.9 .8-.6 .7-.5 1.5 .1 .8-.8 .1-.9-.8-2.5-.8-1.5-.1-4 1-2.5 1.1-3.3 2.1-.9 1-2.1 .2-1.2-.7-2.7 .1-1.4 .9-1.1 2.7 .3 1.8 1.6 1.8 1.3-.1 2.4-1.1 1.1-.9 1.7 .2zM101.1 11.5q2 1.5 3.3 .9 1.2-.5 1.6-1.2 .3-.7-.2-2.2-.5-1.4-2.8-1.6-2.4-.2-3.2 1.2-.8 1.4 1.3 2.9zM97.8 17.1q.6 .6 2.2 .1 1.5-.5 1.8-1.4 .2-1-1.9-2.5-2.1-1.4-2.5 .9-.3 2.4 .4 2.9zM107.6 16.5q-1.7-1.5-2.2-1.3-.5 .3-.7 1.2-.2 .9 1.3 3 1.4 2 2.3 .3 1-1.6-.7-3.2zM96.7 18.9q-.7-.6-1.8-.3-1.1 .2-1.5 2.3-.3 2.1 .8 2.9 1.1 .8 1.7 .4 .6-.3 1.1-2.5 .4-2.2-.3-2.8zM99.2 21.8q-.4 1.7 1.8 2.4 2.3 .7 2.9 0 .7-.7-.8-2.8-1.5-2-2.5-1.7-1.1 .4-1.4 2.1zM93.1 27.9q.3-1.7-.4-2.1-.7-.5-1.5-.4-.7 .1-1 .6-.4 .5-.1 2.1 .2 1.7 1.5 1.6 1.3-.1 1.5-1.8zM105.1 28.8q-.1 1.9 3.8 3.9 3.9 1.9 5.1 .5 1.2-1.4 .4-3.6-.7-2.2-3.2-3.8-2.5-1.6-3.4-1.4-.9 .2-1.8 1.3-.9 1.1-.9 3.1zM96.5 28.5q-.4 2 .8 3.4 1.2 1.5 1.6 1.5 .3 0 1.9-1.3 1.5-1.2 1.5-2.7 0-1.5-2.7-2.2-2.7-.7-3.1 1.3zM94.8 36.3q.9-.9-.1-2.2-1-1.3-3-1.2-2 .2-2.6 .7-.5 .5 .9 2 1.5 1.6 2.8 1.6 1.2-.1 2-.9zM102.5 34q-1.6 1.3 .1 4.5 1.7 3.2 5.7 .8 4.1-2.4 3.9-2.7-.1-.3-4.1-2.1-4-1.8-5.6-.5zM93.7 41.5q-.3-1.8-1.3-1.8-1 .1-1.9 1.7-.8 1.6 .5 2.4 1.4 .7 2.2 .1 .8-.6 .5-2.4zM111.6 44.3q1.8-1.9 1.8-2.5 .1-.5-.5-1.3-.5-.7-4.1 1.5-3.6 2.2-3.2 2.7 .4 .6 2.3 1 1.9 .4 3.7-1.4zM89.5 49.3q2.9 1 5.2 .9 2.2-.1 3.4-2.6 1.2-2.6 2.9-3.3 1.8-.7 0-4.5-1.9-3.7-2.3-3.6-.5 0-1.7 1.4-1.3 1.4-1 3.7 .2 2.2 0 2.7-.1 .4-1.9 1.6-1.7 1.1-3.8 .1-2.2-1.1-3.2 .2-.9 1.2-.7 1.8 .2 .6 3.1 1.6zM115 47.9q-.6-1.2-1.6-.5-.9 .8-.7 1.4 .2 .7 1.5 .5 1.3-.1 .8-1.4zM102.6 53.6q.6-.3 .9-3.4 .3-3.2-.2-3.8-.5-.5-1.5-.2-1 .4-2 2.5-.9 2.1 .6 3.7 1.5 1.6 2.2 1.2zM110.2 50q-.4-1.4-2.4-1.8-2.1-.4-2.2 2.3-.1 2.6 1.9 2.9 2 .2 2.6-.9 .6-1.1 .1-2.5zM98.6 54.3q-1.5-1.6-3.1-1.5-1.6 .1-1.9 .6-.2 .6 1.8 2.8 2.1 2.1 2.9 2.1 .8 0 1.3-1.2 .5-1.2-1-2.8zM117.7 51.1q-5.5 1.6-6.5 3.2-1 1.5-3.8 1.1-2.8-.3-3.7 .4-.9 .6-1.4 2.1-.5 1.4 .8 3 1.2 1.7 4.8-.1 3.6-1.7 3.8-.3 .2 1.4-3 3-3.2 1.6-3.3 3.6 0 2.1 .6 2.8 .7 .7 2.5 .3 1.8-.3 3.9-3 2.1-2.7 4.1-2.2 2.1 .6 3.9 .4 1.8-.2 4.3-3.1 2.5-2.9 4.4-.6 1.9 2.3 2.5 2.1 .7-.2 .3 .7-.3 1-.3 2.2 .1 1.3 .7 3.3 .7 2 3.1 2.8 2.4 .7 4.7-1 2.3-1.7 5-2.7 2.8-1 4.1-2.2 1.3-1.2 .6-1.8-.7-.5-.8-1.5 0-.9-1-2.1-.9-1.2-4.1-.5-3.2 .7-2.3-.5 .8-1.1-.4-3.2-1.2-2.1-3.2-2.4-2-.3-1.5 2.9 .4 3.2-1 3.7-1.4 .5-2-2.8-.5-3.3-1.9-3.2-1.4 .1-3.5-1.3-2.2-1.3-2.8-.8-.5 .5-1.8-.2-1.3-.6-.6-1.7 .7-1.2 .5-1.6-.1-.4-5.7 1.2zM93.8 61.4q1.2-1.1-.5-3.2-1.8-2.1-2.8-1.4-1.1 .6 .1 3.1 1.1 2.5 1.6 2.5 .4 .1 1.6-1zM101.2 62.9q-1.2-1.6-2.5-1.5-1.2 0-2.8 1.5-1.6 1.5-1.3 2.8 .4 1.2 2.2 2.4 1.8 1.3 3.7 .8 1.9-.5 1.9-2.5 0-2-1.2-3.5zM114.8 72.3q1.7 1.2 3.3 .2 1.7-1.1 1.8-1.6 .2-.6-1.3-2.6-1.4-2-3.4 .4-2.1 2.3-.4 3.6zM94.3 72.8q1.1-1.8 .2-2.3-.8-.6-1.8 0-.9 .7-.8 2.2 0 1.6 .7 1.7 .7 .2 1.7-1.6zM115.2 90.7q-4.3 .9-6.5 3.2-2.1 2.3-2.2 4-.1 1.7 1.1 3.2 1.1 1.6 .8 1.9-.4 .4 2 4.1 2.4 3.8 2.3 4.8-.2 .9 .9 3.7 1 2.8 3 3.7 2 .8 5-3.7 3.1-4.5 2.7-5.4-.3-.9-2.8-2.8-2.5-1.8-3.7-3.2-1.2-1.3-1.9-1.4-.8 0 .6-.7 1.3-.6 2.5 .4 1.2 1.1 3.4-2.8 2.3-3.8 1.5-4.4-.9-.6-1.1-1.7-.2-1.1-1.7-2.5-1.6-1.4-5.9-.4zM104.6 105.6q-2 .9-1.8 3.6 .2 2.6 4 2.4 3.8-.1 1.8-3.5-2-3.4-4-2.5zM111 116.5q-.7-2.1-4.5-2-3.9 0-4.8 1.1-.9 1.1 1 4.2 2 3.1 5.5 .9 3.5-2.1 2.8-4.2zM99.5 121.4q-2.2-3.1-4.7-.2-2.4 2.9-1.2 4.5 1.2 1.6 3.8 1.2 2.6-.5 3.5-1.4 .9-1-1.4-4.1zM111 123.2q-3 1.9-2.3 3.2 .7 1.2 3.8 2.1 3.1 .9 3.6-2.6 .5-3.5-.8-4.1-1.2-.5-4.3 1.4zM103.6 136.7q.8 .5 1.1 .3 .4-.2 1-3.8 .7-3.7-.4-5-1.1-1.4-1.9-.6-.8 .9-.7 4.7 0 3.9 .9 4.4zM93.3 137.3q1.4-.3 .4-1.7-1-1.5-2-1.1-1 .4-.4 1.8 .6 1.3 2 1zM115.3 134.9q-1.3 2.3 .1 3.9 1.4 1.5 2.1 1.1 .7-.4 .3-3.9-.4-3.6-.8-3.5-.4 .1-1.7 2.4zM112.4 142.9q2.4-.2 .3-2.9-2.1-2.7-.8-5.2 1.3-2.5-.5-3-1.8-.6-2.6 2.8-.7 3.5-1.3 4.4-.6 .9 1 2.5 1.6 1.7 3.9 1.4zM94.9 142.9q.2-2.7-1.7-2.6-1.9 .2-2.6 1.3-.8 1.1-.7 2.7 .2 1.6 .9 2.2 .7 .7 2.3-.1 1.6-.7 1.8-3.5zM115.4 146.2q-.3-.8-3.3-.7-2.9 .1-4.9-1.7-1.9-1.8-3.6 1.1-1.6 2.9 5 2.9 6.6 0 6.9-.4 .2-.4-.1-1.2zM120 -.2q0 .8 1.1 1.5 1.2 .7 1.8-.6 .5-1.4-1.2-1.6-1.7-.1-1.7 .7zM140.4 4.1q-.8-1.7-1.1-1.7-.4 0-1.5 1.4-1.2 1.3-.1 2.7 1 1.3 1.8 1.2 .7-.1 1.2-1 .5-1-.3-2.6zM134.2 10.2q.7 .4 1.2-.3 .6-.8-.3-1.7-.9-1-1.3 .3-.3 1.4 .4 1.7zM140.5 12.5q.5-.6-.2-1.2-.6-.6-1.1 .2-.6 .8 .2 1.2 .7 .4 1.1-.2zM131.3 16.7q1.8 .5 2.7-1.2 .9-1.8-.8-2.5-1.6-.7-2.9 .1-1.3 .7-1.1 1.9 .2 1.3 2.1 1.7zM147.2 15.6q-.5-1.8-1.8-1.9-1.3-.1-2.7 1-1.4 1.1-1.1 3.9 .3 2.8 3.2 .8 2.8-1.9 2.4-3.8zM138.2 15.7q-1-.5-2 1.2-.9 1.7-.4 2.5 .5 .9 2.1 1 1.5 .2 1.4-2 0-2.3-1.1-2.7zM138.2 27.4q2.4-2.3 2.2-3-.1-.7-2.1-1-2-.2-3.9 2-1.8 2.1-1.4 2.9 .4 .8 1.6 1 1.2 .3 3.6-1.9zM124.4 23.7q1.3 2.4 1.2 3.1-.1 .8-2.1 2.9-1.9 2.2 .7 4.1 2.6 1.9 4.5-.6 1.9-2.5 1.2-4.5-.8-1.9 1.6-4.6 2.4-2.7 2-3.6-.3-.8-2.3-1.3-2-.6-2.6-.1-.5 .5-3 1.3-2.5 .9-1.2 3.3zM147.5 35.4q.5-.4 .7-2.3 .2-1.9-2.6-3.8-2.8-1.9-5.3 .2-2.4 2.2-1.3 4.1 1.1 1.9 4.6 2 3.5 .2 3.9-.2zM131.7 40.8q2.5 .9 4-1.6 1.5-2.5 .5-4.3-1.1-1.8-2.1-2-1.1-.2-3 2.4-1.9 2.7-1.9 3.6 .1 .9 2.5 1.9zM126.3 39.6q-.1-1.1-3.8-3.8-3.6-2.7-4.6-2.7-.9 .1-2.2 1.7-1.4 1.7-.5 3.5 .8 1.8 5.5 2.5 4.8 .8 5.2 .4 .5-.4 .4-1.6zM120.8 47q2.1-.4 2.4-1.6 .3-1.3-3.1-1.7-3.4-.5-2.4 1.6 1 2.1 3.1 1.7zM133.1 48.8q.4-3.1-2.4-4.3-2.8-1.2-3.1-.9-.4 .3-1 2.4-.6 2.1-.3 2.7 .2 .5 2.4 2 2.1 1.4 3.1 1.3 1-.2 1.3-3.2zM136.9 46.8q-.2 .2-.3 2.5-.1 2.3 1.9 2.7 1.9 .4 3.1-.8 1.2-1.1 1.2-2.4 0-1.3-2.8-1.7-2.8-.5-3.1-.3zM123.8 75.1q-.5 1.5-.2 5.6 .3 4.1 1.5 4.3 1.2 .2 1.8 .9 .6 .6 .9 .1 .4-.6 1-.4 .6 .3 1.2 2.3 .7 2.1 3.8 2.4 3 .3 3.2-.3 .1-.6-1.3-3.2-1.4-2.6 .2-5.3 1.7-2.8 1.3-4.1-.3-1.4-2.4-2-2.1-.6-3 .5-.9 1.2-.7-1.3 .2-2.5-.6-3.9-.7-1.5-1.8-2.2-1.2-.8-2.2 .7-1 1.5-2.3 1.9-1.3 .4-.6 1.4 .7 1.1 .2 2.6zM144 74.2q-1.1-.8-2.4 .4-1.4 1.1-1.1 2.1 .2 1 1.8 1.7 1.6 .7 2.2-1.3 .6-2.1-.5-2.9zM138.9 82.6q-1.1 1.5-.1 3 .9 1.5 2.6 .6 1.7-.9 1.8-2.2 .1-1.3-1.6-2.1-1.7-.8-2.7 .7zM122.9 87.6q-.3 .2-.1 2.4 .2 2.2 1.7 3.1 1.4 .9 2.5-.5 1.2-1.4 .9-2.9-.3-1.5-2.5-1.9-2.2-.5-2.5-.2zM146.5 93.1q1.4-1.4 .9-3-.5-1.6-1.6-2.2-1.1-.6-3.7 .7-2.7 1.3-3 2.5-.3 1.2 2.8 2.3 3.2 1.1 4.6-.3zM133.5 95.8q2.1-1.5-.6-1.9-2.7-.5-3.4 .6-.8 1 .6 1.9 1.3 .9 3.4-.6zM139.7 98.4q.9 2.8 3 2.4 2.1-.5 2.4-.9 .2-.4-.3-1.9-.5-1.6-3.1-2.4-2.5-.8-2.7-.4-.2 .3 .7 3.2zM133.2 101.4q.1 1.2 2.2 1.8 2.2 .7 2.5 0 .3-.7-.4-2.9-.7-2.2-2.6-1.1-1.9 1.1-1.7 2.2zM139.9 110.1q-.1 .8 .9 3.4 1.1 2.5 3.9 1.9 2.9-.7 2.5-3.6-.5-2.9-.1-3.8 .3-.8-.8-3.1-1-2.3-3.5-1.7-2.4 .6-3 1.8-.6 1.3-.2 2.8 .4 1.6 .3 2.3zM134.6 113.2q-3.4 1.2-2.4 4.2 1 2.9 1.6 3 .6 .1 3.5-1.6 2.9-1.7 1.8-4.3-1.1-2.6-4.5-1.3zM138.6 121.3q-1.6 1-.8 2.3 .9 1.3 1.7 1.3 .8 0 1.5-.9 .6-.9-.1-2.3-.8-1.3-2.3-.4zM121.4 130.9q1.9 .1 3.7-1.5 1.9-1.7 1.8-2.7 0-1-3.5-2.5-3.5-1.5-4.1 2.3-.5 3.7-.1 4 .4 .3 2.2 .4zM129.4 130.8q-1.1-.8-2.4 .5-1.3 1.3-.3 2.8 1 1.4 2.1 1.2 1.2-.2 1.4-2 .3-1.7-.8-2.5zM144.9 134.8q.4-1.1-.5-1.5-.9-.4-2 .8-1.1 1.3 .5 1.6 1.6 .2 2-.9zM133.3 137.2q1.1 1.2 2.8 .8 1.7-.5 2-1.7 .3-1.3-1.7-3.2-1.9-2-2.8-1.8-.9 .2-1.2 2.4-.3 2.3 .9 3.5zM145.2 144.2q2.2-1.7 1.2-3.5-1-1.7-4-2-2.9-.3-1.1 3.5 1.8 3.7 3.9 2zM138.9 145.9q.8-.1 1-.4 .1-.3-1.2-2.8-1.3-2.5-2.3-2.3-1.1 .2-1.5 1.5-.4 1.3 1.4 2.7 1.7 1.4 2.6 1.3zM124.1 146.3q1-1.6 .2-3-.7-1.4-2.5-1.8-1.8-.4-3.1 .4-1.3 .8-1.7 1.6-.3 .8 0 1.8 .4 1.1 1.8 1.8 1.5 .7 2.9 .7 1.5 0 2.4-1.5zM134 147q-1-.9-1.4-.8-.3 .1-.2 .9 .2 .7 1.4 .7 1.3 0 .2-.8zM129.1 147.2q-.1-.6-1.1-.8-1.1-.3-1.6 .6-.6 .8 1.1 .8 1.7 0 1.6-.6zM157.5 -.6q-.2 .4 .1 .8 .3 .5 1.2-.4 .9-.8-.2-.8-1 0-1.1 .4zM150 -1q-1.6 .1-1.1 1.3 .5 1.3 3.2 1.5 2.7 .2 2.4-.5-.2-.6-1.6-1.5-1.4-.8-2.9-.8zM157.4 9.7q.9 .7 2.9-.3 2-.9 2.5-2.1 .5-1.3 1-1.6 .5-.2 .5-2.7 0-2.6-.2-2.7-.2-.2-2.4 1.7-2.2 1.9-3.4 2.3-1.1 .4-1.4 2.6-.3 2.2 .5 2.8zM146.8 9q-.6-1.7-2-1.9-1.4-.2-1.9 .5-.4 .7 .6 2.2 1.1 1.6 2.2 1.6 1.2 .1 1.4-.2 .3-.4-.3-2.2zM161.1 12.2q-2.4 1.2-2.3 4 .1 2.9 1.9 2.7 1.7-.3 2.6-1.2 1-.9 1-3.3 0-2.3-.4-2.8-.4-.5-2.8 .6zM163.5 20.9q-.7-.6-3.1-.2-2.4 .4-2.9 1.1-.6 .7-.6 2 0 1.2 .8 1.8 .8 .6 3.7 1 2.9 .3 2.9-2.4 0-2.7-.8-3.3zM162.4 29.5q-1.2 0-.6 1.7 .7 1.7 1.4 1.6 .7-.1 .9-.9 .2-.8-.2-1.6-.4-.8-1.5-.8zM162.6 39.4q1.7 1.3 1.7-1.2 0-2.5-1.2-2.3-1.1 .2-1.7 1.2-.6 1.1 1.2 2.3zM152.8 38.5q-3.4-1.3-3.7 1.6-.3 3 1.2 4 1.5 .9 3.4 .7 1.8-.2 2.2-2.6 .4-2.4-3.1-3.7zM161.8 41.4q-2.5-1.8-2.8-1.6-.3 .1-.7 2.9-.5 2.8-.1 3.2 .3 .4 2.1 1 1.8 .5 2.9-.2 1.1-.6 1.1-2.1 0-1.5-2.5-3.2zM148.5 46.5q-1.2-.7-1.8-.1-.6 .5-.7 1.9 0 1.5 1.7 2.4 1.7 .9 1.9-1.3 .1-2.2-1.1-2.9zM153 49.4q0 1.2 .6 1.2 .6 .1 1.2-1.3 .5-1.3-.6-1.2-1.1 0-1.2 1.3zM164.1 49.6q-.2 .2 0 2.4 .2 2.1 .2-.3 0-2.3-.2-2.1zM157.5 50.9q-1 2.1-1.5 2.4-.5 .4-2.6 .5-2 .1-3.1 2.7-1.1 2.7-.3 3.6 .7 .9 3.8 .1 3.1-.7 3.5-.3 .3 .4 .7 1.9 .3 1.4 1.8 2.3 1.5 .9 2.4 .3 1-.6-.2-3.9-1.3-3.3-1-4.1 .2-.8 0-3.9-.1-3-1.3-3.4-1.2-.4-2.2 1.8zM155.7 63q0-.5-2.1-.1-2.1 .4-2.1 1.6 0 1.2 .7 1.5 .8 .3 2.2-1.1 1.4-1.4 1.3-1.9zM159.2 68q.4-.8-.8-1.7-1.2-.9-2.2 .2-1 1.2 .8 1.7 1.9 .5 2.2-.2zM151.3 71.1q.4-2.2-.5-2.7-.9-.5-3.4 .8-2.6 1.3-1.2 2.6 1.3 1.3 3 1.4 1.7 .1 2.1-2.1zM158.5 71.2q-.1-.3-2.3-.7-2.2-.4-2.5 1.7-.4 2.1 1 2.1 1.4 0 2.7-1.4 1.2-1.4 1.1-1.7zM161.3 69.1q-.3 1.9-1.9 4.2-1.6 2.2 .4 4.1 1.9 1.9 3.2 1.1 1.3-.9 1.3-6.8 0-6-1.3-5.2-1.4 .8-1.7 2.6zM159.4 80.8q.5-.8-1.3-2.7-1.9-1.9-3.1-1.8-1.3 .2-1.4 2.6-.2 2.5 2.6 2.5 2.7 .1 3.2-.6zM147 78.7q-.8 3-1 4.9-.2 1.9 .5 2.4 .8 .6 2.9-.5 2-1 2.2-5.4 .2-4.3-1.7-4.4-2 0-2.9 3zM163.6 82.3q-.7-1.2-1.4-1.1-.7 0-1.4 .7-.7 .8-.6 3 .1 2.2 2.1 2.8 2 .7 2-1.8 0-2.5-.7-3.6zM157.5 85.7q0-1.3-1.6-1.4-1.6 0-.4 1.6 1.1 1.6 1.6 1.4 .4-.2 .4-1.6zM150.8 88q-1.4 .7-1 1.8 .3 1.1 2.3 1.5 2 .4 2.2-.3 .2-.7-1-2.2-1.2-1.5-2.5-.8zM163.4 92.8q.1-2.3-1.9-2.8-2.1-.5-3.2 .2-1.1 .7-1.8 2.8-.8 2.2 3 2.1 3.7-.1 3.9-2.3zM152 94.4q-3-.8-4.1 .3-1.2 1.1-.8 2.4 .4 1.2 3.7 1 3.3-.2 3.7-1.6 .5-1.3-2.5-2.1zM160.7 97.8q-3.6 .1-4 .8-.4 .7 .3 3.8 .7 3.1 2.9 3.4 2.3 .4 3.4-2.8 1-3.2 1-4.2 0-1-3.6-1zM149.5 111.7q.4 2.9 .8 3.1 .3 .1 2.2-.8 1.8-1 2.7-3.7 .9-2.7-2.6-2.1-3.4 .6-3.1 3.5zM152.5 118.6q.3 1.2 2.4 1.2 2.1 0 2.3-.5 .3-.5-1-1.9-1.3-1.4-2.6-.7-1.3 .7-1.1 1.9zM149.4 122.2q.6-.8 .3-2.9-.3-2-.6-2.3-.3-.3-3.4 .5-3.1 .8-2.1 2.8 .9 1.9 3.1 2.3 2.1 .3 2.7-.4zM162.5 118.1q-1.7 1.1-2 2-.2 .9 .1 1.4 .3 .6 2 .9 1.7 .4 1.7-2.5 0-2.9-1.8-1.8zM157.1 125.4q1-1.6 .7-2-.2-.4-2.8-.3-2.6 0-3.4 1.1-.7 1.2 1.9 2 2.7 .7 3.6-.8zM148.3 128q1-1.9-1.4-2.4-2.4-.5-3.1 .4-.7 1-.3 2.1 .4 1.1 2.1 1.5 1.7 .4 2.7-1.6zM162.3 125.6q-1.7-.2-2.6 1.5-.9 1.7-.7 2.3 .2 .5 2.3 .5 2.2-.1 2.5-2.1 .2-1.9-1.5-2.2zM151 130q-.7 1 1.4 2.6 2.1 1.5 2.9 1.3 .8-.3 1.1-1.1 .3-.9 0-1.8-.3-.8-2.6-1.4-2.2-.6-2.8 .4zM148.2 139.8q1.3 1.8 1.7 1.7 .5-.1 1.8-2.7 1.2-2.6-.9-4.1-2.2-1.5-3 .8-.8 2.4 .4 4.3zM163.4 139.6q-1 .6-1.2 2-.3 1.3 .9 2.1 1.2 .8 1.2-2 0-2.7-.9-2.1zM154.5 147.5q0-.3-2-1.9-2-1.6-2.6-1.7-.5 0-2.7 1.9-2.1 2 2.6 2 4.7 0 4.7-.3zM162.8 145.6q-1.6-.9-3.7 .2-2 1.1-2.1 1.5-.2 .5 3.6 .5 3.7 0 3.7-.6 0-.6-1.5-1.6z" fill="#fff2fb" stroke="#6a2288" stroke-width="0.5" stroke-opacity="0.45"/></g></svg>
<svg id="he_m28" x="232.3" y="614.8" width="162" height="146.9" viewBox="0 0 162 146.9" overflow="hidden"><g filter="url(#soft)"><rect width="162" height="146.9" fill="#9845a8"/><rect width="162" height="146.9" filter="url(#heB)" opacity="0.65"/><rect width="162" height="146.9" filter="url(#heP)" opacity="0.4"/><ellipse cx="22.3" cy="98.7" rx="28.6" ry="43.9" fill="#82309a" opacity="0.55" filter="url(#bl5)"/><rect width="162" height="146.9" filter="url(#heD)"/><rect width="162" height="146.9" filter="url(#heL)" opacity="0.85"/><rect width="162" height="146.9" filter="url(#heW)" opacity="0.65"/><path d="M10.2 3.7q.4 .8 1.2 .4 .7-.4 .7-1.1 0-.8-.7-.9-.8 0-1.2 .3-.4 .4 0 1.3zM33 8.4q.9-.6 .9-1.4 0-.9-.7-1.6-.7-.8-1.8-.5-1.1 .2-.3 2.2 .9 1.9 1.9 1.3zM13.7 9.2q-.3 1.4 1.2 2.5 1.6 1.1 3.4 1.4 1.9 .3 3.7 0 1.8-.2 3.8-1.1 2.1-.9 2.4-2.7 .4-1.8-1-3-1.5-1.1-2.4-2.6-1-1.4-3-1.5-1.9-.2-4.3-.8-2.3-.6-3 1.1-.7 1.8-.6 3.6 .1 1.7-.2 3.1zM12.1 11.6q.1-1.1-1.1-1.6-1.1-.5-1.6 .8-.5 1.3-.2 1.8 .3 .5 1.5 .3 1.3-.2 1.4-1.3zM40.6 14.1q.5 .9 1.2 .8 .6-.1 .5-1.6-.2-1.5-1.2-.8-1 .6-.5 1.6zM49.9 14.9q.5-.4 .3-.1-.2 .4 .5 .9 .6 .6 2 1.2 1.5 .6 2.5 .6 1 .1 1.5-.4 .6-.5 .8-1.1 .2-.7-.8-1.8-1-1-2.7-1.2-1.8-.3-2.4 .2-.7 .4-1.5 .3-.9-.2-1.2 .5-.3 .6 .1 .9 .4 .3 .9 0zM16.4 17.8q.8 .5 1.3-.3 .5-.7 .2-1.5-.3-.7-1.3-.6-1.1 .2-1.1 1.1 0 .9 .9 1.3zM35.6 19.2q.1 .9 .9 .9 .8 0 .9-.7 .1-.7-.9-.9-1-.2-.9 .7zM26.7 23.8q.3 2.4 2.7 3.3 2.4 .9 3.1 0 .8-.9 .5-3-.3-2-1.1-2.3-.8-.3-1.4-1.2-.6-.8-2.3 0-1.7 .8-1.5 3.2zM18.4 19.5q-1.5-.3-3.1-.1-1.6 .3-2.6 1.4-1 1.2-1.5 3.4-.5 2.3 .4 3.2 .8 .9 .8 1.6 .1 .8 3.7-.1 3.6-1 5.6-2.9 1.9-1.9 1.3-3.3-.5-1.4-1.8-2.1-1.3-.8-2.8-1.1zM6.9 25.4q1.5-.8 1.3-1.5-.3-.6-1.9-.3-1.6 .4-1.7 .7-.2 .4 .3 1.1 .4 .8 2 0zM40.2 26.9q.3 .3 .9 .3 .7 0 1.5-.7 .9-.7 .4-1.7-.6-1-1.5-.9-.8 .1-1.2 1.4-.4 1.3-.1 1.6zM50.5 26.8q-1.5-.3-2.6 1.2-1.1 1.5-.1 2.6 .9 1.1 2 1.1 1 .1 1.7-1 .7-1.1 .6-2.4-.1-1.3-1.6-1.5zM35.4 30.2q.4 1.6 1.3 1.5 .9-.1 1.3-1.5 .4-1.3 .2-1.7-.3-.3-1.7-.2-1.5 .2-1.1 1.9zM19.6 31.8q1.4-.2 1.3-1.5-.1-1.3-1.7-1.1-1.7 .2-1.3 1.4 .4 1.3 1.7 1.2zM16.1 31.9q-.3-.8-1.4-.5-1 .4-.8 1.2 .2 .9 .9 1.2 .7 .4 1.1-.3 .5-.7 .2-1.6zM39.1 35.6q-1.4-.1-2.6 .2-1.2 .3-2.1 1-1 .7-.9 2.5 0 1.8 2.1 3.5 2 1.7 3.8 1.2 1.7-.6 2.3-1.5 .6-1 .6-2 .1-1-.6-2-.7-.9-1-1.9-.3-.9-1.6-1zM16.5 44.3q-.6 1.5 .1 2 .6 .4 2.4 .5 1.8 0 2.6-1 .7-1-.1-1.9-.9-.9-2.6-1-1.8-.1-2.4 1.4zM50.4 45.6q-.9-.9-1.5-.4-.5 .5-.5 1.5 0 1 .4 1.3 .4 .2 1.4-.7 1-.9 .2-1.7zM46.7 85.3q.4-1.1 .2-1.4-.1-.3-1.4-.3-1.3 0-1.6 1.2-.3 1.1 1 1.4 1.4 .2 1.8-.9zM41.1 147.9q3.7 0 6.1-1.6 2.4-1.5-.7-3.3-3-1.9-6.6-1.6-3.6 .2-7 1.8-3.4 1.6-1.6 2.7 1.7 1.1 3.9 1.6 2.2 .4 5.9 .4zM63.3 .8q1.3 .7 1.7 .2 .4-.5 .3-1.3 0-.7-1.8-.7-1.8 0-1.7 .5 .2 .6 1.5 1.3zM79.2 7q1.7 1 1.7-.9 .1-2-.6-2.6-.7-.6-1.7-.2-.9 .4-1 1.5-.1 1.1 1.6 2.2zM62.6 12.9q.6-.7-.1-2.4-.8-1.7-2.1-.8-1.4 .9-1.5 1.3-.2 .4 .7 1.8 .9 1.4 1.7 1.2 .8-.3 1.3-1.1zM73.1 12.6q.9 .3 .5-.9-.4-1.2-.6-1.2-.2-.1-.5 .9-.3 .9 .6 1.2zM88.3 14.4q-1-.7-3-.5-2 .2-2.2 .7-.3 .6 .6 1.3 .9 .8 1.6 .8 .6 .1 2.3-.7 1.7-.8 .7-1.6zM59.3 18.1q-.2 1.4 1 1.6 1.1 .2 .3-1.4-.7-1.7-.9-1.6-.2 .1-.4 1.4zM54.3 30.4q.8 .7 1.2 .6 .3-.1 .5-1 .1-.8-.9-1.6-.9-.8-1.3 .3-.3 1.1 .5 1.7zM59.9 36.6q-2.6-.7-3.9-.5-1.4 .2-2.6 .8-1.2 .6-1.6 1.5-.4 .9 .1 1.8 .5 .9 1.8 1.4 1.4 .6 5.3 .2 4-.3 3.6-1.2-.3-1-.2-2.1 .1-1.1-2.5-1.9zM81.1 43.3q-.4-.5-1.6 .5-1.3 1.1-2.5 .9-1.2-.2-1.6 .1-.4 .4-.5 1.2-.2 .9 1.7 1.2 1.9 .3 2.7 .1 .9-.2 1.5-1.9 .7-1.7 .3-2.1zM92.6 50.5q-.5-.4-2.9 .1-2.5 .4-2.8 1.2-.4 .8 .1 1.5 .5 .7 1.9 1.3 1.5 .7 2.7 0 1.2-.6 1.3-.1 .1 .6 1.1 2.1 1 1.5 4.6 .6 3.5-1 4.9-3.5 1.4-2.6 1.2-4-.1-1.5-1-2.6-.8-1.1-2.6-1.5-1.8-.4-3.7-.2-1.8 .3-3 2.9-1.2 2.6-1.8 2.2zM58.4 54q-1.2 1.2-.9 1.6 .2 .5 1.2 .7 .9 .2 1.7-.4 .7-.5 0-1.8-.7-1.3-2-.1zM78 68.6q.1 .7 1.6 .4 1.6-.3 1.4-1.2-.1-.9-.6-1-.5-.2-1.5 .4-1.1 .6-.9 1.4zM89.2 68q-.3 .7-.1 1.2 .2 .4 1.1 .8 1 .3 1.7-.2 .6-.5 .8-1.2 .1-.8-1.6-1-1.7-.3-1.9 .4zM75.7 74.3q-.7 1.1 0 1.7 .6 .5 1.4-.5 .8-.9 0-1.6-.7-.8-1.4 .4zM60.7 75.6q-1.1-.9-1.8-.7-.7 .3-1.2 .9-.5 .6-.1 1.8 .4 1.1 1.2 2 .8 .8 2.2 .3 1.3-.6 1-1.9-.3-1.4-1.3-2.4zM92.9 78.1q.7-1.1 .1-1.4-.6-.3-1.3 .3-.7 .6-.6 1.5 .2 .8 .6 .8 .5 0 1.2-1.2zM82.2 80.6q-.7 1 .3 1.6 1 .6 1.4 0 .5-.6-.2-1.6-.8-.9-1.5 0zM70.7 100.6q-1.8-.8-4.4 .7-2.6 1.5-3.1 2.3-.5 .8 .2 1.6 .7 .7 1.6 .8 .9 .1 3.7-1.3 2.9-1.3 3.3-2.3 .5-1-1.3-1.8zM95.7 121.2q2.4-1.4 2.7-13.6 .3-12.2-2.4-17.4-2.8-5.3-4.7-4.2-1.9 1.2-5.1 9.8-3.1 8.6-3.4 15.1-.3 6.5 1.6 9.6 1.8 3 3.8 1.7 2-1.2 3.5-.4 1.6 .8 4-.6zM80.9 115q.3-.7-.3-1.2-.6-.4-1.1 .3-.6 .7 .2 1.2 .8 .5 1.2-.3zM56.5 130.9q-2.4 6.2-2.2 7.9 .1 1.6 1.1 2.7 1.1 1.1 3.1-.9 2-1.9 3.7-4.2 1.7-2.2 3.3-7.3 1.6-5 .9-6.7-.8-1.6-2.1-2.3-1.3-.6-3.4 1.9-2.1 2.6-4.4 8.9zM68.4 146.6q.2 1.3 1.6 .8 1.5-.5 1.1-1.4-.4-.9-1.6-.8-1.2 .1-1.1 1.4zM111 12.7q1.7-1.3 1-2.2-.7-1-1.7-.2-1.1 .9-1 2.3 .1 1.4 1.7 .1zM108.7 19.5q-1.2 1.6-.5 2.2 .7 .6 1.9-.2 1.1-.7 .9-2.1-.3-1.3-.8-1.4-.4-.2-1.5 1.5zM120.1 20.1q0-.4-1.3-.4-1.2 0-1.9 1.2-.8 1.2-.3 2.1 .6 .8 2-.8 1.5-1.7 1.5-2.1zM108.8 26.6q-1-.5-1.5-.3-.5 .2-.9 1.1-.3 .9 .1 1.9 .4 .9 .9 1 .6 .1 1.2 0 .5-.2 1.1-1.1 .5-.9 .3-1.4-.2-.6-1.2-1.2zM129 28.3q-.5 1.1 .1 1.5 .6 .4 1.2 .1 .6-.3-.1-1.5-.7-1.2-1.2-.1zM97.5 30.5q-.2 1 .7 1.9 .9 .8 1.4 .7 .5-.1 .6-2.1 0-2-1.2-1.7-1.3 .2-1.5 1.2zM111.6 33.6q-.2 .5 .5 1.1 .7 .6 1.3 .5 .6-.2 .7-.8 .2-.6-1-.9-1.2-.3-1.5 .1zM118.1 45q1.3-1.3 .6-2.5-.7-1.1-1.9-.9-1.2 .2-1.6 1.2-.4 1.1-.3 1.6 .1 .5 .9 1.1 .9 .7 2.3-.5zM109.6 64.6q.6-.7-.3-1.5-.8-.7-2 .3-1.2 1.1 .3 1.4 1.5 .4 2-.2zM122.4 64.6q-.1-.5-.9-1-.8-.5-1.9 .8-1 1.2 .5 1.8 1.6 .5 2-.3 .4-.8 .3-1.3zM107.9 68.5q.5-.5-.1-.7-.6-.2-.8 .4-.1 .7 .1 .8 .3 0 .8-.5zM121 78.3q.6 2 1.2 1.3 .6-.6 .2-1.8-.4-1.3-1.2-1.4-.8 0-.2 1.9zM103.9 86.3q1.1 .9 2 .3 .8-.6 .9-1.6 0-1.1-1.1-1.8-1.1-.7-1.8-.1-.7 .6-.9 1.4-.2 .8 .9 1.8zM111.8 85q0-.9-1.5-.9-1.5 0-1.6 .9 0 1 .9 1.7 .9 .7 1.6-.1 .7-.7 .6-1.6zM108.9 88.7q-1-1.2-1.6-.9-.5 .2-1 1.1-.5 1 .4 2.2 1 1.2 .7 1.4-.3 .1-.2 1.1 .2 1.1 .6 1.6 .5 .5 1.8-.2 1.3-.8 1.4-1.4 .1-.6-.5-1.3-.5-.8-1.1-.6-.6 .2-.1-.2 .4-.5 .5-1.1 .1-.6-.9-1.7zM115.2 92.4q-1.8 .8-1.9 1.4-.1 .7 .6 1.2 .7 .5 2 .3 1.3-.3 1.2-2-.1-1.6-1.9-.9zM124.9 91.7q-1.7-.7-3.1 .1-1.3 .9-1.4 1.7 0 .8 .6 2.4 .6 1.6 1.5 1.5 .9 0 2.1-.9 1.1-.9 1.6-2.5 .5-1.6-1.3-2.3zM113.1 98.3q.1-1-.5-1.4-.6-.4-1.4 .1-.8 .5-.2 1.6 .6 1.1 1.3 .9 .8-.2 .8-1.2zM103.3 111.2q.5 .6 .9 .7 .5 0 1.2-.8 .6-.8-.3-1.9-.9-1-1.6 .1-.7 1.2-.2 1.9zM99.5 112.9q-.4 1-.2 1.3 .2 .3 1.1 .3 .8 0 1.2-.7 .5-.7 0-1.4-.5-.7-1.1-.6-.6 0-1 1.1zM99.8 117.5q-.3 .5 0 .9 .3 .4 1.2 .5 1 .1 .5-.9-.5-1.1-1-1.1-.5 0-.7 .6zM107.4 121.9q1-1-.6-1.8-1.6-.7-2.3 0-.8 .6 .6 1.7 1.4 1.2 2.3 .1zM102.8 125.5q1 .5 1.7-.4 .6-.9-.3-1.7-1-.7-1.7 .5-.8 1.2 .3 1.6zM152.1 .9q.1 1.4 .9 1.6 .8 .2 1.9-.8 1-1 .6-1.6-.4-.5-1.9-.6-1.5-.1-1.5 1.4zM151.2 30.9q-1.3-1.9-4.1-2.7-2.7-.7-3.8 .4-1.2 1-.8 3.9 .4 2.9 2.8 3.8 2.4 .9 5.2 .3 2.7-.5 2.4-2.1-.3-1.6-1.7-3.6zM135.2 32.5q-.3-1.3-1.9-1.2-1.5 .2-1.9 1.3-.3 1.1 .7 2.8 1.1 1.7 1.9 1.4 .8-.2 1.2-1.6 .3-1.4 0-2.7zM143.1 40.7q-.2-1.4-.5-1.4-.2-.1-1.4 .8-1.1 .9-.8 1.8 .4 1 1.6 .6 1.3-.4 1.1-1.8zM133 67q1.1 2.4 1.2 4.7 .1 2.3 3.1 3.8 3 1.4 5.2-3.5 2.3-4.9 1.1-9.2-1.2-4.3-2.3-5.7-1-1.4-2.7-2.7-1.6-1.2-4.2 4.4-2.6 5.7-1.4 8.2zM157.3 69.9q.6 2.2 1.1 2.7 .4 .5 1.1 .6 .6 0 1.1-2.6 .6-2.7 0-4.8-.6-2.2-1.8-2.9-1.2-.6-1.7 2.1-.5 2.8 .2 4.9zM132.6 72.8q-.6 0-1.1 .7-.6 .8 .5 1.6 1.1 .8 1.6 .3 .5-.4 .1-1.5-.5-1.1-1.1-1.1zM133.6 80.8q.6 1 1.6 .1 1-1 .2-2.1-.7-1-1.5-.1-.8 1-.3 2.1zM142 81.2q-.2-1.7-1-1.2-.7 .6-.3 1.5 .4 .9 .9 1.1 .6 .2 .4-1.4zM145.5 87.6q.8 1.6 2.2 .7 1.3-1 1.3-1.4 .1-.4-2.1-.7-2.2-.2-1.4 1.4zM136.7 115q1.3-2.7 1.4-7.9 0-5.2-1.7-6.7-1.8-1.5-4-2.5-2.2-1-5-.8-2.8 .2-3.9 2.7-1.1 2.6-1.3 5-.1 2.3 .8 4.6 .9 2.3 1.2 5.4 .2 3.1 3 3.3 2.8 .2 5.5-.1 2.6-.3 4-3zM145.1 108.4q.6 1 .9 .8 .3-.2 .3-1.1 0-.8-.9-.8-.8 0-.3 1.1zM142.2 116.6q-.6-1.2-2-.3-1.3 1-1.3 1.5 .1 .4 .5 .6 .5 .2 2-.1 1.5-.4 .8-1.7zM162.5 120.7q.4-1.2-1.1-1.6-1.5-.4-1.9 .1-.4 .4 .1 1.5 .4 1.1 1.5 1.1 1 .1 1.4-1.1zM157.5 131.4q1.1 .1 1.8-1 .7-1.2-.6-1.9-1.4-.6-1.9-.1-.6 .6-.5 1.7 .1 1.1 1.2 1.3zM143.4 132.7q-.4 1.2-.2 1.9 .2 .7-.4 1.8-.6 1-.3 1.2 .3 .3 1.3-.4 1.1-.8 2-.8 1 0 1.3-.6 .3-.6 .1-1.8-.2-1.1-1.1-2.1-.8-1.1-1.5-.7-.7 .4-1.2 1.5zM134.8 136.3q.6-1.8-.8-1.6-1.4 .2-1.7 1.7-.2 1.6 .8 1.6 1.1 0 1.7-1.7zM136.8 139.1q.4 .4 1.5-.4 1.1-.9 .1-1.6-1.1-.6-1.6 .5-.5 1.1 0 1.5zM160.4 138.8q-.1-1-1.6-.7-1.6 .4-1.5 1.1 .2 .6 1.7 .6 1.5 0 1.4-1zM145.9 142.8q.9 .2 1.4-.5 .5-.7-.2-2.2-.7-1.5-1.9-.8-1.2 .7-.7 2 .4 1.3 1.4 1.5zM133.6 144.4q.3 .1 1.3-1.4 .9-1.6 .3-2.1-.6-.6-1.5-.6-.9 0-.6 2 .2 2.1 .5 2.1z" fill="#fff2fb" stroke="#6a2288" stroke-width="0.5" stroke-opacity="0.4"/></g></svg>
<svg id="ma_s14" x="446" y="445.2" width="161.8" height="147.6" viewBox="0 0 161.8 147.6" overflow="hidden"><g filter="url(#soft)"><rect width="161.8" height="147.6" fill="#7c2260"/><rect width="161.8" height="147.6" filter="url(#maR)" opacity="0.6"/><ellipse cx="66.5" cy="11.9" rx="10.1" ry="10.5" fill="none" stroke="#4a3aa0" stroke-width="4.8" opacity="0.8" filter="url(#bl2)"/><ellipse cx="66.5" cy="11.9" rx="7.5" ry="8.3" fill="#8a1f6a" opacity="0.9" filter="url(#bl1)"/><path d="M66.5 67.3Q69.8 78.3 71.4 82.7L73.1 87.1" fill="none" stroke="#5a3aa4" stroke-width="5.7" stroke-linecap="round" stroke-linejoin="round" opacity="0.7" filter="url(#bl2)"/><path d="M123.6 60.7L136.8 65.1L147.8 73.9L155.5 81.6" fill="none" stroke="#c8202c" stroke-width="2.6" stroke-linecap="round" stroke-linejoin="round" opacity="0.85" filter="url(#bl1)"/><ellipse cx="68.7" cy="71.7" rx="2.6" ry="4.8" fill="#c8202c" opacity="0.8" filter="url(#bl1)"/><ellipse cx="45.6" cy="8" rx="8.8" ry="6.6" fill="#b8305a" opacity="0.5" filter="url(#bl2)"/><rect width="161.8" height="147.6" filter="url(#maD)"/><rect width="161.8" height="147.6" filter="url(#maL)" opacity="0.8"/><path d="M3.3 2.2q-.7-1.3-2.5-.7-1.8 .6-1.8 1.4 0 .8 1.3 2.4 1.3 1.7 2.5 0 1.2-1.7 .5-3.1zM10.5 1.2q-1.1-.1-3.5 2.9-2.5 3-2 3.8 .5 .9 2.4 1.7 1.8 .9 4.3-.4 2.4-1.2 1.9-3.6-.5-2.3-1.3-3.3-.7-1-1.8-1.1zM-1 13q0 1.7 1.4 1.2 1.4-.6 2.7-.2 1.3 .4 4.1-1 2.9-1.3-1-2.1-3.8-.8-5.5-.2-1.7 .6-1.7 2.3zM17.5 15.1q2.9 .5 3.5-1.2 .6-1.6-1.5-2.9-2.1-1.3-4 .1-1.9 1.3-1.4 2.4 .6 1.1 3.4 1.6zM7.4 18.7q.5 .3 1.3 2.1 .7 1.9-.8 1.6-1.6-.4-3 1.1-1.4 1.5-2.6 1.7-1.3 .1-2.3 .9-1 .8-1 1.6 0 .9 .5 1.5 .4 .5 2.8-.8 2.5-1.4 4.2-1.3 1.7 .2 2.9-.6 1.1-.9 .9-2.1-.2-1.1 1.5-1.2 1.8-.1 2.4-1.1 .6-1 .7-2.1 0-1.1-.8-2.9-.8-1.7-1.6-2.2-.7-.5-1.9-.3-1.1 .1-2.7 1.2-1.6 1.1-1.3 1.9 .2 .8 .8 1zM3 18.3q-.6-1.4-1.1-1.1-.5 .3-.9 1.5-.3 1.3 .1 2.1 .5 .8 1.5-.2 1.1-.9 .4-2.3zM11.8 29.2q-1.1 .8-1.1 2.3 .1 1.5 1.4 2.7 1.3 1.1 3.3 .2 2-.9 1.1-3.1-.9-2.2-2.2-2.6-1.3-.3-2.5 .5zM6.2 31q-.4-.2-1.9 .9-1.6 1-1 2.5 .7 1.4 2.1 .2 1.5-1.3 1.4-2.3-.1-1-.6-1.3zM-.1 38.2q.9-.8 .3-2.5-.5-1.7-.8-1.8-.4-.1-.4 2.5 0 2.5 .9 1.8zM10.2 37.5q-1.4-1-2.4 .2-1 1.1 0 3.3 .9 2.1 1.7 2.3 .8 .2 1.5-2.4 .6-2.5-.8-3.4zM1 39.8q-1.4 1.3-.6 3.7 .7 2.4 3.2 1.5 2.5-1 1.4-3.6-1.2-2.5-1.9-2.7-.8-.1-2.1 1.1zM17.1 42.3q-2.6 .4-3.8 2.3-1.1 1.9-1.1 4.8 .1 3 2.6 3.6 2.6 .5 4.5-1 1.9-1.6 1.8-4.3-.2-2.8-.8-4.3-.6-1.4-3.2-1.1zM8.2 54.1q1.3-1.2 1.2-4.3-.1-3.1-.8-3.5-.8-.4-4 .8-3.3 1.3-4 2.3-.7 1.1 .6 3.1 1.3 1.9 3.5 2.4 2.2 .5 3.5-.8zM-1 55.5q0 1.7 .5 .9 .6-.8 0-1.7-.5-.9-.5 .8zM18.2 59.9q.7-1.2 .2-2.5-.6-1.3-3.9-2-3.2-.7-4.6 .5-1.4 1.1 .7 3.2 2 2.2 4.4 2 2.4-.1 3.2-1.2zM15.3 64.8q.5-.9-.5-.9-1.1 .1-1.2 .7-.1 .7 .5 .9 .7 .3 1.2-.7zM-.5 68.6q.5-.9 0-1.2-.5-.3-.5 .9 0 1.2 .5 .3zM-1 75.3q0 1.6 .6 .8 .6-.8 0-1.6-.6-.8-.6 .8zM11 83.9q1.2 .4 2.5-2.3 1.3-2.7 .7-3.1-.6-.5-2.7-.3-2.1 .2-2.5 1.2-.3 1 .3 2.6 .5 1.5 1.7 1.9zM16.3 85.2q.8 .7 2.7-.4 2-1.1 .4-2.7-1.5-1.5-2.6 .5-1.2 2-.5 2.6zM2 89.5q1.1-.1 1.2-1.1 .1-1.1-.8-1.3-.8-.2-1.2 1.1-.3 1.3 .8 1.3zM8.5 88.8q.9-2.7-.8-2-1.7 .6-1.8 2-.1 1.3 .8 2 .8 .7 1.8-2zM-1 93.4q0 1.6 .2 .3 .3-1.2 0-1.5-.2-.3-.2 1.2zM5 94.4q.7-1.2-.1-1.7-.7-.6-1.5-.4-.9 .2-1.1 1.3-.1 1.2 1 1.6 1.1 .4 1.7-.8zM13.9 93.5q-1.9 1.1-1.4 2.1 .5 1 1.7 1.3 1.2 .3 1.7-2 .5-2.3 .2-2.4-.3-.1-2.2 1zM9.2 96.3q-.6-.8-1.4 .3-.8 1.2-.6 2 .3 .9 1.5-.3 1.1-1.2 .5-2zM11.3 100q-1.3 1.5-.2 2.4 1 .8 2.8-1 1.8-1.8 .3-2.3-1.6-.5-2.9 .9zM23.1 102.5q.5-.2 0-1.5-.5-1.3-2.2-.5-1.8 .9-.1 1.5 1.7 .7 2.3 .5zM16.5 103.7q-.2-.4-1.1 .4-.8 .8-.8 1.3 .1 .6 1.2-.4 1-1 .7-1.3zM3.1 106q.1-1.8-1.6-1.9-1.8-.1-2.2 .2-.3 .3-.3 1.7 0 1.5 2 1.6 1.9 .2 2.1-1.6zM20.5 105.9q-.5-.3-1.4 .8-.8 1.1 0 1.8 .7 .6 1.2 .4 .4-.3 .6-1.5 .1-1.2-.4-1.5zM9.6 112.1q.5 1.1 1.8 1 1.4-.1 1.6-2.1 .2-1.9-1.8-.9-2.1 1-1.6 2zM.3 114.2q1.3-.3 2-2 .7-1.7-1.3-2-2-.3-2 2 0 2.2 1.3 2zM23.1 113q-1.3-.8-1.8 .5-.4 1.3 .3 1.8 .8 .6 1.8-.5 1.1-1.1-.3-1.8zM19 119.5q.2-.8-.8-1.2-.9-.3-1.3 .6-.5 .8 .7 1.1 1.2 .3 1.4-.5zM10.5 122.8q.9 .3 1.2-.6 .2-.8-.9-1.1-1.2-.2-1.2 .6-.1 .9 .9 1.1zM5.2 121.4q-.2-.7-3.2 1.9-3 2.6-3 7.5 0 4.9 1.4 3.2 1.4-1.7 1-2.6-.4-1 1.7-.4 2.1 .5 4.5-.8 2.4-1.4 3.3-2.5 .8-1.1 0-2.2-.7-1.2-1.8-1.9-1.2-.8-2.4-1.1-1.2-.3-1.5-1.1zM18.9 124.2q-.2-.3-1.9-.6-1.8-.3-2.4 1.2-.6 1.4 1.3 2 1.9 .7 2.5-.8 .6-1.5 .5-1.8zM21.2 133.5q-.4-1.8-1.3-2-.8-.3-1.6 2.6-.8 2.9 .5 2.8 1.4-.1 2.1-.9 .7-.8 .3-2.5zM4.9 143q1.7 0 2.7-2.7 .9-2.7 .2-3.7-.7-1.1-2.2-1.5-1.5-.3-3.5 2.2-2 2.5-.5 4.1 1.5 1.6 3.3 1.6zM10.7 141.8q-1.1 3-.4 3.8 .6 .8 3.1 .5 2.4-.4 2.7-3.9 .3-3.5-2-3.4-2.3 .1-3.4 3zM-1 145.3q0 1.2 .3 .3 .4-.8 0-1.2-.3-.4-.3 .9zM4.9 148.6q3.4-.1 2.7-.9-.7-.9-2.6-1-1.9-.2-2.7 .8-.7 1.1 2.6 1.1zM22.9 148.3q-.2-.4-2.5-.6-2.4-.1-2.6 .2-.3 .2 2.5 .5 2.8 .2 2.6-.1zM25.1 1.3q1.2-1.1 1-1.7-.2-.6-1.5-.6-1.2 0-2.4 .4-1.1 .5-.6 1.5 .6 1 1.4 1.2 .9 .2 2.1-.8zM34.1 7.2q.8 .3 1.7-1.3 1-1.5 .5-2.5-.5-1.1-1.2-1.3-.7-.3-1.3 .1-.5 .3-.5 2.6 0 2.2 .8 2.4zM23.4 5.3q-1.7-.3-2.7 1.1-.9 1.5 .8 2.5 1.8 1.1 3.3 .6 1.5-.5 2.7-.3 1.3 .1 1.9-.3 .6-.5 .5-3.8-.2-3.3-.6-3.3-.4 0-2.3 1.9-1.9 1.8-3.6 1.6zM38 9.7q.3 .6 2.5 .7 2.3 .1 2.8-1.7 .4-1.8-1.6-2.3-2-.5-2.9 1.1-1 1.7-.8 2.2zM52.6 10.1q.5-3.1-1.6-4.2-2.1-1.2-3.4-.4-1.3 .8-1.9 3.4-.6 2.6-.2 3.5 .5 .9 2.9 1.4 2.3 .4 3.1-.1 .7-.5 1.1-3.6zM30.9 13q.5 2 2.8 2 2.2 0 2.6-1.6 .4-1.5 0-2.2-.5-.6-2.4-.8-2-.3-2.8 .2-.7 .4-.2 2.4zM43.3 13.9q-.3-.5-2.2-.6-2 0-2.3 1.3-.4 1.2 1.6 1.3 2 .2 2.6-.7 .6-.8 .3-1.3zM34.5 21.2q.6-.2 .9-1.7 .3-1.6-1.6-1.6-1.8 .1-1.9 .5-.1 .4 1 1.7 1 1.2 1.6 1.1zM42.2 22.7q.3-.3 0-1.8-.3-1.4-1.7-1.4-1.4 0-1.5 .9 0 .9 1.4 1.7 1.5 .8 1.8 .6zM28.9 30.1q1.1 1.2 3.4 1.5 2.2 .3 4.2-.2 2-.4 3.5-1.4 1.5-.9 1.5-2.2 .1-1.3-1.7-3.2-1.7-1.9-3.3-2.4-1.6-.5-3.2 0-1.6 .5-2.8-.8-1.2-1.3-3.6-.5-2.4 .8-2.5 1.2 0 .3 1.5 2 1.5 1.6 1.2 2.1-.2 .5 .3 1.6 .5 1.2 1.5 2.3zM50.5 28.3q.8-1.3 2.2-.8 1.5 .5 1.2 1.8-.3 1.3 .4 1.6 .7 .4 1.6-.1 .9-.5 .9-.9 .1-.3-.8-1.3-1-1 1.5-3.2 2.4-2.1 1.8-3.4-.6-1.3-2.7-2.1-2-.7-3.1-.3-1 .3-2.1 1-1.1 .7-1.5 1.6-.4 .9-.3 1.8 .2 .8-1.5 1.5-1.7 .7-.1 2.4 1.7 1.8 2.5 .4zM29.6 36.7q.1-2.4-.1-2.6-.3-.3-3.8 .5-3.6 .7-2.4 3.6 1.2 2.8 3.6 1.9 2.5-.9 2.7-3.4zM41 43.6q-2.4 1.2-5.3 .8-2.9-.3-3.8-1.1-.9-.7-4 .5-3.1 1.3-3.4 1.7-.3 .5 .9 1.6 1.2 1.2 1.2 2 0 .9 .8 2.1 .8 1.3 2.8 2.5 2.1 1.3 3.3 2.7 1.3 1.4 5.1 .8 3.8-.7 3.6-2.2-.3-1.5 .7-2 .9-.5 1.5-1.8 .6-1.2 .4-1.6-.3-.4 .9-2 1.2-1.5 1-2.1-.2-.5-1.8-1.8-1.5-1.3-3.9-.1zM26.3 62.5q1.8 2.8 2.3 2.9 .5 .1 1.7-.9 1.3-1 1.8-2.8 .6-1.8-.7-3.4-1.2-1.7-4-.2-2.9 1.5-1.1 4.4zM34.4 62q-.5 1.6 2.1 3.3 2.6 1.7 3 1.5 .4-.3 .4 3 0 3.2-1.7 3.8-1.8 .6-3 3.5-1.1 2.8-3.6 2.9-2.4 .1-3 .9-.5 .9 2.3 4.2 2.9 3.3 4.3 2.4 1.3-1 1.8-2.5 .5-1.5 1.6-2.5 1.1-.9 2-4 .9-3.1 1.9-2.4 1.1 .6 .6 2.8-.5 2.2 2.3 2.7 2.9 .6 3.8-.8 1-1.4-.8-2.5-1.9-1.1-.2-1.7 1.7-.7 2.8-.1 1.2 .5 2-1.3 .8-1.8-.2-3.1-1-1.3-1.2-3.9-.1-2.6-3-4.5-2.8-1.9-5.4-.1-2.7 1.8-1.5-.5 1.2-2.2 1-3.1-.2-.9-4.1-.3-3.8 .7-4.2 2.3zM32.1 66.7q-.9 .6-.4 1.9 .4 1.3 2.2 2.2 1.7 .9 3.3 .3 1.5-.5 1.4-1-.2-.5-2.9-2.2-2.7-1.8-3.6-1.2zM29.2 69.3q-.5-1.4-1-1.6-.6-.1-2.1 .7-1.4 .9-2 .8-.6-.1-4.3 3.3-3.6 3.4-2.9 5.1 .8 1.8 2 3.3 1.2 1.4 4.6 .9 3.5-.5 4.7-1.3 1.1-.8 1.4-1.6 .4-.8 1.8-.9 1.5-.1 2.2-2.1 .6-2-.8-2.8-1.5-.7-2.2 .4-.7 1.1-1.3 .1-.5-1 0-1.9 .4-.9-.1-2.4zM34.9 94.9q1 2.1 2.4 2.5 1.4 .5 3.8-.6 2.5-1.1 2.6-2 .2-.8-3.2-3.1-3.3-2.4-4.4-1.6-1.2 .9-1.7 1.8-.4 .9 .5 3zM47 94.3q0 1.8 .9 2.9 .9 1.1 1.1 4.9 .2 3.7 3.3 4.1 3.1 .3 2.9-3.7-.2-4.1 1-5.6 1.1-1.6 .9-3-.2-1.5-4.5-2.6-4.2-1.1-4.8-3.7-.5-2.6-3.8-3.1-3.3-.6-3.9-.1-.5 .4-.7 1.2-.2 .8 3.7 3.9 3.8 3 3.9 4.8zM30.8 100.3q1.5-1.8 .8-3.7-.8-1.8-2.9-1.6-2.2 .3-2.5 1.2-.3 1 .7 3.3 .9 2.4 1.7 2.5 .7 .1 2.2-1.7zM41.5 103.1q.4 2.2 2.4 2.7 1.9 .5 1.6-3.1-.2-3.5-2.4-2.7-2.1 .9-1.6 3.1zM37.1 107.2q1.5-1.3 .9-3.8-.5-2.6-1.5-2.9-1.1-.4-3.2 1.9-2 2.3 .1 4.2 2.1 2 3.7 .6zM24.6 107.6q0 1.4 .5 1.5 .5 0 1.3-1.7 .8-1.6 .2-1.8-.5-.1-1.2 .2-.7 .4-.8 1.8zM31.6 111.5q.8-1.2-.2-1.9-1-.7-1.9 .9-.8 1.6 .2 1.9 1.1 .3 1.9-.9zM38 116.4q.5-1.3 3.4-3 3-1.7 3.1-2.7 .1-.9-2.2-1.7-2.2-.7-5.6 2.7-3.4 3.5-1.3 4.8 2.1 1.3 2.6-.1zM27.8 118.2q.7 .8 1.2-.4 .5-1.2-.4-1.4-1-.2-1.2 .4-.3 .6 .4 1.4zM33.6 119.7q.2-.3-.3-.5-.4-.1-.5 .4 0 .4 .3 .5 .3 0 .5-.4zM43 115.4q-2 1-2.5 2.9-.6 1.8-1.6 2.1-1.1 .3-2.5 1.5-1.3 1.1-1.2 2.1 .2 1-2.3 1.2-2.5 .2-3.2 1.6-.7 1.4-3.3 2.9-2.5 1.6-2.2 2.8 .3 1.3 2 1.2 1.6 0 1.5-1.1-.1-1.1 1.3 .3 1.4 1.3 3 1.5 1.6 .2 1.3 .8-.3 .6 2.1 1.8 2.3 1.2 3.6-.4 1.2-1.5 .7-2.5-.6-1 .1-1.6 .7-.5 .8-1.1 .1-.6 1 .5 .8 1.1 2.2 1 1.4 0 2.3-1.9 .8-1.9-.6-3.7-1.4-1.7-1.8-1.8-.4-.1-1.4 .9-1 .9-2.6 .2-1.6-.6 .2-2.3 1.7-1.7 3-2 1.3-.3 2.8-2.5 1.6-2.2 .5-3.7-1.1-1.6-3.2-.7zM24.9 120.7q-1-1.3-1.4-1.1-.3 .2-.6 1.2-.3 1.1 1.3 1.5 1.6 .3 1.7-.1 .1-.3-1-1.5zM31.7 124.6q0-.6-.9-1-.8-.3-1.1 .6-.2 .9 .9 .9 1 0 1.1-.5zM23.9 125.6q-2-.3-2.5 1.1-.5 1.4 0 1.8 .6 .4 2.9-.6 2.2-1 1.9-1.5-.3-.6-2.3-.8zM28.7 139q.7-2.1 .5-2.4-.2-.3-2.6-.2-2.3 .1-3 1-.6 .9 .7 2.4 1.4 1.6 2.5 1.5 1.1-.2 1.9-2.3zM45.6 141q1.3-3.1 .7-4.1-.6-1-2.4-1-1.8 0-3.1 1.9-1.4 1.8-1.3 3 .2 1.1 2 2.3 1.9 1.1 2.3 1 .5-.1 1.8-3.1zM37 141.3q0-1-2.5-2.3-2.5-1.2-3.3 .8-.7 2 .7 3.4 1.3 1.4 3.3 .2 1.9-1.2 1.8-2.1zM31 147.8q.2-.5-1.2-2.2-1.3-1.8-2.4-1.6-1.1 .2-1.7 1.3-.6 1.2-.1 1.9 .5 .8 2.9 .9 2.3 .2 2.5-.3zM41.3 147.4q.3-1.1-1.2-2.1-1.4-.9-3.5 .6-2 1.4-1.4 2.1 .6 .6 3.2 .6 2.6 0 2.9-1.2zM47 147.8q-1.6-.8-2.1 0-.5 .8 1.6 .8 2.1 0 .5-.8zM58.6 2.9q.6-.9 .1-2.4-.6-1.5-4.8-1.3-4.2 .1-4 1.8 .3 1.6 2.5 2.8 2.2 1.3 3.9 .7 1.8-.7 2.3-1.6zM74 4.3q.8 2.2 2.9 2.3 2.1 .1 4-1.6 1.9-1.7 2-2.7 .1-1-2.2-2.2-2.3-1.1-2.9-1.1-.7 0-2.7 1.6-2 1.5-1.1 3.7zM55.6 10.3q-.4 2.4 .5 2.9 .9 .5 .9-1.4 0-1.8 .6-3.3 .5-1.4-.6-1-1 .4-1.4 2.8zM76.2 17.9q1.5 .6 3.2-1.4 1.7-2.1 .5-4.6-1.3-2.5-2.7-2.7-1.5-.1-1.3 2.3 .1 2.4-.6 4.1-.7 1.7 .9 2.3zM81.7 35.2q2.2-.5 3.3-2.9 1-2.4 .8-3.8-.3-1.4-3.3-2.6-3-1.2-4.4 .5-1.3 1.6-1 4.4 .4 2.8 1.4 3.8 1 1 3.2 .6zM72.1 32.4q2.1-.1 2-1.6-.1-1.5-2.3-1.9-2.2-.5-2 1.5 .2 2 2.3 2zM66 35.8q-2 .8-1.7 2.6 .4 1.9 1.9 1.3 1.6-.5 1.8-2.6 .1-2-2-1.3zM65.9 46.2q.9 2.1 3.5 .5 2.5-1.7 4.6-1.5 2.1 .3 3.2-1.1 1.1-1.3 .9-.4-.2 .8 1.7 2.6 1.8 1.7 3.2 1.9 1.4 .2 2.2-1 .8-1.1 2.4-.9 1.6 .3 .6 2.1-1 1.8 2.4 2.4 3.3 .6 3.8 .2 .5-.5 .2-2.4-.2-1.9-.6-2.2-.4-.2 4.3-2.1 4.8-1.8 5.5-3.1 .7-1.2-2.9-2.3-3.6-1-6.2-1-2.6 0-5.4 .6-2.8 .5-4-.5-1.2-1-3.1-.6-1.9 .4-2.6 2.2-.8 1.8-2.2 .6-1.5-1.2-4.2-1.1-2.7 0-4.2 .4-1.5 .4-1.3 1.7 .1 1.4-1.3 2.1-1.5 .8-.5 2.9zM55.8 50.6q2 3.2 1.1 3.2-1 0-1.3 .4-.3 .3-2.2-2.6-1.9-2.9-2.6-3.1-.7-.2-3.1 2.5-2.3 2.8-2 3.6 .2 .9 4.2 1.2 4 .3 4 1.9-.1 1.7-4 1.4-3.9-.3-4.1 0-.3 .2 2.1 3 2.4 2.7 4.2 1.1 1.7-1.6 1.6-.9 0 .7 .7 1.5 .8 .8-.5 2.3-1.4 1.5 .3 3.4 1.7 2 3.5 1.4 1.8-.7 1.4-2.5-.4-1.8 .8-3 1.2-1.2 2.1 1.5 .9 2.7 3 .7 2.2-2 1.9-3.2-.2-1.1-2.3-1.3-2-.2-1.2-1.6 .8-1.4 2.3-1.4 1.5 .1 2.5-1.5 1-1.7-.5-4.3-1.4-2.6-1.8-2.6-.4-.1-2.2 1.1-1.7 1.2-3.5 1.1-1.8-.1 1-2.1 2.9-2 1.8-4.4-1.2-2.5-2.9-2.8-1.7-.3-4 1.2-2.3 1.6-.3 4.8zM77.4 48.3q-1.4-1.5-4.6 .7-3.1 2.1-2.2 4 .9 2 .6 3.4-.4 1.3 1.4 4.4 1.8 3 4 3.1 2.3 .1 2.2 1.3-.2 1.2 2.2 2.7 2.5 1.5 3.9 .6 1.4-.8 1-3.9-.3-3.1-2.2-3-1.8 0-1.7-1.1 .1-1.2 1.5-1.4 1.4-.2 1.5-3.6 .1-3.4-.3-3.9-.4-.5-1.7-.7-1.2-.1-2.4 1.7-1.1 1.9-2.5 1.3-1.3-.5-.3-2.3 1.1-1.8-.4-3.3zM75.1 71.5q-.5 2.8 1.4 3.5 1.9 .7 3.2-.2 1.2-.9 1.6-2.2 .4-1.3-1.8-2.9-2.2-1.6-3.1-1.3-.9 .3-1.3 3.1zM75.3 81.9q1.7-1 1.7-2.4-.1-1.4-1.9-2.2-1.8-.8-4.3 .5-2.6 1.2-2.1 2.4 .6 1.2 2.8 1.9 2.2 .8 3.8-.2zM60.1 88.1q.3 .2 2.8-.6 2.5-.9 3.1-2.8 .7-2 .3-2.8-.3-.8-3.5 .3-3.3 1.2-3.1 3.4 .1 2.3 .4 2.5zM57 86.3q-.3-3.5-2.3-4.5-2-1-3.3 .6-1.3 1.7-1.1 3.8 .1 2.1 3.6 2.8 3.4 .7 3.1-2.7zM68.7 88q.3 .5-1.2 1.4-1.4 1-4.4 1.8-2.9 .8-2.6 2 .3 1.3 3 1.9 2.7 .6 3.5 1.7 .8 1 .4 1.4-.5 .3-.5 1.1 0 .9-1.4 .8-1.5-.1-3.7-1-2.2-.9-2.8-.3-.5 .7-.4 2 .1 1.4-.6 2.5-.7 1.1-.2 2.8 .6 1.6 .4 2.1-.2 .5 2.9 2.8 3.1 2.3 3.9 1.2 .9-1.1 .8-1.7-.2-.5 3.1-1.4 3.3-.8 2.9-1.9-.3-1-1-1.1-.7-.1-.2-.8 .6-.7 .2-1.3-.3-.7 .6-.6 .9 0 1.4-.7 .4-.8-.6-2-1-1.2 .1-1.5 1.1-.3 1.9 .3 .8 .6 2.1 0 1.3-.7 1.3-2.9-.1-2.3-1.6-3.9-1.5-1.6-2.4-4.3-1-2.6-2.6-3.1-1.7-.5-2.1 .9-.5 1.4-.2 1.8zM75.2 105.5q.5 .9 2.6 .4 2.2-.5 2.4-1.3 .2-.7-.9-1.7-1-.9-2.2-.5-1.3 .4-1.8 1.3-.5 .9-.1 1.8zM78.8 113q1.7-1 1.8-2.6 .1-1.7-2.6-.9-2.6 .8-1.7 2.7 .9 1.9 2.5 .8zM48.3 114.6q1.5 2.1 2.8 1.9 1.2-.2 2.8-3.9 1.5-3.6-2-4-3.6-.4-4.3 .2-.7 .5-.8 2.1-.1 1.6 1.5 3.7zM73.6 114q-.8-1.8-3-1.6-2.1 .2-2.9 1.3-.7 1.2-1.5 1-.8-.2-2.2 .2-1.5 .3-4.3-1.6-2.8-1.9-4.2 .8-1.3 2.8 .2 4.4 1.5 1.7 2.6 1.5 1.1-.2 .8 .6-.2 .7 .3 1.3 .6 .6-.2 .9-.8 .3-1.5 2.7-.8 2.4 .6 3.9 1.4 1.5 1.8 1.5 .3 0 2-1.9 1.6-1.9 2.7-1 1.2 1-1.1 3.6-2.2 2.7-2.1 3.3 .1 .7 1.6 1.5 1.4 .9 2.9 .7 1.5-.2 3.1-1.6 1.7-1.4 1.7-3 0-1.7 .4-1.7 .3 0 1.2-3.8 .8-3.8 .4-5.9-.4-2-1.3-2.9-.8-.9 .1-.8 .9 .2 1.8-.7 1-.9 .1-2.7zM75.3 122.5q.6 2.6 2.5 1.4 1.9-1.2 1.8-1.6 0-.5-1.5-2.1-1.4-1.6-2.4-.9-.9 .6-.4 3.2zM51.7 127.6q2.2-.1 3.2-3 1-2.8-.7-4.5-1.8-1.7-3.2-1.6-1.4 .1-3.1 2.7-1.8 2.5-.1 4.5 1.7 2 3.9 1.9zM82.2 127.2q-1.3-.8-1.9-.3-.6 .6 .8 2.3 1.3 1.7 1.8 1.1 .6-.6 .6-1.5 0-.9-1.3-1.6zM73.8 131.3q.2 2.4 1.9 2.9 1.6 .4 2.6-.1 1-.6-.6-3.2-1.7-2.6-2.3-2.7-.7-.1-1.2 .3-.6 .4-.4 2.8zM48.8 135.3q.4 .9 3.9 1.6 3.5 .7 4.7-.4 1.3-1.1-1-3.7-2.2-2.7-4.1-2.6-1.8 .2-2.9 2.2-1 2-.6 2.9zM80.6 141.3q2.2 .2 3.2-1 .9-1.2-.6-3.2-1.5-2-3.1-1.1-1.6 .9-1.7 3-.1 2.2 2.2 2.3zM72.8 140.4q2 2 2.5 1.7 .4-.3 .4-2.4 0-2.1-1.6-2.6-1.5-.5-2.4 .4-1 .9 1.1 2.9zM48.5 141.9q-.9 2.2 1.1 3.1 1.9 .9 3.1 0 1.1-1 1.5-2.5 .3-1.6-2.3-2.2-2.6-.6-3.4 1.6zM66.1 142.8q.2 3 2 3.9 1.9 .9 3.1-.7 1.3-1.5-1.2-4-2.5-2.5-3.3-2.3-.8 .2-.6 3.1zM82.5 147.5q.3-.3 0-2-.4-1.6-2.3-1.5-1.8 .2-.9 1.7 .9 1.6 1.9 1.9 1 .2 1.3-.1zM74.9 148.6q1.4 0 .9-1.1-.5-1-1.4 0-.9 1.1 .5 1.1zM55.4 148.6q2.4 0 1-.8-1.4-.9-2.4 0-1.1 .8 1.4 .8zM98.7 .9q-.3-.7-1.8-.4-1.6 .3-1.3 1.6 .3 1.4 1.8 .5 1.5-.9 1.3-1.7zM106.1 2.3q-.2-1.1-2.2-1.9-1.9-.9-2.2-.8-.3 .1-.4 1.3 0 1.1 1.7 2.4 1.6 1.3 2.4 .7 .9-.5 .7-1.7zM87.9 5q2.2 1.8 3.7 .6 1.6-1.1 1-3-.5-1.9-3.4-1.9-2.9-.1-3.2 1.3-.3 1.3 1.9 3zM109.5 8.4q.7-1.1-.6-1.7-1.4-.7-2.1-.1-.6 .5-.2 1.6 .5 1 1.3 1.2 .8 .2 1.6-1zM91.8 11.2q.2 2 .9 2.2 .7 .2 2.7-.8 1.9-1 2.2-2.2 .3-1.2-.8-2.7-1.1-1.5-1.5-1.4-.4 0-2 1.4-1.7 1.5-1.5 3.5zM100.1 10.7q-.2 .7 1.1 1.5 1.3 .8 2.1-.5 .9-1.2 .3-2-.6-.8-1.9-.3-1.4 .6-1.6 1.3zM109.5 14.7q1.6-1.2 3.8-2 2.2-.8 1.1-2.2-1.1-1.3-2.5 .5-1.3 1.7-3.4 1.6-2.1-.2-2.8 .7-.6 .9 .8 1.7 1.3 .8 3-.3zM98.2 17.2q1.4 1.4 2-.1 .6-1.5-.6-2.1-1.3-.7-2-.3-.8 .3-.9 .7 0 .4 1.5 1.8zM110.1 18.3q-.7 .5-.6 .9 0 .4 .6 .4 .6 0-.2 1.9-.8 2-.3 3.7 .5 1.7 1.1 2 .6 .2 4-1.9 3.4-2.2 3.8-3.2 .4-1 1.3-1.4 .9-.4 1.1-1.9 .3-1.5-.3-1.6-.6-.1-1.6 1.3-1 1.4-1.9 .5-.9-.9 .1-2.3 .9-1.3 .3-1.9-.7-.6-2.3 0-1.7 .7-1.5 1.2 .1 .5-1 1.5-1.1 1.1-1.5 .7-.4-.4-1.1 .1zM105.4 18.4q-.8-.5-1.3 .4-.6 1 .8 .8 1.3-.1 1.4-.4 0-.3-.9-.8zM93 22.3q2.5 .8 3.4-.5 1-1.3-1.1-3.6-2.1-2.2-3-2.3-.9-.1-1.3 .3-.4 .4-.5 2.8 0 2.4 2.5 3.3zM81.2 18.3q-1.9 2.2-1.5 3.3 .4 1.1 3.3 2.1 2.9 1 4-.5 1.2-1.5 1.3-3.9 .1-2.3-2.6-2.8-2.7-.5-4.5 1.8zM100.7 24.4q.1-1-.4-1.3-.5-.2-1.3 1-.9 1.3-.1 1.6 .8 .3 1.2 .1 .5-.3 .6-1.4zM103.9 24.5q.1 1.6 1.1 2.2 1 .7 1.9 .5 .8-.2 .6-2.4-.2-2.3-1.9-2-1.8 .2-1.7 1.7zM94.5 26q-.2-.5-2.4-1.2-2.3-.8-3.2 .5-1 1.2-.9 2 .2 .8 2.6 1.2 2.3 .3 3.2-.9 .9-1.1 .7-1.6zM96.4 30.7q.1 .5 .9 .3 .7-.2 .5-.9-.1-.7-.5-.7-.3-.1-.7 .4-.4 .5-.2 .9zM90.4 31.3q-2.6-.3-3.5 1.8-.8 2.1 0 2.9 .8 .8 3.9 .2 3.1-.6 3.4-1.6 .3-.9-.5-2-.7-1.1-3.3-1.3zM103 36.5q-.3 1.2 .5 2.2 .7 1 1.2 1 .4 0 1.5-1.5 1-1.6-.6-2.5-1.7-.9-2-.7-.4 .2-.6 1.5zM97.8 48.4q.2 1.9 1 2.1 .8 .2 2.8-1.7 2-2 3.6-1.7 1.5 .3 2.7-.7 1.1-.9-.5-2.3-1.5-1.5-1.9-1.5-.4 0-1.2 1.3-.9 1.3-3.8 2-2.9 .6-2.7 2.5zM104.5 53.8q1.5-.1 1.4-1.7-.1-1.7-.7-1.9-.6-.3-1.8 1.1-1.2 1.3-.8 1.9 .5 .7 1.9 .6zM92.3 56.4q-.1-1.9-2.1-2.1-2.1-.2-2.2 2-.1 2.3 2.2 2.2 2.2-.2 2.1-2.1zM98.8 59.8q1.6 .1 2.7 .6 1 .6 3.2 .1 2.2-.5 1.9-1.8-.3-1.4-2.7-1.4-2.4 0-3.7-1.5-1.3-1.6-2.3-1.8-1-.3-1.3 .1-.3 .3-.3 2.6 0 2.3 .4 2.6 .5 .4 2.1 .5zM90.9 61.2q-2.8 .3-2.6 3.5 .1 3.2 1.7 3.7 1.5 .5 3.2-3 1.7-3.5 1.2-4-.6-.5-3.5-.2zM108.6 67.7q1.5-1.1 1.6-2.3 .2-1.2-.4-1.7-.6-.4-3.9 0-3.3 .4-3.2 2 .1 1.5 2.3 2.3 2.1 .8 3.6-.3zM96.1 69.8q2.5 .5 3.6-.8 1.1-1.2 1.1-3.3-.1-2.1-.5-2.5-.5-.5-1.9-.6-1.3-.1-3.1 3.3-1.8 3.3 .8 3.9zM80.9 77.4q-1.1 .8-1.1 2.1 .1 1.4 .7 1.8 .7 .5 2.6-.5 1.9-1 .4-2.6-1.5-1.6-2.6-.8zM102.2 81.2q1.8 1.5 2.4 1.4 .6-.1 1.3-2.3 .8-2.2-1.7-2.7-2.5-.6-3.1 .7-.7 1.3 1.1 2.9zM89.5 79.5q-1.9 .5-2.1 1.1-.2 .5 .6 2.2 .8 1.6 2.4 1.6 1.6 .1 2.2-1.9 .5-2-.3-2.8-.9-.7-2.8-.2zM96.6 82.2q-.7 .2-1.2 1.8-.4 1.6 .5 3.3 1 1.8 2.8-.3 1.8-2.1 .2-3.5-1.6-1.5-2.3-1.3zM113.2 96.1q.6-2.6-.4-3.7-1-1-3.6 1.6-2.5 2.6-.5 4.2 2.1 1.6 2.9 1 .9-.5 1.6-3.1zM100.5 98.6q1.9-1.8-.4-3.9-2.3-2.1-3.1-2-.8 .1 .4 3.9 1.2 3.8 3.1 2zM94.7 102.6q1.8-.6 .4-4.6-1.4-3.9-3.6-3.3-2.1 .6-2.4 3-.3 2.4 1.7 3.9 2 1.6 3.9 1zM107.7 103.5q.4-1.3-1.4-2.7-1.8-1.3-3.2 .4-1.5 1.7 1.4 2.6 2.8 1 3.2-.3zM89.6 106.1q.5-1.5-1-2.5-1.5-1-3-.1-1.6 .8-1.7 1.8-.1 1.1 2.5 1.7 2.6 .6 3.2-.9zM97.6 107.8q.2-3.2-1.8-2.7-2 .4-2.8 2.6-.8 2.1 1.8 2.7 2.7 .6 2.8-2.6zM103.1 112.2q2.9 .2 4.7 2.3 1.9 2.1 3.4-1.2 1.5-3.2-.4-4.4-1.9-1.2-6.1-2.1-4.2-.8-4.4 2.1-.2 3 2.8 3.3zM86.5 110.7q-2.5-.4-2.7 .7-.2 1.1 1.8 2.5 2.1 1.4 2.7-.7 .6-2-1.8-2.5zM97.1 115.5q.4-1.6-2.5-2.3-3-.8-4 1.8-1 2.6-.3 3.3 .7 .6 3.6-.3 2.9-.9 3.2-2.5zM99.6 117.7q.2 .5-3.4 2.1-3.7 1.6-3.7 2.9 0 1.2 1.4 1.4 1.4 .1 2.2 1.1 .8 .9 3 2.3 2.2 1.4 3.8 1.9 1.6 .5 3.7-.5 2.1-1 1.3 1-.8 2 1.1 3 1.9 .9 4.3-.1 2.5-1 1.8-2.9-.7-1.9-2.4-2.4-1.7-.6-1.2-.8 .5-.3 .3-1.2-.1-1 1.4-.7 1.5 .3 2.4-1.1 .9-1.4 .7-2.4-.2-1-2.8-1.6-2.6-.7-3.2-.1-.6 .6-1.9 .2-1.4-.5-1.2-1.2 .2-.7-1.1-2.2-1.3-1.6-3.5-1.7-2.3-.1-2.7 1.2-.5 1.4-.3 1.8zM87.5 128.5q-.1 .7 1.3 .9 1.3 .2 1.7-1.7 .4-1.8-1.3-.9-1.7 1-1.7 1.7zM98.1 128.8q-.6-1.5-2.5-1.6-1.9-.1-2.5 2.1-.6 2.3-.2 3 .4 .7 1.9 .7 1.5 .1 2.7-1.3 1.2-1.3 .6-2.9zM102.9 132.3q-2.3-.8-3.7 .6-1.3 1.4-.1 4 1.2 2.6 1.9 2.7 .7 .1 2.4-3.2 1.8-3.3-.5-4.1zM85 136.1q1.4 2 3.2 2.3 1.7 .3 2.7 1.4 1 1.2 3.8 1.3 2.7 .2 3.3-.3 .5-.5-.7-3.1-1.2-2.6-3.1-2.7-1.9-.2-2.7-1.2-.7-1-3.2-1.5-2.6-.5-3.6 .7-1.1 1.2 .3 3.1zM109.7 137.7q.1-1.5-1.3-2.2-1.4-.6-2.7 2.2-1.2 2.8-.5 3.2 .7 .4 2.6-.6 1.9-1 1.9-2.6zM96.4 146.1q-.1-2.6-2-2.7-2-.1-2.4 1.7-.4 1.8 2 2.6 2.4 .9 2.4-1.6zM102.3 148.6q2.7 0 2-2.3-.7-2.2-1.6-3-1-.8-1.9-.5-.9 .3-1.1 3-.1 2.8 2.6 2.8zM133.7 -.1q.4 .9-1.6 2.7-2 1.9-3.2 4.1-1.2 2.1-2.2 1.9-.9-.3-1.2 0-.2 .2 .3 1.8 .5 1.5-.6 5.3-1.1 3.7 1.9 6.4 3.1 2.8 5.7 .9 2.5-2 4.7-7.6 2.1-5.7 3.6-5.7 1.4 .1 1.9-1.6 .5-1.7-.2-2.8-.6-1-1.7-.6-1.1 .4-2.4-.8-1.4-1.1-.1-1.8 1.3-.6 .9-1.9-.4-1.2-3.3-1.2-2.9 0-2.5 .9zM127.7 4.9q.7 .2 1.9-.9 1.3-1.2 .5-3.1-.9-1.9-4-1.9-3.1 0-1.6 .9 1.4 .8 2 2.8 .6 2 1.2 2.2zM137.4 21.2q.6-.5 .3-.9-.3-.4-1.1-.1-.7 .3-.2 .9 .5 .6 1 .1zM133.9 24.4q-.6-.6-1.1-.1-.5 .6-.3 1.1 .3 .5 1.1 .1 .9-.4 .3-1.1zM139.4 25.2q-1.2 .5-1 1 .3 .4 1.1 .2 .8-.3 .9-1 .2-.7-1-.2zM129.7 26.8q-.4-1-1.9-1.5-1.6-.4-2.1 1.1-.5 1.6 1.1 2 1.7 .5 2.5 0 .7-.6 .4-1.6zM115.4 31.3q1.5 .7 2.6-.2 1.2-.9-.3-2.3-1.5-1.3-2.8-.1-1.4 1.1-1.2 1.5 .2 .5 1.7 1.1zM126.6 34q.2-2.2-1.4-2.9-1.6-.6-2.1-.3-.5 .4 1.3 2.9 1.9 2.4 2.2 .3zM114.5 36.5q.3-1.1-.7-1.5-1-.5-1.6 .1-.6 .7 .7 1.5 1.4 .9 1.6-.1zM140.1 39.2q.6-.1 1-1.6 .4-1.4-1.1-1.7-1.6-.4-2.3 0-.6 .3 .6 1.8 1.2 1.6 1.8 1.5zM120 43.7q.7 2.3 3.9 2.4 3.2 .2 1.8-3.7-1.4-3.9-3.4-6.4-2-2.6-3.1-1.9-1.1 .7-1.4 3.3-.2 2.5 .6 3.3 .9 .7 1.6 3zM110.9 40.4q-1.4-.9-1.8-.3-.4 .7 .5 1.5 .8 .9 1.8 .3 1-.6-.5-1.5zM136 40.8q-.5-.7-.9-.5-.3 .1-.1 1.4 .2 1.4 .9 .5 .7-.8 .1-1.4zM141 43.9q-.8-1-2 .6-1.2 1.6-.6 2.2 .6 .7 2-.6 1.4-1.3 .6-2.2zM134.9 51.7q1.3-1.9 .1-3-1.2-1.1-2.8-.4-1.7 .6-.1 3 1.6 2.4 2.8 .4zM128.6 55.5q1.1-.9 .3-1.9-.7-1-1.5 0-.8 1.1-.3 2 .4 .8 1.5-.1zM113.4 61q1.6-.7 1.6-3.3 0-2.5-2.5-2.1-2.4 .5-2 3.2 .4 2.6 .9 2.8 .4 .2 2-.6zM134.2 61.8q.5-.5 .5-1.6 0-1-.8-1.8-.8-.9-3.3 .7-2.5 1.7-2.3 2.2 .3 .5 2.9 .8 2.5 .3 3-.3zM123.3 65.4q1.9-1.3 2.1-1.7 .1-.5-.2-1.1-.4-.7-3.8-.7-3.3-.1-1.7 2.3 1.6 2.4 3.6 1.2zM136.9 64.2q-.5 .3 0 2.3 .4 2.1 2.9 1.3 2.5-.7 2.2-1.7-.3-1-2.5-1.6-2.2-.7-2.6-.3zM132.6 70q1.8-.5 1.4-2.5-.4-2-3.2-2.2-2.9-.3-1.5 2.5 1.4 2.7 3.3 2.2zM109.8 69.5q-1.2 1-1.3 3.5 0 2.6 .3 3 .3 .5 2.3 .1 2-.3 2.9-1.9 .9-1.6-1-3.6-1.9-2-3.2-1.1zM134.4 77.9q2.1-1.5 1.3-3.5-.9-2.1-2.8-1.7-2 .5-2.4 1.1-.5 .6 .6 3.1 1.2 2.5 3.3 1zM128.9 77.8q-1.1-2.6-3-2.4-2 .3-2.1 3.3-.1 3 3 2.4 3.2-.7 2.1-3.3zM125.8 86.4q1.2 2.7 2.2 2.3 .9-.3 .9 .8 0 1.1-1.7 1.4-1.8 .4-3.5-3.3-1.8-3.8-3.3-3.5-1.5 .3-3.7 3.2-2.1 2.9-1.3 3.9 .8 1.1 4.9 1.8 4 .7 5.6 1.8 1.5 1.1 3.7 1.1 2.1 0 3.6 .6 1.5 .7 3.2 .6 1.6-.1 2.3-1.6 .8-1.4 .6-3.9-.3-2.5-2.4-3.9-2.1-1.4-3.3-1.5-1.1-.2-1.7-2-.5-1.8-3.9-1.1-3.3 .7-2.2 3.3zM116 96.9q-.7 2.3 1.1 3.9 1.8 1.7 2.3 1.6 .5 0 1.9-3.2 1.3-3.3-1.7-3.9-2.9-.7-3.6 1.6zM135.9 106.5q.4-.1 .7-1.2 .3-1.1 0-1.9-.3-.7-.9-.9-.7-.3-1.5 .8-.9 1.2 .2 2.2 1.2 1.1 1.5 1zM115.5 102.7q-1.8-1.5-3.1-.8-1.4 .8-1.9 2.3-.4 1.6 1.9 3 2.3 1.5 3.6-.7 1.3-2.2-.5-3.8zM118.4 107.2q-1.1 2.1-.1 2.9 1 .8 1.1 2.2 .2 1.5-2 .2-2.2-1.3-3.4 1.4-1.1 2.6 .9 3.1 2 .5 3.6-.7 1.5-1.1 2.1-.1 .6 1 3.1 1.4 2.5 .3 3.4-1.1 1-1.4 .9-3.6 0-2.2 .6-1.6 .6 .6 2.8-.1 2.2-.7 2.6-1.4 .4-.6-1.5-2.4-1.9-1.8-2.7-1.8-.7 0-1.5 .6-.9 .7-2.8-.6-1.9-1.2-3-.7-1.1 .6-2.1 .4-.9-.3-2 1.9zM131.7 113.6q-1.8 .5-2.9 2.8-1 2.2-1.2 4.7-.2 2.6 1.4 3.3 1.6 .7 2.5 .3 .8-.4 1.5-2.5 .6-2.1 1-2.7 .5-.5 .7 2.4 .1 2.8 3.3 5.2 3.2 2.3 3.5 2.1 .3-.2 .4-2 .1-1.8 1.1-2.8 .9-1 1 1.5 0 2.6 2.5 1.9 2.5-.7 3-1.9 .6-1.3-.5-2.7-1.2-1.3-3.1-.6-1.9 .8-2-2.6 0-3.3-2.4-5.1-2.3-1.8-4.4-.4-2.1 1.3-2.8-.1-.7-1.4-2.6-.8zM119.3 118.3q-.8 .8-.6 2.1 .2 1.3 3.1 2.3 3 1 3.3-1.6 .3-2.7-2.4-3.2-2.6-.4-3.4 .4zM120.7 128.3q.9-2.4-.3-2.9-1.3-.4-2.1 .6-.8 1.1 0 3 .7 1.8 1.1 1.7 .3-.1 1.3-2.4zM128.9 129.5q.2-1.9-1.6-2.7-1.7-.7-3.3 3-1.6 3.7 1.5 2.6 3.2-1 3.4-2.9zM138.3 130q0-.3-2.5-1.9-2.4-1.6-3.2-1.1-.9 .4-1.1 2.7-.3 2.2 1.6 3.4 1.8 1.3 3.5-.8 1.7-2 1.7-2.3zM131 138.8q2.6-.7 2.4-1.3-.1-.6-1.9-1.8-1.8-1.2-4.2-.2-2.5 1-.7 2.5 1.8 1.5 4.4 .8zM122.6 140q-.3 .1-1.2 1.7-.9 1.6 1.4 3.1 2.2 1.4 2.6-.5 .4-2-1-3.2-1.5-1.1-1.8-1.1zM131.8 142.5q-2 .3-2.4 2-.3 1.7 2 2.1 2.2 .4 2.3-2 .2-2.4-1.9-2.1zM114.3 146.5q1.4-2-.8-3.7-2.2-1.7-4.6-.4-2.4 1.3-2 2.9 .4 1.5 3.2 2.3 2.8 .8 4.2-1.1zM143.8 -1q-1.2 0-.7 .5 .5 .4 1.2 0 .6-.5-.5-.5zM146.3 1.5q-1.4 1-.8 2.2 .6 1.2 3.2 1.7 2.5 .5 2.9 .3 .5-.3 0-2.6-.4-2.2-2.2-2.4-1.8-.2-3.1 .8zM158.8 8.9q1.4 1.9 2.7 1.5 1.3-.3 1.3-1.4 0-1.2-.8-3-.8-1.9-2.7-.5-1.9 1.5-.5 3.4zM154 8.5q-.6 .1-.8 2.5-.3 2.3 .5 2.8 .8 .4 1.6 .3 .7-.1 1.2-1.1 .4-1.1-.7-2.8-1.2-1.8-1.8-1.7zM141.1 14.6q1.3-.8 1.2-1.2-.2-.3-1.8-.3-1.6 .1-1.2 1.2 .4 1.1 1.8 .3zM149.6 16.9q-1 .4-1.2 1.8-.2 1.5-1.1 3.3-.9 1.7-1.3 1.6-.4-.2-1.1 .2-.8 .4-.8 1.7-.1 1.3 .6 2.1 .7 .7 1.7 .5 1-.1 1.5 .3 .5 .5 3.1 .3 2.5-.3 3.3-2.6 .8-2.4 3.6-3.2 2.9-.8 .9-3.2-1.9-2.4-2.7-2.3-.7 .1-1 1.1-.3 .9-.9 .3-.6-.7-1.5-.6-.8 0-.8-.4 0-.5-.6-.8-.7-.4-1.7-.1zM140 31.1q-.1 1 .8 1.2 .8 .2 1.3-.9 .5-1 .2-1.4-.3-.3-1.3-.1-.9 .2-1 1.2zM148.2 30.7q-2.6 .5-3.4 2.1-.8 1.5-.5 2.1 .3 .6 3 1 2.7 .5 3.9-1 1.3-1.4 .4-3.1-.8-1.6-3.4-1.1zM162.8 36.4q0-1.4-.3-1-.2 .4 0 1.4 .3 .9 .3-.4zM147.2 46.4q-2.4-.2-4 1.7-1.5 1.8-.1 3.2 1.4 1.4 3.6 .9 2.2-.5 3.1-1.8 1-1.4 .9-2.2-.1-.8-.5-1.2-.5-.4-3-.6zM161.9 54.4q-.9 .4-1.6 2.4-.7 2-3.8 3.4-3.2 1.5-2.7 3.4 .4 1.9 4.7 .6 4.3-1.2 4.3-5.7 0-4.5-.9-4.1zM142.6 61.5q.3-.4-.2-1.5-.6-1-2.3-.4-1.8 .7 .2 1.5 1.9 .8 2.3 .4zM145 65.5q.2 1.1 2.4 1.2 2.2 .2 3-.3 .8-.5 .5-2.2-.3-1.7-2.7-1.6-2.4 .2-2.9 1.1-.6 .8-.3 1.8zM157.1 69.8q1 2.2 2.9 1.4 2-.8 1.6-2.8-.4-2-2.9-1.4-2.6 .7-1.6 2.8zM151.1 71.8q0 3 1 3.3 1 .4 2 .2 1-.2 1.5-.9 .4-.7-1-3.9-1.3-3.2-2.4-2.5-1.2 .8-1.1 3.8zM147.2 73.5q1.3 .3 1.4-1.7 0-1.9-1.5-2-1.5-.2-1.3 1.6 .1 1.8 1.4 2.1zM141.1 74.5q1.6-1 1.3-2.4-.3-1.4-2.3-.8-2 .6-1.3 2.5 .7 1.8 2.3 .7zM151.1 79q.2-1.9-.6-2.1-.9-.1-1.7 2.4-.8 2.6 .6 2.1 1.5-.6 1.7-2.4zM155.4 78.4q-.4-.3-.8 .9-.4 1.2 0 1.6 .3 .3 .7-.9 .4-1.2 .1-1.6zM162.1 84.3q.7-.7 .2-2.4-.5-1.7-2-1.9-1.4-.1-1.6 1.5-.2 1.7 1.3 2.5 1.4 .9 2.1 .3zM158.2 88.7q1.4-.9 1.4-1.3 0-.3-1.5-1.3-1.5-.9-2.3 .2-.8 1.1 .1 2.2 .9 1 2.3 .2zM152.7 93.1q1.6-.6 1.7-1 .1-.5-1-1.8-1-1.2-2.3-1.2-1.3 0-1.8 .9-.4 .8 .7 2.2 1.1 1.4 2.7 .9zM161.9 92.1q-.9-1.2-2.5-.4-1.6 .8-1.9 1.2-.2 .5 .8 1.7 1 1.2 2.7 .9 1.8-.4 1.8-1.3 0-.9-.9-2.1zM148.1 96.4q.1-.6-1.1-1.7-1.1-1.2-2-1.1-.8 .1-1.3 1-.6 .9 .5 2.1 1.1 1.2 2.4 .8 1.4-.4 1.5-1.1zM161.4 98.2q-1.5 .3-2.1 1.9-.5 1.7-.3 2.3 .2 .6 2 .8 1.8 .2 1.8-2.5 0-2.8-1.4-2.5zM142.5 101.4q.2-.5-.5-1.1-.7-.5-1.5 .6-.8 1 .5 1 1.3 0 1.5-.5zM145.4 102.1q-.3 1-1.3 1.7-1 .6-1.4 1.8-.5 1.2 .8 3.4 1.2 2.2 4.5 2.5 3.2 .2 3.8-.7 .7-1 1.7 .1 .9 1 2.1 .4 1.1-.6 .8-1.9-.3-1.3-1.7-1.1-1.5 .2-1.1-.7 .3-.9-.4-2-.8-1.1-2.2-2-1.3-1-1.5-2.2-.2-1.3-2-.8-1.9 .5-2.1 1.5zM160.5 111q.9 .5 1.6-.3 .7-.8 .7-2.8 0-2-1.7-2.1-1.7 0-2 .5-.3 .5 .1 2.3 .3 1.9 1.3 2.4zM159 115.6q.7-1.6 0-2-.8-.4-2.3 .4-1.4 .7-1.7 1.3-.2 .5 .4 1.3 .6 .8 1.7 .7 1.2-.2 1.9-1.7zM161.8 119.1q1 1 1-1.3 0-2.3-.3-2.5-.3-.1-1 1.4-.6 1.5 .3 2.4zM152.9 120.5q.2-1.2-.1-1.5-.3-.4-1.1-.2-.8 .2-1 .8-.2 .6 .4 1.3 .6 .7 1.1 .7 .4 0 .7-1.1zM159.6 124.1q.4-.1 .5-.9 .1-.8-.6-1.7-.7-.9-1.5-.9-.9 .1-1 1 0 .9 1.1 1.7 1.1 .9 1.5 .8zM162.8 130.7q0-3.6-1.2-3.4-1.1 .1-1.4 .9-.4 .9 1.1 3.5 1.5 2.7 1.5-1zM149.2 134.8q2.2 .1 2.6-1.4 .5-1.5-.9-2.7-1.4-1.2-3.5-.7-2 .5-1.2 2.6 .8 2.2 3 2.2zM158.9 133.6q-.8-1.7-2.2-1.1-1.4 .5-1.8 1.9-.3 1.4 .3 2.2 .6 .8 2.5-.3 2-1.1 1.2-2.7zM143.9 133.2q-1.2-2.8-1.9-3.1-.8-.4-3.3 2.9-2.6 3.2-2.4 4.7 .2 1.5 3.6 1.7 3.3 .1 4.2-1.6 .9-1.7-.2-4.6zM159.7 138.9q-3.1 1.9-3 2.2 .1 .4 3 1.5 2.8 1.1 3-2.2 .1-3.3-3-1.5zM143.8 143.6q-.9-1.7-3.9-2-2.9-.2-3.1 2.3-.2 2.4 3.1 3 3.2 .6 4.1-.4 .8-1.1-.2-2.9zM154.9 145.6q-1 1.4-.7 1.9 .4 .6 3.1 .8 2.7 .3 3-.8 .2-1.1-2.1-2.2-2.3-1-3.3 .3zM148.4 148.6q2.5 0 .5-.6-2-.5-2.5 0-.5 .6 2 .6z" fill="#fff2fb" stroke="#4a0a44" stroke-width="0.5" stroke-opacity="0.5"/></g></svg>
<svg id="ma_m14" x="626.6" y="445.6" width="163.6" height="147.2" viewBox="0 0 163.6 147.2" overflow="hidden"><g filter="url(#soft)"><rect width="163.6" height="147.2" fill="#7c3690"/><rect width="163.6" height="147.2" filter="url(#heB)" opacity="0.35"/><rect width="163.6" height="147.2" filter="url(#maR)" opacity="0.4"/><ellipse cx="95.5" cy="85.6" rx="54.3" ry="41.3" fill="#6474c0" opacity="0.3" filter="url(#bl5)"/><ellipse cx="51" cy="71.5" rx="17.4" ry="17.4" fill="none" stroke="#4a68bc" stroke-width="10.4" opacity="0.95" filter="url(#bl3)"/><path d="M60.7 48.7Q69.4 66.1 67.2 81.3Q65.1 96.5 61.8 106.2Q58.6 116 67.2 122.5Q75.9 129 85.7 128L95.5 126.9" fill="none" stroke="#4a68bc" stroke-width="13" stroke-linecap="round" stroke-linejoin="round" opacity="0.75" filter="url(#bl3)"/><path d="M95.5 66.1Q115 57.4 125.9 56.3Q136.7 55.2 147.6 57.4L158.5 59.6" fill="none" stroke="#4a68bc" stroke-width="15.2" stroke-linecap="round" stroke-linejoin="round" opacity="0.8" filter="url(#bl3)"/><path d="M65.1 100.8Q91.1 107.3 105.2 109.5Q119.4 111.7 132.4 107.3Q145.4 103 151.9 95.4L158.5 87.8" fill="none" stroke="#4a68bc" stroke-width="13" stroke-linecap="round" stroke-linejoin="round" opacity="0.7" filter="url(#bl3)"/><path d="M115 48.7Q132.4 42.2 145.4 40L158.5 37.8" fill="none" stroke="#5f80cc" stroke-width="8.7" stroke-linecap="round" stroke-linejoin="round" opacity="0.6" filter="url(#bl3)"/><ellipse cx="51" cy="71.5" rx="12.6" ry="13" fill="#8a3590" filter="url(#bl1)"/><rect width="163.6" height="147.2" filter="url(#maS)" opacity="0.4"/><rect width="163.6" height="147.2" filter="url(#maD)" opacity="0.35"/><rect width="163.6" height="147.2" filter="url(#mbL)" opacity="0.45"/><rect width="163.6" height="147.2" filter="url(#maW)" opacity="0.6"/><path d="M65.1 45.4L58.6 51.3" fill="none" stroke="#dfe9fb" stroke-width="1.7" stroke-linecap="round" stroke-linejoin="round" opacity="0.9" filter="url(#bl1)"/><path d="M97.6 61.7L110.7 63.9" fill="none" stroke="#e4ecfb" stroke-width="2" stroke-linecap="round" stroke-linejoin="round" opacity="0.9" filter="url(#bl1)"/><path d="M149.8 54.1L159.5 56.3" fill="none" stroke="#e4ecfb" stroke-width="1.7" stroke-linecap="round" stroke-linejoin="round" opacity="0.9" filter="url(#bl1)"/><path d="M46.6 96.5L56.4 103" fill="none" stroke="#cfe0fa" stroke-width="1.7" stroke-linecap="round" stroke-linejoin="round" opacity="0.8" filter="url(#bl1)"/><path d="M7.8 1.9q-.4-1.8-3.2-1.9-2.9-.1-4.1 1.1-1.2 1.2-.1 3.4 1 2.1 4.4 .7 3.3-1.5 3-3.3zM-1 7q0 1.2 .3 .7 .4-.5 0-1.1-.3-.7-.3 .4zM3 14.7q1.1-.4 2.1-.1 1.1 .3 1.9 2.4 .9 2.1 1.6 2.7 .8 .6 1.5 .6 .7-.1 1.7 .7 .9 .8 .5 1.2-.4 .4-.1 1 .3 .7-2.5 .6-2.8-.1-3.4 2.1-.6 2.1-.6 3.5 .1 1.4-.4 3.6-.6 2.3 1 3.6 1.5 1.4 3.6 1.7 2.1 .3 4.1 0 2-.3 2.3-.7 .4-.5 .4 0 .1 .5 1.4 .4 1.3-.1 3.5 1.5 2.2 1.6 2.7 1 .5-.6 .6-1.4 0-.8-2.5-1.3-2.5-.4-3.4-2-1-1.6 .2-3.1 1.1-1.4 .4-2.2-.8-.9 .5-1.6 1.3-.8 1.4-1.8 .1-1-1.7-1.4-1.8-.4-2.2 .2-.4 .6-.8-.5-.3-1.1-.9-1.2-.6-.1-.7-.8-.1-.7 1.4-1.1 1.4-.4 1.5-2.3 .1-1.9 1.4-2.9 1.3-1 .5-2.8-.9-1.7 .9-2.6 1.7-.8 1.1-2.3-.7-1.4-.6-2.9 .1-1.5-.9-2.6-.9-1.1-2.9 .6-2 1.8-1.3 3 .6 1.2 .6 2.3 0 1.2-1.1 .9-1.2-.3-1.2-.7 0-.5-.7-1.5-.7-1-1.8-1.3-1.1-.2-1.7 3-.7 3.2-1.3 4.1-.5 .8-1.4 .1-.9-.7-.4-4.2 .5-3.4-2.7-2.1-3.3 1.3-4.4 2.3-1.2 1.1-1.2 2.1 0 1 1.5 1.8 1.4 .8 2.5 .4zM-1 18.1q0 .9 .4 .3 .3-.6 0-.9-.4-.3-.4 .6zM5.5 19.5q-1.3-2.2-2-1.9-.7 .4-1.3 1.6-.5 1.2 .7 3.3 1.2 2.2 2.6 .8 1.4-1.5 0-3.8zM.5 25.8q1-.5 .2-2.2-.8-1.7-1.2-1.7-.5 0-.5 2.1 0 2.1 .3 2.2 .3 .2 1.2-.4zM-.7 43.6q.2 .3 2.3 0 2-.4 1.3-3-.7-2.6-2.3-1.6-1.6 1.1-1.6 2.7 0 1.6 .3 1.9zM9 46.5q-.1-2.1-1.4-3.4-1.3-1.4-2-.7-.8 .7-1.3 2.3-.5 1.7-2.2 2-1.7 .4-1.9 1.3-.2 .9 1.5 2.6 1.7 1.7 2.2 1.5 .4-.2 .5-1.4 .1-1.1 1 .1 1 1.1 2.4-.5 1.4-1.7 1.2-3.8zM.1 55q1.1-.3 0-1.7-1.1-1.4-1.1 .3 0 1.7 1.1 1.4zM4.1 57.6q.5 1.5 1.9 1.6 1.3 0 1.7-.8 .3-.9-.9-2.4-1.3-1.6-2-1.3-.7 .3-1 .8-.2 .6 .3 2.1zM.1 62.8q1.1 .1 .7 2.8-.4 2.7 .9 6.4 1.2 3.7-.6 6.1-1.9 2.5-1.3 3.7 .6 1.2 2 2.4 1.4 1.2 2.1 2.9 .7 1.7 2.6 1 2-.8 2.1-1.6 .2-.7-.7-1.7-1-1-.5-2.3 .5-1.4 .2-2.9-.2-1.6-.7-1.7-.6-.2-.5-.7 .2-.5-1.2-1.1-1.4-.5-.3-2.5 1.1-1.9 1.2-3.7 .1-1.7-.6-3.7-.7-2-.2-1.7 .5 .4 1.5 .2 1-.2 1.3-1.3 .3-1.1 0-1.5-.4-.4-2-.5-1.7 0-2 .4-.3 .4-.6-.1-.3-.6-.9-.3-.5 .2-.2-.5 .2-.6-.3-2.2-.6-1.5-1.8-1.3-1.3 .2-1.3 2.7 0 2.5 1.1 2.7zM-.6 74.2q.4 .2 .9-.5 .6-.8-.1-1.6-.7-.9-.9-.8-.3 0-.3 1.3 0 1.3 .4 1.6zM4 95q-1.5-2.3-2.2-2-.8 .4-1.3 1.5-.6 1.2 1.1 3.3 1.6 2.2 2.7 .9 1.1-1.3-.3-3.7zM-.2 108.3q.8-.3 1.4-2.5 .6-2.2 .5-2.4-.1-.2-1.4 .2-1.3 .5-1.3 2.8 0 2.2 .8 1.9zM3.6 106.2q-.6 2.2 .8 3.2 1.5 1.1-.1 1.9-1.5 .8-2.3 .1-.7-.7-1.7-.4-.9 .4-.7 1.9 .2 1.6 .8 1.8 .6 .2 .9 1.8 .3 1.6 .9 1.9 .5 .4 .7 2.2 .2 1.8 1.2 1.8 .9-.1 1.8-.8 1-.8 1.3-.7 .3 .2 1.2-1.1 .9-1.2 1.1-.8 .2 .5 .7 .7 .5 .1 1.4-1 .9-1.2 1-2.5 .2-1.4-.1-2.8-.2-1.4-1.2-2.6-1-1.2-2.3-1.7-1.2-.5-1.6-.3-.4 .3-.4-1.1-.1-1.4-1.5-2.5-1.3-1.1-1.9 1zM-.3 122.2q.7 .1 .9-2.1 .1-2.2-.7-2.7-.9-.5-.9 2.1 0 2.6 .7 2.7zM4.1 125q-1 0-.3 1.5 .8 1.5 2.4 1.3 1.7-.1 .3-1.5-1.3-1.4-2.4-1.3zM-.3 130.4q.6 1.3 1.4 1 .8-.4 1.1-1 .2-.6-.5-1.7-.7-1.1-1.7-.4-1 .7-.3 2.1zM6.8 134.5q.5 1.3 2.2 3.7 1.8 2.4 3.1 1.8 1.2-.6 1.5-2.8 .2-2.2 .6-2.7 .4-.4 1.4-.3 .9 0 1.2-.3 .3-.3 .1-1.9-.1-1.5-.7-1.9-.5-.4-1.1-.2-.5 .2-1.3-.9-.7-1-1.9-1.5-1.1-.4-2.4 1.1-1.2 1.4-3.2 1.6-1.9 .1-2 .6-.2 .5 .9 1.5 1.1 1 1.6 2.2zM5.2 136.4q.5-.2 .5-.7 0-.5-1.2-1.5-1.2-1-2-.6-.7 .5 .7 1.7 1.5 1.2 2 1.1zM7 147.3q-.2-.8-1.8-1.1-1.6-.3-1.9 .2-.3 .6-.2 1.2 .2 .6 2.1 .6 2 0 1.8-.9zM29.8 4.3q.7 .8 .5 3.3-.3 2.5-2 3.6-1.7 1-1.1 1.9 .5 .9 1.8 .3 1.3-.6 1.8 .6 .6 1.1-.7 1.8-1.3 .6-.4 2.7 .9 2.1 3.3 1.6 2.4-.4 2.4-1.6 .1-1.1-.2-1.4-.2-.2 1.2-.6 1.4-.4 1.7-3.4 .3-3 .9-2.6 .6 .5 1.1-.1 .4-.6 .7 1.7 .4 2.2 6.8 5.3 6.3 3.1 11.4 3.2 5 0 8-.7 3-.8 3.2-.3 .2 .5 1.4 .9 1.2 .4 3.2-.9 2-1.2-.3-2.8-2.2-1.6-2.8-1.3-.6 .4-1.4-1.6-.7-1.9-1.8-3.3-1.1-1.3 1-.6 2.1 .7 3.4-.8 1.3-1.5 .7-2.4-.5-.9-4-1.5-3.4-.6-3.1 1.3 .3 2-.6 1-.9-.9-3.8-2.4-3-1.4-2.5-1.8 .5-.4 .1-1.7-.5-1.4-1.9-2-1.4-.7-2.3-.7-.9 0-1.5 1.2-.6 1.2-4 2-3.3 .7-5.8 2.2-2.4 1.6-3.2 .6-.8-1-1.6-.2-.8 .8-1.4-.7-.7-1.5-1.9-2.2-1.3-.7-2.9 .4-1.6 1.1-1.7 .6-.1-.5-.7-.8-.6-.3-1.1 .5-.6 .9 .1 1.7zM26.7 8.4q1.8-.9 .9-2.1-1-1.1-2.3-.7-1.3 .5-1.3 1.4-.1 .9 .4 1.7 .4 .7 2.3-.3zM26.4 21.8q1.7-.6 .9-2.5-.9-1.9-2.1-.8-1.3 1.1-.9 2.5 .4 1.4 2.1 .8zM27.9 28.9q1.6-.6 1-2.3-.6-1.6-2.4-1.2-1.8 .4-1.9 1.6 0 1.2 .9 1.8 .9 .7 2.4 .1zM21.2 33.3q.5 1.2 1.9 1.5 1.5 .2 1.5-1.1 .1-1.4-.9-2-1-.7-1.9-.2-1 .5-.6 1.8zM30.1 38.9q-2 .3-1.9 .7 .1 .3 1.6 1.1 1.5 .9 2.5 .6 1-.4 .4-1.5-.6-1.1-2.6-.9zM19.4 41.6q-.8-.9-1.5-.7-.7 .2-.7 1.2 .1 1 1.6 .7 1.5-.4 .6-1.2zM25 46.5q-1-1.3-1.4 .1-.5 1.5-.1 1.8 .3 .4 1.1 .5 .9 .1 1.2-.5 .3-.5-.8-1.9zM16.5 49.6q.6 .6 .8 .1 .2-.6-.4-1-.7-.4-.8 0-.2 .4 .4 .9zM28.2 49.9q-.8 .9-.3 1.9 .5 1 1.3 1 .8 0 1.5-1 .8-1-.5-1.9-1.2-.8-2 0zM20.8 51q.4-.9-.1-.9-.4 .1-.7 .9-.2 .9 .1 .9 .4 0 .7-.9zM25.1 53.9q.3-.3 0-1.1-.2-.7-.6-.9-.3-.1-.9 .7-.5 .9 .4 1.2 .9 .4 1.1 .1zM12.1 58.4q.6 1 5.7 .9 5-.1 6.4-1.6 1.4-1.4-.4-2.2-1.9-.7-2.9-1.7-1-1-2.8-1.3-1.8-.3-3.9-.1-2.1 .1-4 .9-1.9 .7-1.3 1.8 .5 1 1.5 1.7 1 .7 1.7 1.6zM12.3 60.5q.2-.3-.3-1.3-.6-1-1-.9-.4 0-.8 1.2-.3 1.2 .9 1.2 1.1 0 1.2-.2zM25.1 62.4q.5 .7 1.8-.5 1.3-1.2 .4-1.9-.9-.7-1.8 .5-1 1.3-.4 1.9zM11.7 63.6q-1.1-.1-1.3 .6-.2 .8 .6 1.7 .9 .9 1.4-.7 .4-1.6-.7-1.6zM14.9 68.9q.5 .2 1.7-.9 1.2-1.2 1-2.5-.1-1.2-.9-1.5-.7-.3-1.5 2.2-.8 2.4-.3 2.7zM26.6 66.4q-1.1-1.2-2 .2-1 1.5-.5 2.3 .6 .8 2.1-.2 1.5-1.1 .4-2.3zM21.6 69.9q-.2-.6-1.1-.7-.8-.1-1.9 .8-1 .9-.6 1.9 .4 .9 2.1-.3 1.7-1.1 1.5-1.7zM27.6 75.1q-.3-.1-.9 .8-.7 .9 .3 1.9 .9 1.1 1.5 .5 .5-.7 0-1.9-.6-1.2-.9-1.3zM26.6 86.9q1 .7 2.5 .4 1.5-.2 1.7-1.1 .2-.9-1.3-2.4-1.6-1.5-2.9-.2-1.2 1.3-1.2 1.9 .1 .6 1.2 1.4zM23.7 94.4q1.4 .4 1.8-2 .3-2.5-.4-3.1-.7-.5-2.6 .9-1.8 1.3-1 2.5 .8 1.3 2.2 1.7zM16.4 108.8q-.5-.5-1.2 .4-.6 .9 0 1.7 .6 .8 1.2-.4 .6-1.2 0-1.7zM20.8 113q.4-1.6-.7-1.8-1.1-.2-1.7 1-.5 1.3 .1 2.1 .5 .8 1.2 .6 .7-.3 1.1-1.9zM25.1 112.5q-.7-.6-1.4 .5-.7 1.2-1.4 1.2-.7-.1-1.1 .5-.5 .6-1.4 .9-1 .4-1.1 2.6-.2 2.2 .4 3.3 .6 1.1 1.6 .9 1-.2 2.4-1.1 1.4-.9 1.5-3.1 .1-2.3-.3-2.8-.4-.6 .5-.6 .9 0 1-.9 .1-.9-.7-1.4zM14.1 114.9q-.9 .7-.4 1.7 .4 1.1 1.2 1.1 .8 0 1.6-.8 .8-.8 .3-1.6-.5-.9-1.1-1-.6-.1-1.6 .6zM29.3 119.4q.2-.9-1.1-1.7-1.2-.8-1.7-.5-.5 .3-.9 1.9-.4 1.5 1.6 1.3 1.9-.1 2.1-1zM22.5 123q-.6-.3-1.3 .1-.7 .5-.2 1.2 .5 .7 1.3-.1 .7-.9 .2-1.2zM27.5 122.6q-2 .3-2 .6 0 .4 1.6 1.6 1.6 1.3 2 1.2 .3 0 .8-.8 .5-.7 .1-1.9-.5-1.1-2.5-.7zM26 139.4q1 .8 2.9 .1 1.8-.7 3-1.8 1.2-1.1 .6-2.7-.6-1.6-2.6-.6-2 1-3.3 1-1.4 0-1.6 1.6-.1 1.6 1 2.4zM21.1 147.5q.2-.6-1.4-2.4-1.6-1.9-2.3-1.5-.6 .3-.4 2.1 .2 1.9 2.1 2.2 1.8 .3 2-.4zM12.2 148q2.3 0 2.1-2.1-.3-2-1.9-2.4-1.6-.3-2.4 .6-.9 .9-.5 2.4 .4 1.5 2.7 1.5zM26 148.2q2.1-.1 .9-.9-1.2-.9-1.9-.5-.7 .4-.9 .9-.1 .5 1.9 .5zM47.7 -.6q.2 .4 1.5 1.2 1.3 .7 2-.5 .7-1.1-1.5-1.1-2.2 0-2 .4zM45.4 -.4q-.1-.6-2.3-.6-2.1 0-2 1.6 .2 1.6 2.3 .6 2.1-1 2-1.6zM73.4 1.5q.8-1.9-1.3-1.9-2.1-.1-2.8 1.4-.7 1.6 1.3 2 1.9 .4 2.8-1.5zM79.2 5.9q.8-1.6 .3-3.6-.6-2.1-1.5-2.1-1-.1-2.1 2.4-1.1 2.4-.5 3.3 .7 1 1.9 1.2 1.1 .3 1.9-1.2zM77.9 26.2q1.4-.6 1.5-1.8 .1-1.2-.8-2.4-1-1.1-2.6-.2-1.6 .9-1.5 2.7 .1 1.8 1 2 1 .3 2.4-.3zM71.8 23.7q0-1.4-1.1-2-1.1-.7-2.2-.8-1 0-3 .9-1.9 .9-2.5 1.9-.6 1.1 0 2.2 .6 1.1 .1 1.4-.6 .4-.7 1.9-.1 1.5 3.5 .3 3.6-1.1 4.7-2.8 1.1-1.7 1.2-3zM30.4 26.8q-.8 1.6-.2 2.5 .5 1 .2 2.5-.3 1.5 1.2 2.2 1.6 .8 2.7 .6 1.2-.2 .7 .9-.5 1.2 .6 3.2 1 2.1 3.2 .8 2.2-1.3 1.2-3.8-1-2.5 1.4-5.2 2.4-2.7 1.6-4.5-.8-1.8-2.2-2.3-1.4-.6-2.5-.6-1.2-.1-1.8-.8-.5-.8-3.1-.4-2.6 .5-2.9 .8-.2 .3 .3 1.4 .4 1.1-.4 2.7zM78 31.6q.2 2.1 .7 1.9 .5-.2 1.4-1.9 .9-1.7 .5-2.3-.5-.6-1.6-.2-1.1 .4-1 2.5zM40.4 41.3q-2.4 1.7-1.2 3.3 1.2 1.6 2.2 2 1.1 .4 3-.9 1.9-1.3 1.7-3-.1-1.8-1.7-2.5-1.5-.6-4 1.1zM50.6 47.2q2.7 2.4 3.5 2 .8-.4 1.5-2.6 .8-2.2-.6-4-1.4-1.8-4.3-1.5-2.9 .3-2.8 2 .1 1.7 2.7 4.1zM73.5 56.8q.5 0 1.4-1.5 1-1.5 .5-3.2-.5-1.6-2.1-1.8-1.7-.3-2.4 2.2-.8 2.5 .6 3.4 1.5 1 2 .9zM51.9 56q-.5-1-1.7-.5-1.2 .5-1.4 1-.1 .5 1.8 .4 1.9 0 1.3-.9zM61.7 57.6q-1.2 1.9 .3 3.5 1.5 1.6 2.1 1.7 .7 .1 1.1-2.9 .5-3.1-.9-3.6-1.3-.6-2.6 1.3zM78.7 72.8q-.6-.2-1.6 .9-1.1 1.2-1.4 2.2-.4 1.1-.2 2.4 .2 1.3 .7 2.1 .5 .9 1.1 1 .7 .1 1.9-.9 1.1-1 1.2-2.3 .1-1.3-.5-3.3-.5-1.9-1.2-2.1zM36.3 85.5q-.9-.8-1.7-.4-.7 .4-.8 1.2-.2 .7 1.6 .3 1.7-.3 .9-1.1zM36.8 92.2q1.2-.1 1.4-.8 .2-.7 0-1.4-.3-.7-2-.3-1.7 .5-1.2 1.6 .6 1.1 1.8 .9zM65.9 106.5q.1-1.1-1.3-1.8-1.3-.7-2.7 2.2-1.5 2.9-.9 3.1 .6 .2 2.8-1.1 2.1-1.3 2.1-2.4zM37.2 108.5q.7 .1 1.5-1 .9-1.2 .8-1.4-.1-.3-1.6 .1-1.5 .4-1.5 1.2 .1 .9 .8 1.1zM48.7 115.5q0-2.3-1.4-3.3-1.4-1-2.4 0-.9 .9-1.1 3.1-.1 2.1 2.4 2.3 2.6 .2 2.5-2.1zM46.3 123.2q1.5 .3 1.6-1.3 .2-1.6-1.7-1.7-2 0-1.6 1.4 .3 1.3 1.7 1.6zM59.4 122.6q0 1.1 2.3 1.2 2.3 .1 2.3-1.7 0-1.9-2.3-1.3-2.3 .7-2.3 1.8zM32.2 126.5q.8 1.6 1.7 2 .9 .4 2-.9 1.1-1.3 1.2-3.1 .2-1.8-1.1-3.5-1.3-1.6-2.9-.1-1.5 1.6-1.7 2.8-.1 1.1 .8 2.8zM63.5 129.3q.2-2.9-2.3-2.9-2.6-.1-2.8 .2-.3 .3 0 2 .2 1.8 1.6 3.1 1.3 1.3 2.3 .9 1.1-.4 1.2-3.3zM40.3 127.4q-1.3-.7-4.5 1.2-3.2 1.9-3 4.5 .2 2.6 1.5 6.6 1.3 4 2.9 4.5 1.6 .4 3.3 .2 1.7-.2 2.1-.9 .4-.7 .9-.6 .5 .1 .8-1.1 .3-1.1 0-1.7-.2-.6 .6-2.6 .9-2.1-1.2-5.8-2-3.7-3.4-4.3zM65.2 135q-.9-.2-2 .1-1 .4-1.3 1.5-.4 1 1.3 2.2 1.6 1.2 2.5 .6 1-.5 .7-2.3-.3-1.8-1.2-2.1zM61.6 145.2q1.1 0 1.3-1.3 .2-1.3-1.5-2.5-1.7-1.1-1.3 1.4 .4 2.5 1.5 2.4zM53.8 143.8q-1.9 2.9-2.5 3.2-.5 .3-.6 .7 0 .5 3.2 .5 3.3 0 3.8-.7 .5-.8-.2-3.6-.7-2.9-1.2-2.9-.5 0-2.5 2.8zM46.6 148q1.2-.2 .2-.7-1.1-.6-1.3-.5-.2 .1-.2 .7 0 .7 1.3 .5zM34.7 147.5q-.9-.8-1.6 0-.6 .7 .9 .7 1.5 0 .7-.7zM41.7 148.2q1.1 0 .8-.5-.3-.5-1.1 0-.8 .5 .3 .5zM123 -.9q-1.8 0-1.2 .7 .6 .7 1.4 .7 .8 .1 1.1-.7 .4-.8-1.3-.7zM104.7 0q-1 .4-.8 .7 .2 .3-.4 1.1-.6 .8-.7 1.6-.2 .9 .6 2.4 .8 1.4 1.9 2 1.1 .6 2.3-.1 1.1-.6 1.9-2.1 .9-1.4 .2-2.2-.7-.7-.9-1.5-.2-.7-1.2-.9-1-.2-1.4-.8-.4-.7-1.5-.2zM83.4 2.9q1.3 0 1.4-1 .1-1.1-1.6-1.5-1.8-.5-1.5 1 .3 1.6 1.7 1.5zM126.4 5.1q.3-.5-.7-1.2-1.1-.7-1.8-.7-.6 .1-1.5 2.6-1 2.6 1.4 1.2 2.4-1.4 2.6-1.9zM81.7 6.2q-.3 .7 2.1 1.4 2.4 .7 2.7 0 .3-.7-.5-1.5-.8-.8-2.4-.7-1.6 .1-1.9 .8zM90.4 12.4q-.7 0-1.8 1.9-1 1.8 .8 3.9 1.7 2.1 2.5 1.9 .7-.2 1.9-2.1 1.2-1.9-.7-3.7-1.9-1.9-2.7-1.9zM108.8 18.8q2.2-.9 2.1-1.3-.2-.4-2.5-1.8-2.3-1.4-2.9-1.3-.5 .1-1.7 1.2-1.1 1.1 .8 2.6 2 1.5 4.2 .6zM100.2 20.7q-1 1.2-.2 2.2 .8 1 2.3 1 1.6 0 1.9-.9 .3-1-1.3-2.2-1.7-1.3-2.7-.1zM108.9 21q-1.7 .9-2.1 2.4-.4 1.5 2.1 2.7 2.4 1.2 3.7-1.3 1.2-2.4 1.1-3.1-.1-.6-.7-1.1-.7-.5-1.5-.5-.8 0-2.6 .9zM129.9 24.5q-1.3-2.1-2.3-1.9-1.1 .1-1.6 1.3-.5 1.2-.1 2.1 .4 .9 2.6 1.6 2.1 .7 2.4-.1 .3-.8-1-3zM84.8 23.2q-2.6 .5-2.8 1.9-.2 1.4 .6 2.4 .8 .9 2.4 1.2 1.6 .3 2-2.9 .4-3.1-2.2-2.6zM97.6 24.7q-1.2-1.3-1.6-1.2-.5 .2-1 2.8-.5 2.5 .3 2.9 .9 .5 2 0 1-.4 1.2-1.8 .3-1.4-.9-2.7zM106.7 29.7q1 .4 1.7-.3 .8-.7-.8-1.4-1.7-.8-1.8 .2-.1 1.1 .9 1.5zM118.5 33.2q.4 2.6 1.7 4.2 1.4 1.7 2.5 1.6 1.1 0 2.1-.7 1.1-.7 .7-2.8-.4-2.1-2.2-5.4-1.8-3.2-2.9-2.7-1.2 .5-1.8 1.8-.5 1.3-.1 4zM106.3 33.6q.4-1.5-.7-2.1-1.1-.5-1.9 .1-.8 .7 .7 2.1 1.5 1.3 1.9-.1zM113.9 34.8q.9 .2 1.7-1 .9-1.3-.8-2-1.7-.8-1.7 1 0 1.8 .8 2zM88.5 36.4q.4 .3 1.2-.4 .9-.8 .6-2.2-.3-1.5-.9-1.7-.6-.1-.9 1.9-.4 2 0 2.4zM91.6 40.1q.6 1 1.5 1.2 1 .2 1.3-.1 .4-.3-.1-1.8-.5-1.6-1-1.7-.5-.1-1.4 .6-.9 .7-.3 1.8zM98.4 45.3q1.6-.2 .4-1.5-1.2-1.2-1.9-.9-.8 .4-.5 1.5 .3 1.1 2 .9zM79.7 47.2q1.5 .2 2.8 1.5 1.3 1.3 2.1 1.3 .8 0 1.2-.9 .4-.8 1.4 .4 1 1.3 1.9 1.8 .9 .5 3.1-.6 2.1-1.1 1.9-3.1-.2-2-1.3-2.6-1-.5-1.9-1.5-.9-1.1-3 .4-2.1 1.4-2.2 2-.2 .5-1-.2-.8-.8-.9-1.5-.1-.8 1.4-3 1.5-2.2 1.1-2.6-.4-.4-1.4-.3-1 .1-2.1 2.3-1.1 2.2-2.8 2.4-1.8 .2-1.8 2.1-.1 1.9 1.5 2.1zM99.2 50.7q.7 0 .8-1.2 .1-1.2-1.7-1.1-1.8 0-.8 1.2 1 1.1 1.7 1.1zM122.5 49.5q-.6-.7-1.7 .4-1.2 1.1-.6 1.8 .5 .7 1.7-.4 1.2-1.2 .6-1.8zM119.9 59.9q1.2 .3 2.9 .2 1.6-.1 2.5-.5 .9-.4 1-1.1 .1-.8-1.7-.4-1.9 .5-2.9-.1-.9-.6-2.2 .1-1.3 .6-1.1 1.1 .2 .4 1.5 .7zM105.2 72.4q-.6-1.4-1-1.6-.5-.1-1.3 .6-.8 .7-.2 2.1 .6 1.4 1.9 .9 1.2-.5 .6-2zM114.8 74.4q.4 2.4 2.3 1.8 1.9-.6 1.5-2.4-.5-1.9-1.4-2.2-1-.3-1.9 .1-1 .3-.5 2.7zM119.4 82.4q1.9-.4 2.5-2.4 .6-2-.6-2.3-1.2-.3-3.6 .9-2.5 1.2-1.3 2.8 1.1 1.5 3 1zM87.5 94.4q.2-1-1.5-2.4-1.6-1.3-2.2-.9-.5 .4-.3 2.1 .1 1.7 2 2 1.9 .3 2-.8zM126.1 104.3q.3 .7 1.5 .8 1.2 0 .9-1.5-.2-1.6-1.4-.8-1.3 .8-1 1.5zM117 104.7q.3 0 .8-.9 .4-.9-.8-1-1.2-.1-.8 .9 .4 1 .8 1zM118 108q-.6-.7-1-.7-.5 0-1.3 1.1-.9 1.2-.4 1.9 .4 .8 1.8 .5 1.4-.3 1.4-1.2 .1-.9-.5-1.6zM127 110.9q.7 .4 .8-.8 .1-1.2-.3-1.3-.4-.1-.8 .8-.3 1 .3 1.3zM95.5 122.4q1.1-.1 1.1-1.2 0-1.2-.3-1.5-.3-.3-2 .2-1.7 .5-.8 1.6 .9 1 2 .9zM118.7 122q.7-1.4-.8-1.6-1.4-.1-1.8 1.3-.5 1.5 .8 1.6 1.2 0 1.8-1.3zM120.2 132.2q.7 2 3.7 2.7 3.1 .8 5.6 .7 2.6-.1 5.1 .3 2.6 .3 5.7-4.4 3.2-4.7 1.9-6.7-1.2-2-7.7-3.2-6.5-1.2-9 .5-2.5 1.6-4.4 4.1-1.8 2.5-2.9 1.1-1-1.4-2.5-2.1-1.6-.8-2.8-1.8-1.1-1.1-2.4-.2-1.3 .9-2 2.5-.6 1.6-1.5 2.5-.8 .9 .6 3.1 1.4 2.2 2.7 3.1 1.3 .9 2.7 .3 1.5-.6 2.6-1.6 1-1 1.4-2.1 .3-1.1 .8-.6 .4 .5 .9 .5 .5 .1 .6-.3 .2-.4 .9 1.6zM118.7 133.9q-1.1-.2-2.6 .7-1.5 .9-1.8 2.3-.3 1.4 1.3 2.3 1.6 1 3.1-1.4 1.5-2.4 1.4-3.1-.2-.7-1.4-.8zM98.1 136.3q-1-1.4-3.3-.9-2.4 .4-2.8 1.3-.5 .9-.2 1.9 .2 1 1 1.7 .8 .7 2.6 .5 1.9-.3 2.8-1.7 .9-1.5-.1-2.8zM91.1 142.9q2.1 .1 2.1-.3 .1-.4-.7-1.3-.7-1-2.3-1.1-1.5 0-1.9 .3-.4 .3 .2 1.2 .5 1 2.6 1.2zM112.6 145q1.8 .7 2.8-.9 1-1.7-.9-2.7-1.9-1.1-3-.6-1.1 .6-.9 2 .3 1.4 2 2.2zM107 145.9q1.4-1.6 1-2.5-.4-.8-2.6 .2-2.2 1.1-2.4 1.5-.2 .5 1.2 1.4 1.4 1 2.8-.6zM111 148.2q2.3 0 .8-.8-1.5-.8-2.3 0-.8 .8 1.5 .8zM147.4 -.5q.6 .6 1 .5 .5 0 .8-.5 .3-.5-1.1-.5-1.3 0-.7 .5zM133.4 -.5q.6 .5 1.2 0 .6-.5-.7-.5-1.2 0-.5 .5zM140.6 1.3q.5-2.1-1.2-2.2-1.7-.1-2 .9-.3 .9 1.2 2.1 1.4 1.2 2-.8zM131.7 3q.2-.4-.4-.7-.5-.3-1.8 .5-1.2 .9 .4 .7 1.6-.2 1.8-.5zM151.2 1.6q-.8 .3-1.5 .9-.7 .6-.5 2.7 .1 2 .5 3 .4 1 1.3 1.5 .9 .5 2.2-.9 1.4-1.3 1.6-3.6 .2-2.3-1.3-3.1-1.4-.7-2.3-.5zM155.5 7q0 .5 1.7 1.3 1.7 .8 2.3 .1 .6-.7 .4-1.9-.3-1.2-1.1-1.5-.9-.4-2.1 .5-1.2 .9-1.2 1.5zM163.5 9.4q-1.2-.2-1.9 .7-.7 .8 1.1 2.2 1.9 1.4 1.9-.7 0-2-1.1-2.2zM138 14.3q1.5-.9 1.3-3.6-.3-2.6-2-2.3-1.8 .2-3 2.3-1.3 2.1-1.3 2.8 0 .7 1.8 1.2 1.7 .5 3.2-.4zM142.7 17.7q-1.3-1.6-2.6-1.1-1.2 .5-.4 2.9 .8 2.3 2.2 1.7 1.5-.7 1.7-1.3 .3-.6-.9-2.2zM134.7 23.5q1.4-.6 .4 .6-1 1.1-1.1 1.9-.2 .8 .4 2.7 .7 1.9 1.5 2.8 .8 .9 2.6-1.8 1.8-2.6 1.7-3.9-.1-1.3-.8-2.2-.7-.9-1.7-1.3-1-.4-1.6-2.5-.7-2-1.9-2.3-1.2-.2-2.1 1.5-.9 1.7 .2 3.4 1 1.7 2.4 1.1zM154.1 28.2q1.7-.3 3.1-1.2 1.3-.9 1.5-.3 .2 .6 1.8 .4 1.6-.1 2.3-.9 .7-.9 .4-2.1-.4-1.2-1.8-.9-1.5 .4-1.5-1.6 0-2.1-.8-3.8-.7-1.8-2-1.1-1.3 .6-3 .3-1.7-.2-2.5 1.4-.7 1.7-2.1 3-1.5 1.2 .7 4.2 2.1 3 3.9 2.6zM164.6 29.6q0-2.1-.3-1.6-.4 .5 0 2.1 .3 1.6 .3-.5zM159.9 29.5q-1.5 .2-1.9 .6-.4 .5-.4 1.8 .1 1.4 .8 1.5 .8 .2 2.2-.6 1.4-.8 1.1-2.1-.3-1.3-1.8-1.2zM148.1 40.2q-1.1-2.6-1.9-2.4-.7 .1-1.3 1.7-.7 1.6 1 3.1 1.6 1.4 2.5 .9 .8-.6-.3-3.3zM164.3 40.4q-.4-.4-1.1-.4-.8 0-1.5 1.3-.7 1.2 0 2.4 .7 1.1 1.8 .4 1.1-.6 1.1-1.9 0-1.3-.3-1.8zM136.4 44.6q.8-.1 1.5-1.2 .7-1.1-.8-2-1.4-.9-2.1-.1-.7 .7-.1 2 .7 1.3 1.5 1.3zM136.4 47.1q-1.3 .1-1.7 .7-.4 .7 0 1.9 .4 1.2 1.6 1.8 1.1 .6 2 .5 .8-.2 1.1-1.2 .3-1-.7-2.4-.9-1.3-2.3-1.3zM162.4 50.4q-.4 .4 .1 1.4 .4 1 1.3 .7 .8-.2 .8-1.1-.1-.9-1-1.2-.8-.3-1.2 .2zM152.8 53.6q-1.1 .4-1.3 1-.2 .6 .2 1.2 .5 .6 4 1.4 3.4 .8 4.7-.6 1.3-1.4-.1-3.2-1.3-1.7-2.3-1.7-.9 0-1.9 .9-1 .8-1.6 .7-.7-.1-1.7 .3zM130.1 59.5q.3 .2 .5-.7 .1-.9-.2-1.2-.3-.2-.5 .7-.1 1 .2 1.2zM134.2 60.8q.4 .3 1-.3 .7-.6 .3-1.2-.5-.6-.9-.6-.3 0-.6 .9-.2 .9 .2 1.2zM163.5 58.5q-1.1-.6-2.1 .2-1 .9-.8 3 .3 2.1 .8 2.4 .6 .3 1.9-.6 1.3-.8 1.3-2.6 0-1.7-1.1-2.4zM163.9 66.9q.7 1.2 .7-.5 0-1.8-.7-1.2-.7 .5 0 1.7zM152.6 65.6q-1.6-1.4-2-1.3-.4 0-1.3 1.1-1 1-.2 4 .8 3 2.8 2.2 2-.9 2.1-2.8 .2-1.9-1.4-3.2zM148.4 93.3q-1.2 .6-.5 2.1 .7 1.5 2 1.3 1.2-.1 1.7-.7 .4-.6-.8-2-1.2-1.3-2.4-.7zM134.8 116.9q1.5-.4 1.4-1.5-.1-1.1-.8-1.5-.7-.4-2.1 .3-1.5 .7-.7 1.9 .7 1.2 2.2 .8zM155.3 129.6q.7-3.2-1.4-2.9-2 .4-2.5 3.4-.5 3 1.4 2.9 1.9-.1 2.5-3.4zM147.8 139.4q1.4-1.3 1.4-4 .1-2.7-.5-3.7-.7-1-1.5-1.3-.8-.2-1.4 .3-.6 .5-1 1.9-.3 1.4-1 2.2-.7 .8 0 3.7 .7 2.8 1.7 2.5 .9-.4 2.3-1.6zM157.5 142q1.8 1.3 2.7-.3 .9-1.7 .5-3-.4-1.4-1.2-1.6-.9-.2-2.4 1.7-1.5 1.8 .4 3.2zM150.3 146.7q1.5-.3 1.4-2.7-.1-2.3-.9-2.6-.7-.3-2.6 .8-1.9 1.1-.7 3 1.2 1.9 2.8 1.5zM163.8 142.6q-.8-.3-1.4 .7-.6 1-.1 1.6 .4 .6 1.3 .9 .8 .3 .9-1.3 .1-1.6-.7-1.9zM155.3 143.9q-.5-.5-.7 .3-.2 .8 0 1 .2 .2 .7-.3 .6-.5 0-1zM146.1 148q.2-.3-.8-1.5-.9-1.2-2.5 .2-1.6 1.5 .8 1.5 2.4 0 2.5-.2z" fill="#fff2fb" stroke="#4a1a60" stroke-width="0.5" stroke-opacity="0.45"/><path d="M68.3 114.3L74.2 112.8L79.8 113.8" fill="none" stroke="#fff2fb" stroke-width="1.5" stroke-linecap="round" stroke-linejoin="round" filter="url(#bl1)"/><path d="M73.3 109.1L74.2 113.4L75.9 119.3" fill="none" stroke="#fff2fb" stroke-width="1.1" stroke-linecap="round" stroke-linejoin="round" filter="url(#bl1)"/><path d="M69.4 109.5L79.2 118.2" fill="none" stroke="#fff2fb" stroke-width=".9" stroke-linecap="round" stroke-linejoin="round" opacity="0.9" filter="url(#bl1)"/><path d="M106.3 96L115 93.9L124.8 94.7" fill="none" stroke="#fff2fb" stroke-width="2" stroke-linecap="round" stroke-linejoin="round" filter="url(#bl1)"/><path d="M113.9 88.9L115.5 94.7L118.3 101.9" fill="none" stroke="#fff2fb" stroke-width="1.3" stroke-linecap="round" stroke-linejoin="round" filter="url(#bl1)"/><path d="M108.5 91L122.6 99.7" fill="none" stroke="#fff2fb" stroke-width="1.1" stroke-linecap="round" stroke-linejoin="round" opacity="0.9" filter="url(#bl1)"/><path d="M123.3 88.2L110.7 100.8" fill="none" stroke="#fff2fb" stroke-width=".9" stroke-linecap="round" stroke-linejoin="round" opacity="0.9" filter="url(#bl1)"/><path d="M150.2 71.5L151.9 85.6L148.9 101.9" fill="none" stroke="#fff2fb" stroke-width="1.3" stroke-linecap="round" stroke-linejoin="round" filter="url(#bl1)"/><path d="M151.9 85.6L161.1 81.7" fill="none" stroke="#fff2fb" stroke-width="1.1" stroke-linecap="round" stroke-linejoin="round" filter="url(#bl1)"/><path d="M151.1 79.5L144.1 75.2" fill="none" stroke="#fff2fb" stroke-width=".9" stroke-linecap="round" stroke-linejoin="round" opacity="0.9" filter="url(#bl1)"/><path d="M47.3 69.8L54.9 72.6" fill="none" stroke="#e7b6d0" stroke-width=".9" stroke-linecap="round" stroke-linejoin="round" opacity="0.9" filter="url(#bl1)"/><path d="M51 67.8L50.3 75.2" fill="none" stroke="#e7b6d0" stroke-width=".7" stroke-linecap="round" stroke-linejoin="round" opacity="0.9" filter="url(#bl1)"/></g></svg>
<svg id="ma_s28" x="446" y="615.6" width="162" height="146.2" viewBox="0 0 162 146.2" overflow="hidden"><g filter="url(#soft)"><rect width="162" height="146.2" fill="#7c2260"/><rect width="162" height="146.2" filter="url(#maR)" opacity="0.6"/><path d="M-1.6 39.6Q20.4 36.3 32.4 38Q44.5 39.6 51.1 46.8Q57.7 53.9 58.8 61.6Q59.9 69.3 55.5 77Q51.1 84.7 44.5 88Q37.9 91.3 27 90.2Q16 89.1 7.2 86.9L-1.6 84.7" fill="none" stroke="#4a55b8" stroke-width="7.5" stroke-linecap="round" stroke-linejoin="round" opacity="0.85" filter="url(#bl2)"/><ellipse cx="24.8" cy="62.7" rx="26.4" ry="17.6" fill="#8a2a78" opacity="0.9" filter="url(#bl2)"/><path d="M.6 58.3L27 55L7.2 62.7L31.3 64.9" fill="none" stroke="#e6b8d6" stroke-width="1.1" stroke-linecap="round" stroke-linejoin="round" opacity="0.8" filter="url(#bl1)"/><path d="M2.8 68.2L29.2 69.3" fill="none" stroke="#e6b8d6" stroke-width=".9" stroke-linecap="round" stroke-linejoin="round" opacity="0.7" filter="url(#bl1)"/><path d="M18.2 86.9L31.3 89.1" fill="none" stroke="#f2e6f6" stroke-width="1.3" stroke-linecap="round" stroke-linejoin="round" opacity="0.9" filter="url(#bl1)"/><ellipse cx="104.9" cy="51.3" rx="15.4" ry="12.7" fill="none" stroke="#a82a5c" stroke-width="6.6" opacity="0.8" filter="url(#bl2)"/><ellipse cx="104.9" cy="51.3" rx="11.4" ry="8.8" fill="none" stroke="#e8b0c4" stroke-width="1.1" opacity="0.7" filter="url(#bl1)"/><ellipse cx="97.3" cy="111" rx="6.2" ry="5.7" fill="#c81820" opacity="0.95" filter="url(#bl1)"/><path d="M103.8 2.3L117 5.6" fill="none" stroke="#c82030" stroke-width="1.8" stroke-linecap="round" stroke-linejoin="round" opacity="0.8" filter="url(#bl1)"/><path d="M134.6 91.3L145.6 95.7" fill="none" stroke="#c83040" stroke-width="1.8" stroke-linecap="round" stroke-linejoin="round" opacity="0.7" filter="url(#bl1)"/><ellipse cx="117" cy="102.2" rx="8.8" ry="6.6" fill="#4a55b8" opacity="0.5" filter="url(#bl2)"/><rect width="162" height="146.2" filter="url(#maD)"/><rect width="162" height="146.2" filter="url(#maL)" opacity="0.8"/><path d="M15.1 -1q-2.6 0-.3 .9 2.2 .8 2.6 .1 .4-.8 .4-.9-.1-.1-2.7-.1zM-.6 3.5q.4 .7 1.9 .1 1.4-.7 1.6-2.7 .2-1.9-1.9-1.9-2 0-2 1.8 0 1.9 .4 2.7zM20.5 .8q-.2 .5 .6 1 .7 .5-4.9 1.3-5.6 .7-7 2.1-1.4 1.4 1.5 2.8 2.9 1.4 1.3 1.6-1.6 .2-1 2.6 .5 2.4 3.9 2.1 3.3-.4 3.5-.9 .2-.5-.9-1.7-1.1-1.3 2.5-1 3.6 .2 6.1-.4 2.5-.5 2.8-1.5 .3-1 1-1.4 .8-.4 0-2.1-.7-1.8-3.2-2.2-2.4-.5-1.9-1.1 .4-.5-.2-1.6-.6-1.1-2.3-.6-1.6 .5-1.8 1zM-.2 14.1q-.8 .1-.8 3.1 0 3 .7 2.7 .7-.4 1.5-1.6 .7-1.3 0-2.8-.7-1.5-1.4-1.4zM.4 23.2q-1.4 2.5-.2 4.8 1.1 2.4 .8 4-.3 1.7 .5 2.4 .9 .7 1.5 .4 .7-.2 1.2 .3 .5 .4 2.6 1 2 .6 4.5-.4 2.5-1.1 4.4-3.6 1.9-2.5 2.3-2.4 .5 .2 1.6-1 1.1-1.3 .7-3.3-.3-2.1-.9-2.4-.6-.4-1.4-1.9-.7-1.4-4.6-3.4-4-1.9-6.9-.4-2.9 1.6-3.8 2.6-.9 .9-2.3 3.3zM24.7 33.5q2.1-1.8 1.9-2.7-.2-.8-2.4-1.4-2.2-.6-3.4 .9-1.3 1.4-.4 3.1 .9 1.8 1.5 1.9 .6 .1 2.8-1.8zM19.6 90.6q.2 .4 2.1 .6 1.8 .1 1.9-.5 .1-.5-2.1-.5-2.2 0-1.9 .4zM5.8 90.4q-2.5 .2-2.1 1.9 .4 1.6 2.6 1.2 2.2-.5 2.1-1.8-.1-1.4-2.6-1.3zM17 93.6q.9-1.7 .4-2.6-.4-.8-3.3-.8-2.9 0-4.2 3.9-1.4 3.9-.8 5.4 .5 1.5 2 2.9 1.6 1.3 2.6 1.1 1.1-.1 1.9-1.1 .9-1.1 1.2-2.7 .3-1.7-.2-3-.5-1.4 .4-3.1zM.3 92.7q-.5-1.9-.9-2-.4-.1-.4 2.3 0 2.4 .9 2 1-.3 .4-2.3zM-.5 107.5q-.5 .1-.5 2.2 0 2.2 .8 .3 .8-1.9 .5-2.3-.4-.3-.8-.2zM5.9 114.1q1.7-2.2 .7-3.5-1-1.2-2.5-1.4-1.5-.2-2.6 2.4-1.1 2.6 .8 3.7 1.9 1.1 3.6-1.2zM20.9 110q-1.5 .6-2.2 1.9-.8 1.2-2.1 2.4-1.2 1.1-1.2 2.6 0 1.5-.8 2.9-.9 1.4-.1 2.7 .8 1.3 2.3 .5 1.4-.8 1-1.7-.4-1 2.2 .5 2.6 1.6 4.3 .8 1.7-.7 2.8-2.3 1.2-1.5 1-3.5-.2-1.9 .4-3.6 .6-1.8-1.1-2.8-1.6-1.1-3.3-1-1.7 0-3.2 .6zM9.5 127q1.2 .1 2.2-1 1-1.1 .3-2.3-.7-1.2-3.1-1.3-2.3-.1-1.4 2.2 .9 2.4 2 2.4zM2.7 129.1q1.9 1.4 2.8 .3 1-1.1-.3-3.7-1.2-2.5-2.8-1.6-1.5 .8-1.5 2.2 0 1.4 1.8 2.8zM29.1 131.1q.5-1.2-1.1-2.3-1.7-1.1-2.3-.7-.7 .4-1 1.2-.2 .8 1.8 1.8 2 1.1 2.6 0zM17.8 132.1q-.7 .5-3.9-.1-3.2-.6-4.6 1.3-1.3 1.9-.1 4 1.3 2.1 3.1 1.3 1.8-.7 3.5-2 1.6-1.3 3.2-.9 1.6 .4 1.6-1.6-.1-2-1.1-2.3-1-.3-1.7 .3zM-.2 139.2q.9 .3 1.2 0 .4-.3 .4-1.3-.1-.9-1.1-1-.9-.2-1.1 .9-.2 1.1 .6 1.4zM16.6 139.7q1.6 .6 2.2-.3 .7-1-1.3-1.6-2-.7-2.2 .3-.2 .9 1.3 1.6zM25.1 140.2q1.5 1 1-.3-.4-1.3-1.5-1.3-1.1 .1-1.1 .4 0 .2 1.6 1.2zM16.2 143.1q.1-.4-1.4-1-1.5-.7-2.4-.1-1 .5-1.1 1.5 0 1 2.5 .5 2.4-.5 2.4-.9zM2.8 146.5q-.9-.6-1.6 0-.7 .7 .9 .7 1.6 0 .7-.7zM66.1 -1q-1.9 0-1.6 .2 .2 .2 1.9 0 1.7-.2-.3-.2zM51.1 -.1q-.5 1-.3 1.5 .3 .5 2.5 1.2 2.2 .8 2.3-1.4 0-2.2-2-2.2-2 0-2.5 .9zM36.2 1.3q-2.9-1.3-3.8-.3-1 1.1-.1 3.2 1 2.1 3 2.3 2.1 .2 2.8-.7 .7-.8 .8-1.9 .1-1.2-2.7-2.6zM39.1 12q.8 .1 1.7 .8 .8 .7-.5 1.2-1.3 .5-2.7 1.6-1.4 1-2.6 3.2-1.2 2.2-.4 4.4 .8 2.2 2.2 3.6 1.5 1.5 3.4 1.7 1.9 .1 3.5-.5 1.7-.6 3-1.7 1.4-1.1 1.9-5.4 .6-4.3-2.8-5.9-3.3-1.6-1.7-3.1 1.6-1.5 1.3-2-.3-.5-2.7-1.5-2.4-.9-3.4-.1-1 .8-3.5 .8-2.6 0-3.3 .7-.7 .6-.7 2.8 0 2.2 3.3 .8 3.2-1.5 4-1.4zM62 13.6q.8 7 1.5 8.4 .8 1.3 1.6 .3 .9-1.1 1.3-3.2 .5-2.2 .6-4.5 .1-2.3-.4-4.2-.5-1.8-.5-4.9 0-3.1-.9-4.4-.9-1.3-1.8-.2-1 1.2-1.5 3.5-.6 2.3 .1 9.2zM23.7 19.8q-1.1 .7-1.2 2.1-.1 1.4 .3 2.3 .4 .9 1.2 1.6 .9 .7 2 1 1.2 .3 3.3-.4 2.2-.6 2.1-3.1 0-2.4-1-3.3-.9-.9-3.3-.9-2.3-.1-3.4 .7zM31.2 36.2q-.2-1.3-1.7-2.1-1.6-.9-3.3 .8-1.7 1.7-1.4 2.1 .3 .4 3.5 .4 3.1 0 2.9-1.2zM61.8 89.7q-.2 2.2 1.8 2.3 2.1 0 3-.9 .9-1 .6-2.3-.3-1.4-1.9-2-1.5-.7-2.3 0-.9 .6-1.2 2.9zM53.7 94.4q2-.7 .7-2.5-1.3-1.7-3-1.7-1.8 0-2.1 .3-.3 .4 1 2.5 1.3 2.1 3.4 1.4zM60.3 103.9q2-.5 2.2-1.8 .1-1.3-1.6-3-1.8-1.7-2.6 1.6-.9 3.3-.4 3.5 .4 .3 2.4-.3zM46.8 102.8q.1-1.6-1-1.8-1.1-.2-1.9 2-.9 2.1 .9 1.7 1.8-.4 2-1.9zM51.9 105q1.2-.9-.2-2.3-1.4-1.4-1.7-1.4-.3 0-.5 1.7-.1 1.7 .6 2.4 .7 .6 1.8-.4zM65.6 108.7q.4-.1 .8-1.5 .4-1.4-1.5-2.2-1.9-.8-.7 1.5 1.1 2.2 1.4 2.2zM47.7 108.9q.9-.8 .4-1.5-.5-.7-2-.2-1.4 .5-.3 1.5 1 1.1 1.9 .2zM63 111q.5-.4-.6-2.6-1.1-2.2-2.1-2.1-.9 .2-.8 2.2 .1 2 1.6 2.5 1.4 .5 1.9 0zM44.6 118.5q.4-1.4-1.3-1.9-1.6-.5-2.2 1.1-.6 1.5 .1 2.2 .6 .8 1.8 .4 1.1-.4 1.6-1.8zM50.7 117.5q2.7 1.4 1.3 .9-1.4-.5-2.5 .2-1.1 .8-1.8 .6-.6-.1-.8 .5-.2 .7 .7 1.5 .8 .9 1 2.4 .1 1.4-.2 2.1-.4 .6 .2 1.2 .6 .5 .9 .2 .2-.3 .8 .2 .6 .5 1.3 .4 .6 0 .6 .4 0 .5 1.2 1.3 1.1 .8 3.1-1.1 1.9-1.8 2.1-4.7 .1-2.9-2.2-4.6-2.3-1.7-2.7-2.7-.4-1.1-3.1-.9-2.8 .1-2.7 .4 0 .4 2.8 1.7zM39.1 121.5q-.5-.6-1.4-.2-.9 .4-.2 1.5 .7 1.1 1.2 1.2 .5 .1 .7-.9 .3-1-.3-1.6zM44.2 130.4q.6 2 1.3 1.8 .6-.2 1.3-1.5 .6-1.2-.3-2.1-.9-.9-2-.6-1 .4-.3 2.4zM52.1 133.3q1.2-.7-.2-1.9-1.4-1.2-1.9-1.1-.5 .1-1 1-.5 1 .7 1.8 1.2 .8 2.4 .2zM34.4 133.5q1-1.1-.5-2.5-1.5-1.4-2.3 .1-.7 1.4 .5 2.5 1.3 1 2.3-.1zM41.7 140.3q.8 1.2 2.7 1.3 2 .2 .3-3-1.8-3.1-2.7-1.3-1 1.8-.3 3zM38.5 143.4q1-.9 .6-1.8-.4-.9-2.3-.8-2 0-.7 1.7 1.3 1.7 2.4 .9zM73.1 -1q-1.6 0-.5 .5 1.1 .4 1.5 0 .5-.5-1-.5zM91.9 .7q1.4-1.7-1-1.7-2.4 0-1.3 1.7 1 1.7 2.3 0zM78.5 2.6q1.4 0 1.5-.6 0-.5-.9-1.3-.9-.7-1.8 .1-.9 .9-.6 1.4 .3 .4 1.8 .4zM74.1 6.2q.6-2 .1-2.8-.6-.8-1.4-1-.8-.1-1.7 1.9-.8 2 .7 2.9 1.6 1 2.3-1zM80.9 6.1q-.2-.4-2.3-.6-2.1-.3-2.8 2-.8 2.3-.6 2.9 .2 .6 2 .1 1.8-.5 2.8-2.2 1-1.7 .9-2.2zM88.3 15.7q.8-1.3-.5-2-1.4-.7-2.3 .1-.9 .8-.9 2.1 .1 1.4 1.5 1.3 1.3-.2 2.2-1.5zM91 19.9q1.3 1.5 2.3-.6 1-2-.1-2.9-1.1-.9-2.4 .5-1.2 1.4 .2 3zM74 18q-2.2 1.2-4 3.8-1.8 2.6-2.3 4.3-.5 1.6-2 2.1-1.5 .5-1.5 1.1-.1 .6 2.8 3.3 2.8 2.7 6.3 3.6 3.4 .8 5.4-.4 2-1.2 4-3.1 1.9-1.9 3-5.5 1-3.7 0-6.1-1-2.3-2.9-3.5-2-1.2-4.3-1-2.3 .2-4.5 1.4zM87.3 37.7q2.3-.8 1.3-3.1-1.1-2.4-3-1.6-2 .8-1.3 3.1 .6 2.4 3 1.6zM67.8 49.6q1.3 .6 2.8-.9 1.4-1.5 .9-2.3-.6-.7-2.6-.5-2 .2-2.2 1.7-.3 1.4 1.1 2zM72.2 58.8q-1.6 .4-3 2.2-1.3 1.7-1 2.9 .4 1.2 1.2 2 .9 .8 0 .3-.8-.5-1.9 .6-1 1.1-2.2 3.3-1.3 2.3-1 4 .3 1.7 1.2 2.8 1 1.1 2.1 1.3 1.1 .2 2-.7 1-.9 1.7-1.8 .7-.9 .9-2.6 .2-1.6 2.9 3 2.7 4.7 4.3 4.6 1.5-.2 1.5-.8-.1-.6 1.7-.6 1.8-.1 4.1-1.9 2.2-1.7 4.9-2.3 2.7-.7 4.3-2.7 1.5-2 .7-4.6-.7-2.5-6.5-3.8-5.8-1.3-10.8 1.4-5 2.8-4.6 2.1 .3-.6-.4-1.3-.6-.6 .6-2.1 1.2-1.4 .9-2.7-.3-1.2-1.1-2.1-.8-.9-2.5-.5zM75.5 81.2q-.6-1.2-2.4-1.3-1.8-.1-1.5 1.8 .4 1.9 1.9 2.2 1.5 .2 2.1-.6 .5-.8-.1-2.1zM88.9 82.5q.6-2.2-1-2.6-1.6-.5-3 .6-1.4 1.1-.8 2.2 .5 1.2 2.3 1.5 1.8 .4 2.5-1.7zM94.4 83.9q-.1-.8-1.2-1.2-1.2-.4-1.6 .9-.4 1.4 .8 1.7 1.2 .2 1.7-.1 .4-.4 .3-1.3zM91.3 87.9q-1.4-.2-1.8 2.1-.4 2.4 0 2.9 .4 .4 1.9-.5 1.6-1 1.5-2.6-.1-1.7-1.6-1.9zM78.6 91.3q-1.8-.5-3.4 1.4-1.6 1.9 1.1 3.3 2.6 1.5 5.4 1.4 2.7-.1 4.7-1.5 2-1.4 1.7-2.4-.3-1.1-1.8-1.5-1.5-.5-2.9-.7-1.4-.2-2.2 .2-.8 .3-2.6-.2zM70.7 93.2q-1.5-.8-2.2-.2-.6 .5 0 1.8 .6 1.2 2.1 .2 1.5-1.1 .1-1.8zM91.2 96.1q-.1 .5 .7 1.6 .8 1.1 1.4 1.2 .7 0 2.3 1.3 1.7 1.4 3.2-.3 1.6-1.7 2.1-3.8 .4-2.1 2.8-3.8 2.4-1.7 1.8-3.4-.5-1.7-2.1-1.2-1.5 .6-2 2.3-.4 1.7-1.6 .8-1.3-1-1.2-1.9 .2-.9-1.1-1.4-1.2-.4-1.8 0-.5 .5-.5 2 .1 1.5-.5 3-.7 1.6-2.1 2.3-1.4 .8-1.4 1.3zM64.6 101.9q0 .7 1.8 1.6 1.8 .8 2.8 .3 1-.5-.2-2.4-1.2-1.9-2.8-1.1-1.6 .8-1.6 1.6zM82.9 103.2q-.7-2.2-1-2.3-.3-.1-1.6 1.2-1.3 1.3-1.1 2.4 .2 1.1 1.7 1.6 1.6 .4 2.1-.2 .6-.5-.1-2.7zM97.1 104.7q.5-1.3 0-2.1-.4-.8-2.4-.8-2 .1-2.8 2.2-.7 2.2-.2 3 .6 .8 2.8-.1 2.2-.9 2.6-2.2zM78 108.9q-.8 .6-.6 1.9 .2 1.4-.1 2-.3 .6 .9 2.9 1.3 2.4 3.6 2.4 2.3 0 2.9-1.5 .5-1.4 1.5-2.4 1-1-.4-3.4-1.5-2.4-4.3-2.4-2.8-.1-3.5 .5zM70.4 119.1q-1.1-1-2.5-.4-1.5 .6-.2 2.8 1.3 2.2 2.5 .4 1.2-1.7 .2-2.8zM93.2 126.5q-.1-1.4-1.2-.8-1.1 .5-.5 1.4 .6 .9-.1 1.1-.7 .1-1 1.7-.3 1.6 .2 2.6 .5 1-1.3 1.6-1.8 .6-2.3-1.3-.5-1.8-2.3-3.5-1.8-1.7-3-2.1-1.2-.5-1.6 .5-.3 .9-1.5 .9-1.3 0-1.5 2.3-.3 2.3 .5 2.6 .7 .2 1.1-.1 .3-.3 .3 .8 0 1.1 .6 3.2 .7 2 .5 3.7-.2 1.7 2.4 2.2 2.7 .4 3.3-.4 .6-.9 1.4 1.7 .7 2.6 3.7 2.6 2.9 0 3.2-.5 .4-.5 .2-1.3-.2-.9 .7-2.3 .8-1.3-1.7-2.8-2.6-1.4-3.7-1.1-1.1 .4 .4-.5 1.5-.9 1.8-2.3 .3-1.4 1.1 .2 .8 1.5 4.3 1.5 3.6-.1 5.2-3.1 1.6-3.1 2.9-3.8 1.3-.7-.4-3-1.8-2.3-5.1-3-3.3-.6-3.5 .4-.2 1-1.6 1.7-1.4 .6-1.5-.8zM86.7 139.5q.3-1.6 .8-.6 .6 .9-.2 1.6-.8 .6-.6-1zM72.2 132.5q1.9 .8 2.3-1.4 .3-2.3-1.9-2.8-2.2-.6-2.3 1.4-.1 1.9 1.9 2.8zM108 2.6q-3.7 1.1-3.2 2.7 .5 1.6 2.3 2.7 1.7 1.1 3.5-2.4 1.7-3.6 1.4-3.8-.3-.3-4 .8zM106.2 10.5q-1.5-1-2.9 .1-1.5 1.1-.5 2.2 1.1 1 2.6 .5 1.5-.5 1.8-1.1 .4-.7-1-1.7zM118.5 17q.9 .5 2.3-1.2 1.5-1.7 .4-2.9-1-1.1-2.5-.1-1.4 1-1.3 2.3 .2 1.4 1.1 1.9zM121.6 20.8q.3 1 3.6 .4 3.3-.5 2.7-3-.5-2.6-1.8-2.7-1.3-.2-3.1 2-1.7 2.3-1.4 3.3zM106.9 20.3q1.5-2.1 .9-3.5-.5-1.3-1.9-.9-1.3 .4-2 2.7-.6 2.2 .5 3 1.1 .8 2.5-1.3zM108.6 24.3q.6 .6 1.4 .7 .8 .1 1.5-.4 .7-.5 .6-2.8-.1-2.2 1.1-3.6 1.1-1.4 .9-2.8-.2-1.5-1.9-1.9-1.7-.4-2 0-.3 .5 .4 2.8 .7 2.4-1 4.9-1.6 2.4-1 3.1zM104.5 37q2.3-2.1 1.7-2.8-.5-.8-2-.8-1.6 0-2.5 2.3-1 2.2-.2 2.9 .8 .6 3-1.6zM99.9 40.1q-1-.7-3.1-.7-2.1 0-2.1 2.5 0 2.5 1.5 1.4 1.4-1.2 3-1.8 1.6-.6 .7-1.4zM107.2 52.6q3.9-.1 5.1-.8 1.2-.7 1.7-2.2 .5-1.5 .1-1.9-.4-.4-2-.7-1.5-.3-4.9-.3-3.5 .1-5 .3-1.5 .2-2.1 1-.7 .7-.7 1.4-.1 .6 1.1 1 1.1 .5 2 1.3 .8 .9 4.7 .9zM90.4 48.6q-2.2 1.2-2.2 1.5 .1 .2 2 2.1 2 1.8 1.8 .5-.2-1.4 .2-3.4 .5-2-1.8-.7zM116.6 58q-.4-1-1.6 .1-1.1 1.2-.4 1.6 .6 .5 1.6-.1 .9-.6 .4-1.6zM93.8 58.7q-.5 1 .8 3.6 1.4 2.5 2.6 2.9 1.3 .4 2.1-1.6 .8-1.9-2.2-3.9-2.9-2.1-3.3-1zM132.3 68.4q.1-1-1.5-1.5-1.5-.5-2.2 .9-.8 1.4 1.5 1.5 2.2 .1 2.2-.9zM119.2 72.1q-.8 1.9 .6 2.7 1.4 .7 3-.5 1.7-1.3 1.8-2.2 .2-1-1.3-1.7-1.4-.7-2.3-.4-1 .3-1.8 2.1zM98.2 76.8q0-.8-2-.8-2.1 0-2.7 1.6-.6 1.6 .7 2 1.3 .3 2.6-.8 1.3-1.1 1.4-2zM129.7 92.6q.2-1.4-.4-2.1-.5-.7-2.5-1.3-2-.6-2.6-.2-.6 .4-1.5 2.8-.9 2.4 3 2.4 3.8-.1 4-1.6zM111.2 92q-4.4-.9-5.5-.2-1.2 .6-2 1.7-.8 1.1-.2 2 .7 1 2.5 2.5 1.8 1.5 2.7 1.1 .9-.3 1-.6 0-.4 2.4-.2 2.4 .2 3.9-.6 1.5-.8 1.9-2 .3-1.1-1-2-1.4-.8-5.7-1.7zM132.7 98.5q-.8-.5-3 2.5-2.2 3-1.7 3.5 .5 .5 3.5 .7 3.1 .2 3.5-1 .5-1.2-.4-3.2-1-2-1.9-2.5zM113.9 101.6q-.2-.4-1.4-.5-1.2-.2-2.3 .5-1.2 .7-1.3 1.2-.1 .6 1 2 1.2 1.3 1.9 1.1 .8-.1 1.5-2 .8-1.9 .6-2.3zM116.3 103.9q-.3 0-.9 1.6-.6 1.6 .8 3.1 1.3 1.5 1.8 1.4 .5 0-.4 2.7-.8 2.7 .4 5.3 1.3 2.5 3.6 4.2 2.2 1.7 3 .7 .8-1.1 .5-5.6-.3-4.5-.9-5.7-.6-1.2-1.6-1.9-1.1-.7-2.4-.4-1.4 .2-.9-1.4 .5-1.6-1.1-2.8-1.6-1.3-1.9-1.2zM102 104.8q-2.1-.5-2.5 .7-.4 1.2 1.2 2.8 1.5 1.7 2.4-.7 .9-2.4-1.1-2.8zM131.1 107.6q-2.5-.1-2.8 2.8-.3 2.8 1.1 2.9 1.5 .2 3.1-1.5 1.6-1.6 5.3 1 3.7 2.6 5.9 2.2 2.2-.4 3-1.8 .8-1.4 .3-3.9-.4-2.6-1.2-4-.8-1.4-2.7-1.6-1.8-.2-3.6 .2-1.8 .3-3.9 2-2 1.7-4.5 1.7zM113 124.4q.7-.8 .2-2.3-.5-1.5-1.1-1.7-.6-.3-1.6 .2-.9 .5 .4 2.6 1.4 2.1 2.1 1.2zM109.2 127.7q1.1-.7-.1-2.2-1.1-1.6-2.1-1-1.1 .6 .1 2.2 1.1 1.6 2.1 1zM112.8 132.3q.8-1.8 .1-2.4-.6-.7-2 .3-1.5 1.1-.2 2.5 1.3 1.5 2.1-.4zM117.4 131.4q-.8-.2-1.5 1.5-.6 1.7 1.1 2.6 1.6 1 1.4-1.4-.3-2.5-1-2.7zM108.2 135.1q-1-1.4-1.9-1-1 .4-.5 2.3 .6 1.9 1.7 1.6 1.1-.3 1.4-.9 .3-.6-.7-2zM121.5 139.1q-1-.6-1.7-.3-.8 .3-1.5 1.6-.7 1.3 .8 2.9 1.5 1.6 2.5-1 .9-2.7-.1-3.2zM110.4 142q-.9-1-2.6-.7-1.7 .4-2.2 1-.4 .6-.1 1.5 .2 1 2.2 1.9 2 .9 2.8-.9 .8-1.8-.1-2.8zM102.2 146.5q.6-.8 .4-1.8-.2-1-2.3-1.5-2-.5-3.3 1.3-1.3 1.9-1.2 2.3 .1 .4 3 .4 2.8 0 3.4-.7zM141.8 .5q.5 1.4 1.3 1.4 .8 .1 1.4-1.4 .7-1.5-1.3-1.5-1.9 0-1.4 1.5zM133.8 -.3q-.6 .7 1.7 3.1 2.4 2.4 3.6 1.6 1.1-.8 .4-3.1-.8-2.3-3-2.3-2.2 0-2.7 .7zM133.4 4q-2.3-2.1-2.9-1.9-.6 .1-1.3 .7-.6 .7 .9 3.6 1.6 3 3.5 1.3 2-1.7-.2-3.7zM160.7 20.7q.4-.2 1-2.3 .6-2.1-.3-2.7-.9-.6-2.4 1.2-1.5 1.7-1.3 2.5 .2 .8 1.4 1.2 1.1 .4 1.6 .1zM144.6 24.1q1.3-.1 2.3-.9 .9-.9 3.5-1 2.6-.1 3.6-.9 1-.7 .8-1.8-.1-1.1-1.9-2.7-1.7-1.5-3.9 .7-2.2 2.2-5.3 1-3-1.3-3.8-1.3-.7 .1-4.6-1.8-3.9-1.8-4.8-1-.9 .7-.4 2.7 .5 2 0 3.4-.5 1.5-.4 2.7 .1 1.3 1 2.3 .9 1 1.9 1.3 1.1 .3 2.1-.1 1.1-.3 2.1-2.5 1-2.1 0-3.2-1.1-1.2-.2-1.6 .9-.4 1.6-.2 .7 .1 2.9 2.6 2.2 2.5 3.5 2.3zM152.8 27.8q-.6-2.7-2.2-2.8-1.5-.2-1.9 .3-.4 .5 .1 2.2 .4 1.7 2.2 2.7 1.8 1 2.1 .7 .3-.4-.3-3.1zM157.5 39.4q.2-1.1-1.7-2.3-1.9-1.2-3 .4-1.1 1.5-1 .6 0-.9-1.3-2.7-1.3-1.9-2.5-2.5-1.2-.5-2.7-.7-1.5-.1-2.6 1-1.2 1.1-1.8 2.7-.6 1.5 .1 3 .7 1.4 3.1 2.3 2.5 .9 1.6 2.4-.9 1.4 .5 2.9 1.4 1.4 2.8 0 1.4-1.5 1.8-3.4 .4-1.9 3.5-2.3 3-.3 3.2-1.4zM136.5 43.5q.9-.2 .9-1.5-.1-1.2-.4-1.5-.3-.2-1.1 1.3-.8 1.4-.6 1.7 .3 .3 1.2 0zM139.6 47q.6-1.1 0-1.5-.6-.4-2 0-1.3 .3-1.5 1.6-.2 1.4 1.4 1.2 1.6-.1 2.1-1.3zM139.1 53.2q1.3 .2 .6-1.1-.8-1.4-1.9-1.2-1.1 .3-.6 1.2 .5 1 1.9 1.1zM142.7 57.5q.5 .3-.5 2.4-1 2.2 1.6 2.1 2.6 0 5.9-1.5 3.2-1.5 4.2-2.7 1-1.3 1-2.5 .1-1.1-1.2-1.4-1.3-.3-2.7-.1-1.5 .3-3.7 1.6-2.2 1.4-2.6 0-.4-1.4-1.8-1.4-1.3 .1-1 1.6 .3 1.5 .8 1.9zM131.8 59.8q-1.4-.4-1.8 1.4-.4 1.7 1.7 2.4 2.1 .7 2.5 .1 .5-.5 .4-1.3-.1-.8-.7-1.5-.7-.8-2.1-1.1zM139.7 73.9q1.1-1.3 1-1.7-.2-.5-2.9-.6-2.8 0-2.6 1.2 .1 1.3 1.8 1.8 1.7 .6 2.7-.7zM132.7 77.3q-1.2-.1-2.6 .4-1.4 .5-.3 2.2 1.1 1.7 2.9 2.9 1.7 1.1 4.5 .3 2.7-.9 3.2-1.8 .5-.9-.4-1.4-.9-.4-1.3-1.4-.4-.9-2.1-1.4-1.8-.5-2.2-.1-.5 .3-1.7 .3zM162.2 78.3q-.7-.9-3.1 1.4-2.4 2.2-2.1 3.1 .3 .9 2.5 .8 2.3-.2 2.9-1.3 .6-1 .6-2 0-1-.8-2zM146.7 84.7q-.1-2.1-.7-2.4-.7-.4-2.5-.2-1.7 .3-2.5 1.3-.8 1-.8 2.4 .1 1.3 1 2.4 .9 1 3.3-.2 2.3-1.2 2.2-3.3zM159.5 86q-2.2 .1-2.4 .8-.2 .6 1 2.1 1.2 1.6 2.5 1.4 1.3-.2 1.9-.9 .5-.7-.2-2.1-.6-1.4-2.8-1.3zM145.8 90.5q-2.2 1.5-.5 3.7 1.8 2.1 3.3 1 1.5-1.2 1.7-3.2 .2-2-1-2.5-1.2-.6-3.5 1zM137.7 94q3.2-2.5 2.1-3.5-1.2-1.1-4.4 .2-3.2 1.3-3.3 2.7-.2 1.4 1.1 2.2 1.3 .8 4.5-1.6zM162.1 94.3q-.7-1.3-1.4-1.1-.8 .2-1.2 1.7-.3 1.6 1.5 1.1 1.8-.4 1.1-1.7zM160.8 113.7q-2.1-1.4-3.3 1.4-1.2 2.9 .3 3.3 1.6 .3 3.3-1.4 1.7-1.8-.3-3.3zM149.2 117.8q1.4-.8 .7-2.4-.8-1.6-3.8-.2-2.9 1.5-.6 2.5 2.3 .9 3.7 .1zM144.4 120.2q-2.7-.8-3.1 0-.5 .8-2.5 1.3-2.1 .5-3.5 1.9-1.3 1.3-1.1 2.8 .1 1.5 1.1 4.1 .9 2.6 2.7 3.2 1.8 .7 3.8 .1 1.9-.5 3.6-1.5 1.7-.9 2.1-2.6 .4-1.7-.1-5.1-.4-3.4-3-4.2zM158 120.5q-1.1-.2-2.4 3.6-1.3 3.9-.9 4.4 .4 .5 2.4-.1 2-.7 2.8-3 .7-2.2 0-3.5-.8-1.2-1.9-1.4zM138 139.8q2.4 3 3 2.4 .7-.5 .5-3.7-.2-3.2-1.6-3.9-1.3-.7-2.1-.7-.8 .1-1.5 1.5-.7 1.4 1.7 4.4zM137.5 144.8q.6-.8-1.3-3.3-1.9-2.5-2.2-2.5-.3-.1-1.3 2.3-1 2.3 .5 3.4 1.5 1.1 2.6 1 1.1-.2 1.7-.9z" fill="#fff2fb" stroke="#4a0a44" stroke-width="0.5" stroke-opacity="0.5"/></g></svg>
<svg id="ma_m28" x="626.8" y="614.8" width="163.4" height="146.8" viewBox="0 0 163.4 146.8" overflow="hidden"><g filter="url(#soft)"><rect width="163.4" height="146.8" fill="#7e3f90"/><rect width="163.4" height="146.8" filter="url(#heB)" opacity="0.35"/><rect width="163.4" height="146.8" filter="url(#maR)" opacity="0.5"/><ellipse cx="84.4" cy="58.4" rx="56.5" ry="54.3" fill="#6478c8" opacity="0.85" filter="url(#bl5)"/><ellipse cx="83.3" cy="47.5" rx="26.1" ry="22.8" fill="none" stroke="#5272c0" stroke-width="10.9" opacity="0.85" filter="url(#bl3)"/><path d="M25.8 64.9Q43.1 80.1 54 84.4Q64.9 88.8 81.2 92Q97.4 95.3 114.8 96.4L132.2 97.4" fill="none" stroke="#5272c0" stroke-width="15.2" stroke-linecap="round" stroke-linejoin="round" opacity="0.7" filter="url(#bl3)"/><path d="M123.5 58.4Q127.8 84.4 125.7 99.6Q123.5 114.8 119.2 130L114.8 145.2" fill="none" stroke="#6a80cc" stroke-width="13" stroke-linecap="round" stroke-linejoin="round" opacity="0.6" filter="url(#bl3)"/><ellipse cx="14.9" cy="19.3" rx="15.2" ry="19.5" fill="#86307e" opacity="0.8" filter="url(#bl3)"/><ellipse cx="30.1" cy="119.2" rx="32.6" ry="28.2" fill="#9a2a64" opacity="0.6" filter="url(#bl5)"/><ellipse cx="149.6" cy="49.7" rx="13" ry="26.1" fill="#943a86" opacity="0.6" filter="url(#bl5)"/><ellipse cx="143" cy="132.2" rx="19.5" ry="17.4" fill="#983074" opacity="0.55" filter="url(#bl5)"/><ellipse cx="83.3" cy="46.4" rx="14.8" ry="11.3" fill="#962a68" filter="url(#bl1)"/><ellipse cx="114.8" cy="57.3" rx="4.8" ry="5.6" fill="#862668" filter="url(#bl1)"/><ellipse cx="83.3" cy="47.5" rx="21.3" ry="18.2" fill="none" stroke="#b4d0f0" stroke-width="1.7" opacity="0.6" filter="url(#bl2)"/><ellipse cx="58.4" cy="11.7" rx="3.9" ry="5.2" fill="#c8283a" opacity="0.9" filter="url(#bl1)"/><ellipse cx="99.6" cy="16" rx="3.5" ry="4.8" fill="#c8283a" opacity="0.9" filter="url(#bl1)"/><ellipse cx="135.4" cy="69.2" rx="3" ry="8.3" fill="#c8203a" opacity="0.9" filter="url(#bl1)"/><ellipse cx="66" cy="145.2" rx="6.5" ry="4.8" fill="#c01828" opacity="0.95" filter="url(#bl1)"/><ellipse cx="38.8" cy="56.2" rx="3.5" ry="10.9" fill="#b02858" opacity="0.7" filter="url(#bl1)"/><ellipse cx="14.9" cy="97.4" rx="6.5" ry="5.2" fill="#b82040" opacity="0.7" filter="url(#bl2)"/><ellipse cx="32.3" cy="132.2" rx="6.5" ry="8.7" fill="#b82040" opacity="0.6" filter="url(#bl2)"/><ellipse cx="54" cy="143" rx="8.7" ry="5.6" fill="#b82040" opacity="0.5" filter="url(#bl2)"/><rect width="163.4" height="146.8" filter="url(#maS)" opacity="0.45"/><rect width="163.4" height="146.8" filter="url(#maD)" opacity="0.35"/><rect width="163.4" height="146.8" filter="url(#mbL)" opacity="0.5"/><rect width="163.4" height="146.8" filter="url(#maW)" opacity="0.5"/><path d="M15.9 5.8q1-.2 1.4-1 .4-.7-.4-2-.8-1.4-1.4-1.5-.6-.1-1.8 1.4-1.3 1.4-1.2 2.1 .1 .8 1.3 1 1.2 .3 2.1 0zM1 29.5q-1.3-.2-1.6 1.2-.4 1.4 .1 2 .5 .6 1.7 .3 1.1-.3 1.1-1.8-.1-1.6-1.3-1.7zM28.2 41.4q.6 .3 1-.1 .3-.5 0-1.4-.3-.9-.6-1-.4-.2-.7 1-.4 1.1 .3 1.5zM20.1 43.2q1-.6 .6-2.4-.3-1.8-1.4-1.7-1 .2-1.7 1-.8 .8-.7 1.4 .2 .7 1.1 1.5 1 .8 2.1 .2zM.9 47.1q.4 .2 2.1-.8 1.7-1 .1-2.9-1.7-1.8-2.2-1.9-.5 0-.4 2.7 .1 2.8 .4 2.9zM28.5 44.3q0-.3-1.2-.9-1.2-.5-1.8-.1-.7 .4 .2 1.6 .9 1.3 1.9 .6 .9-.8 .9-1.2zM8 57.8q-.3-.6-1.5-1.2-1.2-.6-1.6-.2-.4 .5-.2 1.8 .1 1.4 .8 2.3 .7 .8 1.3 .7 .5-.2 1-1.5 .5-1.3 .2-1.9zM35.8 73q2.6-1.1 4.2-2.4 1.7-1.3 1.5-2.3-.2-1-1.3-1.3-1-.2-5.7 1.8-4.7 2-5.1 3.8-.4 1.8 1.7 1.7 2.2-.2 4.7-1.3zM2.4 83.8q-.3-.7-1.8-.8-1.6-.1-1.6 1.7 0 1.7 .3 1.7 .3 .1 1.8-1 1.5-1 1.3-1.6zM33.3 96.8q.7-.6 .6-1.4 0-.7-.5-1.1-.6-.5-1.6-.1-1 .4-1.6 1.2-.5 .8 1 1.4 1.5 .6 2.1 0zM6.2 97.9q4.2-.4 3.8-1.5-.4-1-2.6-1.6-2.2-.7-4.6 .4-2.5 1.1-3.1 1.8-.6 .6 .9 1 1.5 .3 5.6-.1zM9.2 99q.1 1 1.4 1.4 1.3 .3 1.3-1.2-.1-1.4-1.4-1.3-1.3 0-1.3 1.1zM-.6 102.5q.3 .9 1.5 .6 1.2-.4 1.5-1 .2-.6 0-1.2-.3-.5-1.8-.8-1.5-.3-1.5 .6-.1 .9 .3 1.8zM.8 109.1q-1 1.2-.9 2.4 0 1.1 .7 1.9 .7 .7 1.6 .9 .9 .3 2-.1 1.1-.3 1.5-1.3 .5-1 .5-2.9 .1-1.9-.5-3.2-.6-1.2-1.6-.9-.9 .2-1.3-.3-.5-.5-1.2-.2-.7 .3-.3 1.3 .4 1.1-.5 2.4zM-1 108.7q0 1.2 .4 .8 .3-.4 0-1.2-.4-.8-.4 .4zM33.7 126.8q1 .5 1.8 .2 .9-.2 1.1-1.2 .3-1-.5-1.3-.8-.4-2.5-.3-1.7 0-1.3 1.1 .4 1.1 1.4 1.5zM16.4 127.4q1.4-1.6 .8-3.3-.5-1.7-2.1-1.4-1.5 .4-2.6 1.7-1.1 1.3-.4 3.1 .8 1.9 1.8 1.7 1.1-.2 2.5-1.8zM12.9 132q-1.4 .4-1.2 1.7 .2 1.2 1.7 1.1 1.5-.1 1.9-.5 .4-.5 .2-1.1-.1-.7-.6-1.1-.5-.4-2-.1zM9.3 133.6q-.2-1.6-.9-1.9-.7-.3-1.7 1.4-1 1.7-.4 2.2 .5 .6 .3 1.2-.2 .5 0 2.2 .1 1.6 .5 2.2 .3 .6 1.1 .9 .8 .2 1 .6 .3 .4 1.1-.6 .9-.9 .1-3.5-.8-2.6-1.5-2.5-.7 0 0-.3 .7-.3 .4-1.9zM13.9 139.8q.7 0 1-.3 .3-.3 0-1.2-.3-1-1.3-1-.9 0-.6 1.2 .3 1.3 .9 1.3zM23 141.6q-.5-1.4-1.6-1.3-1.1 .1-1.8 1.5-.6 1.4-.4 2.2 .2 .8 1.2 1.4 1 .7 1.6 .6 .5 0 1-.7 .4-.6 .4-1.5 0-.8-.4-2.2zM34.9 147.8q1.4 0 .7-.9-.6-.8-1.3 0-.8 .9 .6 .9zM53.5 4.6q.1 1 .9 .9 .8 0 1-.1 .1-.2-1-.9-1.1-.8-.9 .1zM92.8 6.9q.1-.8-1.5-.6-1.5 .2-1.5 2 .1 1.7 1.5 .5 1.5-1.2 1.5-1.9zM59.2 12q-.9-.5-1.3-.3-.5 .2-1 1.2-.5 1-.4 1.6 .2 .5 1 .9 .8 .4 1.9-.6 1.1-1 .8-1.6-.2-.6-1-1.2zM39.2 17.8q-1.2 0-1.6 1.1-.5 1.1 .5 1.9 1 .7 1.9 .5 .9-.3 .6-1.9-.3-1.6-1.4-1.6zM100.2 18.9q-.6-.4-1.2-.1-.7 .3-1.2 1.5-.4 1.1 0 2.3 .5 1.1 1.1 1.3 .6 .1 1.5-.7 .8-.9 .6-2.4-.1-1.6-.8-1.9zM62.6 31.8q.6-.7 .1-1.4-.6-.8-1.5-.1-1 .7-1.1 1.2-.1 .4 .9 .7 1 .4 1.6-.4zM100.6 36.4q.4-.7-.6-1.5-1-.8-1.6-.2-.6 .5 .1 1.4 .7 .9 1.2 .9 .5 0 .9-.6zM77.4 36.4q.6-1.3-.9-1.9-1.5-.6-2.2-.1-.7 .5-.5 1.3 .3 .7 1.6 1.4 1.4 .7 2-.7zM43 39.5q1.2 .5 2-.7 .9-1.2 .2-2.4-.6-1.1-1.3-1.3-.6-.2-1.6 .8-.9 1-.7 2 .3 1 1.4 1.6zM79.1 46.5q1.4 .5 6.4 1.1 4.9 .6 4.8-.1-.2-.7-1.1-1.2-1-.5-5.8-1.1-4.9-.5-5.6-.3-.8 .2-.5 .7 .4 .4 1.8 .9zM73.8 51.5q1.5-.7 .4-1.9-1-1.1-2.5 .2-1.5 1.3-.4 1.8 1 .5 2.5-.1zM62.7 77.9q0-1.6-1.5-1.2-1.5 .4-1.6 1.2-.2 .9 1.4 1.2 1.7 .3 1.7-1.2zM101.1 93.1q-.3-.3-1.6-.6-1.4-.3-2.1 .5-.7 .8-.5 1.5 .1 .7 2 .6 1.8-.1 2.1-.9 .3-.8 .1-1.1zM61.6 93.9q-.1 1.7 .6 1.7 .7 0 .6-1.4-.1-1.5-.6-1.7-.5-.3-.6 1.4zM37.5 94q-1.4 .4-1.4 1.3 .1 .8 1.1 1.5 1.1 .8 2.5 .1 1.4-.6 1-1.7-.5-1.1-1.1-1.4-.6-.3-2.1 .2zM97.3 107.1q.4-1.2-.8-2.2-1.2-1-2 0-.9 1-.4 1.9 .5 .9 1.6 1.2 1.1 .3 1.6-.9zM98.9 110.2q.2 .6 1.3 .9 1.1 .2 2.2-.2 1-.4 1.4-1.1 .4-.6 .1-1.3-.2-.6-2-1.3-1.8-.7-2.6 .9-.7 1.6-.4 2.1zM63.3 115.5q-1.6 .2-2.7 1.9-1.1 1.8-.6 2.6 .5 .8 1.4 1.4 .9 .6 4 1 3.1 .5 3.6-.6 .5-1.2 0-2.6-.5-1.4-2.2-2.7-1.8-1.2-3.5-1zM43.6 119.2q.3 2.4 1.7 6.1 1.4 3.8 1.8 2.4 .5-1.3 .2-2.9-.2-1.6 1.6-1.8 1.8-.1 1.9-.4 .2-.2-.2-1-.4-.9-1.5-1.5-1.2-.6-1.8 0-.6 .7-2.1-3.7-1.5-4.3-1.7-1.9-.2 2.4 .1 4.7zM90 123.2q0 .5 1.2 .6 1.2 0 1.4-.5 .3-.5 0-.7-.2-.3-1.4-.1-1.1 .2-1.2 .7zM63.1 128.2q.4-.1 .5-1.1 0-1-1.3-1.2-1.3-.1-1.7 .3-.5 .4 .8 1.3 1.3 .8 1.7 .7zM95.7 130.6q.5-1.1-.2-1.3-.7-.3-1.3 .8-.6 1.2 .2 1.4 .7 .2 1.3-.9zM99.2 132.5q1.7-.4 1.7-1.5-.1-1.2-.8-1.7-.8-.5-1.7 1.5-.9 2 .8 1.7zM81.5 135.2q1.4 .5 1.6 .2 .2-.2-.4-1.6-.5-1.4-1.4-1.5-.8 0-.9 1.2-.2 1.3 1.1 1.7zM93 137.2q1.3 .5 1.8 .1 .6-.3 .6-1.5-.1-1.2-1.5-1.8-1.4-.5-1.8 1.1-.5 1.6 .9 2.1zM102.7 135.6q-.9-1.2-3.1-.8-2.1 .3-2.1 1.2 0 .9 1 1.6 1.1 .7 3.1-.1 2-.8 1.1-1.9zM40.2 145.8q1.4-1.4 .3-1.9-1.1-.5-2 .3-1 .7-.3 1.9 .7 1.2 2-.3zM144.8 7.8q1.6-.1 1.2-1.2-.4-1.1-1-1.2-.5 0-1.1 1.2-.7 1.3 .9 1.2zM129.3 6.6q-1.6-1.6-2.3-1.6-.8 0-1.4 1.7-.7 1.7 .8 3.5 1.5 1.8 3 1 1.5-.7 1.4-1.8 0-1.1-1.5-2.8zM134.5 14.2q1.1-.2 .2-1.6-.8-1.5-1.8-.4-1.1 1-.3 1.6 .8 .6 1.9 .4zM139.8 46.5q1.1-.1 1.2-.7 .2-.6-.7-1.3-.9-.7-1.7 0-.7 .8-.2 1.5 .4 .7 1.4 .5zM130.6 46.9q.4 .6 .8 .6 .4-.1 1.1-1.3 .7-1.2 .4-1.9-.3-.6-1.1-.5-.8 .2-1.2 1.3-.5 1.1 0 1.8zM141.7 52.7q1.6-.6 1.6-1.1 .1-.4-.8-1.5-.9-1-1.2-1-.4 .1-.8 2.1-.4 2.1 1.2 1.5zM138.9 69.5q.6-.9-.6-1.2-1.3-.2-1.5 .3-.1 .4 .6 1.1 .8 .7 1.5-.2zM134.7 71.3q-.5 .2-.4 .9 .1 .7 .9 .2 .8-.4 .4-.9-.4-.5-.9-.2zM107.8 83.4q0-.4-1-.3-.9 .1-.9 1 0 .9 1 .3 1-.6 .9-1zM112.8 87q-.1 .8 .8 1.3 1 .5 1.2 .5 .2-.1-.6-1.4-.8-1.2-1.1-1.2-.2 .1-.3 .8zM135.1 114.4q.6 .8 2.2-.6 1.7-1.3-.1-2.2-1.9-.9-2.2-.6-.4 .3-.3-.9 .2-1.3-.6-2.3-.8-1-1.6 0-.9 1-.6 3.3 .4 2.4 1.5 2.5 1 .1 1.7 .8zM113.2 112.3q1 1 1.4 .8 .5-.2 .6-1 .1-.9-1.5-1.5-1.7-.5-1.6 .1 0 .7 1.1 1.6zM121.2 115.7q-1.5 .7-1.4 1.4 0 .6 1.2 1.2 1.1 .5 2-1 .9-1.6 .3-2-.6-.4-2.1 .4zM120.3 120.6q-1-.6-1.6-.2-.5 .4-.5 1.1-.1 .7 .8 1.4 .8 .8 1.6-.5 .7-1.3-.3-1.8zM124.5 124.5q.8-1-.1-1.4-.9-.5-1.3 .6-.5 1.1 0 1.4 .6 .3 1.4-.6zM137.8 124.1q-.6-.4-1.3 0-.8 .5-.9 .7 0 .2 .6 .5 .6 .3 1.4-.3 .8-.6 .2-.9zM145 124.1q-.6-.5-1.8-.4-1.1 .1-1.3 .4-.1 .2 .9 2.2 1.1 2 2 1.6 .9-.5 .9-2-.1-1.4-.7-1.8zM138.2 128.5q.1 .8-1.8 1.1-1.8 .4 2.3 .9 4.2 .6 4.1 2.6 0 2.1 1.4 2 1.4-.1 .8-2.1-.7-1.9 .4-1.9 1.1-.1 1.8 1.7 .8 1.8 1.2 1.6 .5-.2 1.2-1.9 .7-1.7 3-2.1 2.2-.4 1.4-.7-.7-.3-6.7-.5-6-.2-6.7-1.5-.8-1.2-1.6-.6-.9 .6-.8 1.4zM131.5 130.9q.4-.2-.1-1.5-.4-1.3-1.4-.5-1 .8-.9 1.1 .1 .3 1 .7 1 .4 1.4 .2zM106.1 133.3q.3-1.1-.5-2.4-.8-1.3-1.7-1.1-.9 .3-.9 1.7 0 1.5 1 2.5 1 .9 1.4 .7 .4-.2 .7-1.4zM108.8 140.5q2.1-.2 1.8-1.8-.2-1.5-2-2-1.8-.5-2.4-.1-.7 .3-.1 2.2 .6 1.8 2.7 1.7zM124.4 138.5q-.3-1.4-1-1.3-.7 .1-.7 .8 0 .7 1 1.3 1 .6 .7-.8zM104.3 140.5q-.4-1.2-2-.7-1.6 .5-1.6 1.5 0 1 2 .7 1.9-.2 1.6-1.5zM144.3 145.2q.5 .2 1-.8 .5-1.1-.1-1.5-.6-.4-1.2-.1-.5 .3-.4 1.3 .2 .9 .7 1.1zM115.2 144q.1-1.2-.9-1-1 .2-.2 1.3 .8 1.2 .9 1.1 .2-.2 .2-1.4zM141 145.7q.5-.3 .3-1.3-.3-1-2-.8-1.7 .2-1.7 .8 0 .6 1.4 1.1 1.5 .5 2 .2zM158.4 -.5q-.1 .5 1.2 1.8 1.3 1.4 2 .8 .6-.5 .4-1.8-.1-1.3-1.8-1.3-1.7 0-1.8 .5zM157.6 5.1q1.2 .1 1.5-.5 .3-.6-.9-1.7-1.1-1.1-2.4-.5-1.4 .6-.4 1.6 .9 1.1 2.2 1.1zM144.7 11.7q.5 1.4-.2 2.3-.8 .9-.6 2.2 .2 1.2 2.8 2.6 2.7 1.4 5.4-.1 2.7-1.5 3-2.7 .3-1.2-2.6-3.9-2.9-2.8-5.6-2.3-2.6 .5-2.2 1.9zM152 30.6q-.1 1.9 .7 2.8 .8 .9 1.3 2.9 .6 1.9 3.5 2.3 2.9 .3 3.7-1.2 .8-1.4 .7-5.1-.1-3.6-1.1-4.8-.9-1.2-2.3-2-1.3-.8-3.9 1.2-2.6 2-2.6 3.9zM164.2 53.3q-.1-1.4-1.3-1.7-1.2-.2-1.7 .5-.6 .7 .6 2.1 1.3 1.5 1.9 1 .6-.5 .5-1.9zM161.1 61.5q1.4 .4 2-1.3 .5-1.6 .2-2.2-.3-.6-2.3 .5-2 1-1.7 1.8 .3 .8 1.8 1.2zM152.1 60.9q-.4-.3-1.5 .3-1.2 .6 .3 1.6 1.4 .9 1.5-.4 .1-1.3-.3-1.5zM145.7 68.2q.8 0 .5-.9-.3-.9-.8 0-.5 .9 .3 .9zM161.3 75.1q-.1 .7 1.4 .7 1.5-.1 1.6-.6 .1-.6-.6-1.1-.7-.4-1.5-.1-.7 .4-.9 1.1zM148.6 102.6q4.3 3.7 8.2 1.6 4-2 3.4-8-.6-5.9-2.7-8.1-2-2.2-4-1.6-1.9 .7-4.7 .2-2.8-.5-4.7 .2-2 .8-.8 6.4 1.1 5.7 5.3 9.3zM160.9 115.9q.6 1.5 1.6 1.4 1-.1 .9-.7-.1-.7-1.6-1.5-1.4-.8-.9 .8zM153.3 122.1q2.5 4.2 4.5 4.9 2 .6 .5-3.1-1.4-3.7-2.7-5.6-1.4-1.9-2.4-2.8-1-.9-1.2-.2-.1 .6-.9 .3-.7-.3-.5 1 .2 1.3 2.7 5.5zM163.6 126.5q.8-.2 .8-1.4 0-1.2-1.1-.3-1.1 .9-.8 1.4 .3 .6 1.1 .3zM153 145.7q.2 .2 1.2-.8 1.1-1-.1-1.7-1.3-.8-1.3 .8-.1 1.5 .2 1.7zM164.4 146.6q0-1.2-.4-1.2-.4 0 0 1.2 .4 1.2 .4 0z" fill="#fff2fb" stroke="#4a1a60" stroke-width="0.5" stroke-opacity="0.45"/></g></svg>
</svg>
</body>
</html>
